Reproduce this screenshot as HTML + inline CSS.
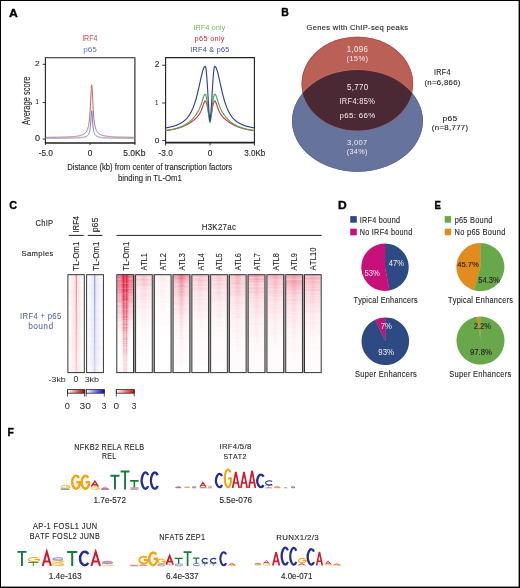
<!DOCTYPE html>
<html><head><meta charset="utf-8"><style>
html,body{margin:0;padding:0;background:#fff;}
svg{display:block;will-change:transform;}
text{font-family:"Liberation Sans", sans-serif;font-kerning:none;}
</style></head><body>
<svg width="520" height="588" viewBox="0 0 520 588">
<rect width="520" height="588" fill="#fff"/>
<text transform="translate(9.10,16.50) scale(1.0511,1)" font-size="11.628" fill="#000" font-weight="bold" stroke="#000" stroke-width="0.35">A</text>
<text transform="translate(281.30,16.40) scale(0.9500,1)" font-size="11.047" fill="#000" font-weight="bold" stroke="#000" stroke-width="0.35">B</text>
<text transform="translate(9.15,209.29) scale(0.9492,1)" font-size="11.441" fill="#000" font-weight="bold" stroke="#000" stroke-width="0.35">C</text>
<text transform="translate(338.09,209.10) scale(1.0923,1)" font-size="11.047" fill="#000" font-weight="bold" stroke="#000" stroke-width="0.35">D</text>
<text transform="translate(434.56,209.30) scale(0.8490,1)" font-size="11.337" fill="#000" font-weight="bold" stroke="#000" stroke-width="0.35">E</text>
<text transform="translate(7.60,435.50) scale(0.9583,1)" font-size="10.901" fill="#000" font-weight="bold" stroke="#000" stroke-width="0.35">F</text>
<text transform="translate(82.15,41.00) scale(0.8497,1)" font-size="8.285" fill="#c0504d">IRF4</text>
<text transform="translate(83.17,52.20) scale(1.1089,1)" font-size="7.447" fill="#5b74b4">p65</text>
<text transform="translate(193.46,29.70) scale(0.9237,1)" font-size="7.521" fill="#6cb45a" letter-spacing="0.301">IRF4 only</text>
<text transform="translate(194.62,41.10) scale(1.0097,1)" font-size="7.314" fill="#c8283f" letter-spacing="0.293">p65 only</text>
<text transform="translate(190.34,52.40) scale(0.8967,1)" font-size="8.020" fill="#34468c" letter-spacing="0.321">IRF4 &amp; p65</text>
<path d="M45.4,143.0 V57.8 H134.9 V143.0" fill="none" stroke="#231f20" stroke-width="1.1"/>
<line x1="44.9" y1="143.0" x2="135.4" y2="143.0" stroke="#231f20" stroke-width="1.6"/>
<line x1="42.6" y1="64.3" x2="45.4" y2="64.3" stroke="#231f20" stroke-width="0.9"/>
<line x1="42.6" y1="102.6" x2="45.4" y2="102.6" stroke="#231f20" stroke-width="0.9"/>
<line x1="42.6" y1="139.0" x2="45.4" y2="139.0" stroke="#231f20" stroke-width="0.9"/>
<line x1="45.4" y1="143.0" x2="45.4" y2="145.0" stroke="#231f20" stroke-width="0.9"/>
<line x1="90.1" y1="143.0" x2="90.1" y2="145.0" stroke="#231f20" stroke-width="0.9"/>
<line x1="134.9" y1="143.0" x2="134.9" y2="145.0" stroke="#231f20" stroke-width="0.9"/>
<text transform="translate(35.08,66.00) scale(1.0786,1)" font-size="7.734" fill="#231f20" stroke="#231f20" stroke-width="0.12">2</text>
<text transform="translate(35.44,103.50) scale(0.8298,1)" font-size="7.268" fill="#231f20" stroke="#231f20" stroke-width="0.12">1</text>
<text transform="translate(35.05,141.40) scale(1.0646,1)" font-size="8.450" fill="#231f20" stroke="#231f20" stroke-width="0.12">0</text>
<text transform="translate(38.63,155.90) scale(0.9724,1)" font-size="8.593" fill="#231f20" stroke="#231f20" stroke-width="0.12">-5.0</text>
<text transform="translate(87.77,155.90) scale(0.9738,1)" font-size="8.593" fill="#231f20" stroke="#231f20" stroke-width="0.12">0</text>
<text transform="translate(123.16,155.90) scale(1.0353,1)" font-size="8.280" fill="#231f20" stroke="#231f20" stroke-width="0.12">5.0Kb</text>
<text transform="translate(30.30,125.11) rotate(-90) scale(0.6830,1)" font-size="11.047" fill="#231f20" stroke="#231f20" stroke-width="0.12">Average score</text>
<path d="M165.6,142.6 V57.6 H254.4 V142.6" fill="none" stroke="#231f20" stroke-width="1.1"/>
<line x1="165.1" y1="142.6" x2="254.9" y2="142.6" stroke="#231f20" stroke-width="1.6"/>
<line x1="162.2" y1="65.2" x2="165.6" y2="65.2" stroke="#231f20" stroke-width="0.9"/>
<line x1="162.2" y1="103.0" x2="165.6" y2="103.0" stroke="#231f20" stroke-width="0.9"/>
<line x1="162.2" y1="140.6" x2="165.6" y2="140.6" stroke="#231f20" stroke-width="0.9"/>
<line x1="165.6" y1="142.6" x2="165.6" y2="145.6" stroke="#231f20" stroke-width="0.9"/>
<line x1="210.0" y1="142.6" x2="210.0" y2="145.6" stroke="#231f20" stroke-width="0.9"/>
<line x1="254.4" y1="142.6" x2="254.4" y2="145.6" stroke="#231f20" stroke-width="0.9"/>
<text transform="translate(154.68,67.40) scale(0.9872,1)" font-size="8.450" fill="#231f20" stroke="#231f20" stroke-width="0.12">2</text>
<text transform="translate(155.19,104.80) scale(0.7196,1)" font-size="7.413" fill="#231f20" stroke="#231f20" stroke-width="0.12">1</text>
<text transform="translate(154.87,142.70) scale(1.1236,1)" font-size="7.447" fill="#231f20" stroke="#231f20" stroke-width="0.12">0</text>
<text transform="translate(158.53,155.90) scale(0.9653,1)" font-size="8.593" fill="#231f20" stroke="#231f20" stroke-width="0.12">-3.0</text>
<text transform="translate(207.67,155.90) scale(0.9738,1)" font-size="8.593" fill="#231f20" stroke="#231f20" stroke-width="0.12">0</text>
<text transform="translate(244.19,155.90) scale(0.9773,1)" font-size="8.280" fill="#231f20" stroke="#231f20" stroke-width="0.12">3.0Kb</text>
<text transform="translate(67.16,169.80) scale(0.8505,1)" font-size="9.108" fill="#231f20" stroke="#231f20" stroke-width="0.12">Distance (kb) from center of transcription factors</text>
<text transform="translate(118.00,180.50) scale(0.8526,1)" font-size="9.108" fill="#231f20" stroke="#231f20" stroke-width="0.12">binding in TL-Om1</text>
<polyline points="45.35,137.35 45.50,137.34 45.65,137.34 45.80,137.34 45.95,137.34 46.10,137.34 46.24,137.34 46.39,137.34 46.54,137.34 46.69,137.34 46.84,137.33 46.99,137.33 47.14,137.33 47.29,137.33 47.44,137.33 47.59,137.33 47.74,137.33 47.89,137.33 48.03,137.33 48.18,137.32 48.33,137.32 48.48,137.32 48.63,137.32 48.78,137.32 48.93,137.32 49.08,137.32 49.23,137.32 49.38,137.31 49.53,137.31 49.68,137.31 49.82,137.31 49.97,137.31 50.12,137.31 50.27,137.31 50.42,137.30 50.57,137.30 50.72,137.30 50.87,137.30 51.02,137.30 51.17,137.30 51.32,137.30 51.47,137.29 51.61,137.29 51.76,137.29 51.91,137.29 52.06,137.29 52.21,137.29 52.36,137.28 52.51,137.28 52.66,137.28 52.81,137.28 52.96,137.28 53.11,137.28 53.26,137.27 53.40,137.27 53.55,137.27 53.70,137.27 53.85,137.27 54.00,137.27 54.15,137.26 54.30,137.26 54.45,137.26 54.60,137.26 54.75,137.26 54.90,137.25 55.05,137.25 55.19,137.25 55.34,137.25 55.49,137.25 55.64,137.24 55.79,137.24 55.94,137.24 56.09,137.24 56.24,137.24 56.39,137.23 56.54,137.23 56.69,137.23 56.84,137.23 56.98,137.22 57.13,137.22 57.28,137.22 57.43,137.22 57.58,137.22 57.73,137.21 57.88,137.21 58.03,137.21 58.18,137.21 58.33,137.20 58.48,137.20 58.63,137.20 58.77,137.19 58.92,137.19 59.07,137.19 59.22,137.19 59.37,137.18 59.52,137.18 59.67,137.18 59.82,137.18 59.97,137.17 60.12,137.17 60.27,137.17 60.42,137.16 60.56,137.16 60.71,137.16 60.86,137.15 61.01,137.15 61.16,137.15 61.31,137.14 61.46,137.14 61.61,137.14 61.76,137.13 61.91,137.13 62.06,137.13 62.21,137.12 62.35,137.12 62.50,137.12 62.65,137.11 62.80,137.11 62.95,137.10 63.10,137.10 63.25,137.10 63.40,137.09 63.55,137.09 63.70,137.08 63.85,137.08 64.00,137.07 64.14,137.07 64.29,137.07 64.44,137.06 64.59,137.06 64.74,137.05 64.89,137.05 65.04,137.04 65.19,137.04 65.34,137.03 65.49,137.03 65.64,137.02 65.79,137.02 65.94,137.01 66.08,137.01 66.23,137.00 66.38,137.00 66.53,136.99 66.68,136.98 66.83,136.98 66.98,136.97 67.13,136.97 67.28,136.96 67.43,136.95 67.58,136.95 67.72,136.94 67.87,136.94 68.02,136.93 68.17,136.92 68.32,136.92 68.47,136.91 68.62,136.90 68.77,136.89 68.92,136.89 69.07,136.88 69.22,136.87 69.37,136.86 69.51,136.86 69.66,136.85 69.81,136.84 69.96,136.83 70.11,136.82 70.26,136.81 70.41,136.81 70.56,136.80 70.71,136.79 70.86,136.78 71.01,136.77 71.16,136.76 71.30,136.75 71.45,136.74 71.60,136.73 71.75,136.72 71.90,136.71 72.05,136.70 72.20,136.69 72.35,136.68 72.50,136.66 72.65,136.65 72.80,136.64 72.95,136.63 73.09,136.62 73.24,136.60 73.39,136.59 73.54,136.58 73.69,136.56 73.84,136.55 73.99,136.54 74.14,136.52 74.29,136.51 74.44,136.49 74.59,136.48 74.74,136.46 74.88,136.44 75.03,136.43 75.18,136.41 75.33,136.39 75.48,136.38 75.63,136.36 75.78,136.34 75.93,136.32 76.08,136.30 76.23,136.28 76.38,136.26 76.53,136.24 76.67,136.22 76.82,136.20 76.97,136.18 77.12,136.15 77.27,136.13 77.42,136.11 77.57,136.08 77.72,136.06 77.87,136.03 78.02,136.01 78.17,135.98 78.32,135.95 78.47,135.92 78.61,135.89 78.76,135.86 78.91,135.83 79.06,135.80 79.21,135.77 79.36,135.73 79.51,135.70 79.66,135.66 79.81,135.63 79.96,135.59 80.11,135.55 80.25,135.51 80.40,135.47 80.55,135.43 80.70,135.39 80.85,135.34 81.00,135.29 81.15,135.25 81.30,135.20 81.45,135.15 81.60,135.09 81.75,135.04 81.90,134.98 82.04,134.93 82.19,134.87 82.34,134.80 82.49,134.74 82.64,134.67 82.79,134.60 82.94,134.53 83.09,134.46 83.24,134.38 83.39,134.30 83.54,134.21 83.69,134.13 83.83,134.03 83.98,133.94 84.13,133.84 84.28,133.74 84.43,133.63 84.58,133.51 84.73,133.40 84.88,133.27 85.03,133.14 85.18,133.00 85.33,132.86 85.48,132.70 85.62,132.54 85.77,132.37 85.92,132.19 86.07,132.00 86.22,131.79 86.37,131.57 86.52,131.34 86.67,131.09 86.82,130.83 86.97,130.54 87.12,130.23 87.27,129.90 87.41,129.54 87.56,129.15 87.71,128.73 87.86,128.27 88.01,127.77 88.16,127.22 88.31,126.61 88.46,125.94 88.61,125.21 88.76,124.39 88.91,123.49 89.06,122.48 89.20,121.36 89.35,120.10 89.50,118.69 89.65,117.12 89.80,115.35 89.95,113.39 90.10,111.19 90.25,108.76 90.40,106.10 90.55,103.22 90.70,100.17 90.85,97.01 90.99,93.87 91.14,90.91 91.29,88.33 91.44,86.35 91.59,85.15 91.74,84.86 91.89,85.52 92.04,87.05 92.19,89.30 92.34,92.06 92.49,95.11 92.64,98.28 92.78,101.41 92.93,104.40 93.08,107.20 93.23,109.76 93.38,112.10 93.53,114.20 93.68,116.08 93.83,117.77 93.98,119.27 94.13,120.62 94.28,121.82 94.43,122.90 94.57,123.86 94.72,124.73 94.87,125.51 95.02,126.22 95.17,126.86 95.32,127.44 95.47,127.97 95.62,128.46 95.77,128.90 95.92,129.31 96.07,129.69 96.22,130.04 96.36,130.36 96.51,130.66 96.66,130.93 96.81,131.19 96.96,131.44 97.11,131.66 97.26,131.87 97.41,132.07 97.56,132.26 97.71,132.44 97.86,132.61 98.01,132.76 98.16,132.92 98.30,133.06 98.45,133.19 98.60,133.32 98.75,133.44 98.90,133.56 99.05,133.67 99.20,133.78 99.35,133.88 99.50,133.98 99.65,134.07 99.80,134.16 99.94,134.25 100.09,134.33 100.24,134.41 100.39,134.49 100.54,134.56 100.69,134.63 100.84,134.70 100.99,134.76 101.14,134.83 101.29,134.89 101.44,134.95 101.59,135.01 101.73,135.06 101.88,135.12 102.03,135.17 102.18,135.22 102.33,135.27 102.48,135.31 102.63,135.36 102.78,135.40 102.93,135.45 103.08,135.49 103.23,135.53 103.38,135.57 103.52,135.61 103.67,135.64 103.82,135.68 103.97,135.71 104.12,135.75 104.27,135.78 104.42,135.81 104.57,135.84 104.72,135.88 104.87,135.91 105.02,135.93 105.17,135.96 105.31,135.99 105.46,136.02 105.61,136.04 105.76,136.07 105.91,136.09 106.06,136.12 106.21,136.14 106.36,136.16 106.51,136.19 106.66,136.21 106.81,136.23 106.96,136.25 107.10,136.27 107.25,136.29 107.40,136.31 107.55,136.33 107.70,136.35 107.85,136.37 108.00,136.38 108.15,136.40 108.30,136.42 108.45,136.43 108.60,136.45 108.75,136.47 108.89,136.48 109.04,136.50 109.19,136.51 109.34,136.53 109.49,136.54 109.64,136.55 109.79,136.57 109.94,136.58 110.09,136.59 110.24,136.61 110.39,136.62 110.54,136.63 110.69,136.64 110.83,136.66 110.98,136.67 111.13,136.68 111.28,136.69 111.43,136.70 111.58,136.71 111.73,136.72 111.88,136.73 112.03,136.74 112.18,136.75 112.33,136.76 112.47,136.77 112.62,136.78 112.77,136.79 112.92,136.80 113.07,136.81 113.22,136.82 113.37,136.83 113.52,136.83 113.67,136.84 113.82,136.85 113.97,136.86 114.12,136.87 114.26,136.87 114.41,136.88 114.56,136.89 114.71,136.90 114.86,136.90 115.01,136.91 115.16,136.92 115.31,136.92 115.46,136.93 115.61,136.94 115.76,136.94 115.91,136.95 116.05,136.96 116.20,136.96 116.35,136.97 116.50,136.98 116.65,136.98 116.80,136.99 116.95,136.99 117.10,137.00 117.25,137.00 117.40,137.01 117.55,137.01 117.70,137.02 117.84,137.02 117.99,137.03 118.14,137.03 118.29,137.04 118.44,137.04 118.59,137.05 118.74,137.05 118.89,137.06 119.04,137.06 119.19,137.07 119.34,137.07 119.49,137.08 119.64,137.08 119.78,137.08 119.93,137.09 120.08,137.09 120.23,137.10 120.38,137.10 120.53,137.11 120.68,137.11 120.83,137.11 120.98,137.12 121.13,137.12 121.28,137.12 121.42,137.13 121.57,137.13 121.72,137.13 121.87,137.14 122.02,137.14 122.17,137.14 122.32,137.15 122.47,137.15 122.62,137.15 122.77,137.16 122.92,137.16 123.07,137.16 123.21,137.17 123.36,137.17 123.51,137.17 123.66,137.18 123.81,137.18 123.96,137.18 124.11,137.18 124.26,137.19 124.41,137.19 124.56,137.19 124.71,137.20 124.86,137.20 125.00,137.20 125.15,137.20 125.30,137.21 125.45,137.21 125.60,137.21 125.75,137.21 125.90,137.22 126.05,137.22 126.20,137.22 126.35,137.22 126.50,137.23 126.65,137.23 126.79,137.23 126.94,137.23 127.09,137.23 127.24,137.24 127.39,137.24 127.54,137.24 127.69,137.24 127.84,137.25 127.99,137.25 128.14,137.25 128.29,137.25 128.44,137.25 128.59,137.26 128.73,137.26 128.88,137.26 129.03,137.26 129.18,137.26 129.33,137.26 129.48,137.27 129.63,137.27 129.78,137.27 129.93,137.27 130.08,137.27 130.23,137.28 130.38,137.28 130.52,137.28 130.67,137.28 130.82,137.28 130.97,137.28 131.12,137.29 131.27,137.29 131.42,137.29 131.57,137.29 131.72,137.29 131.87,137.29 132.02,137.29 132.16,137.30 132.31,137.30 132.46,137.30 132.61,137.30 132.76,137.30 132.91,137.30 133.06,137.31 133.21,137.31 133.36,137.31 133.51,137.31 133.66,137.31 133.81,137.31 133.95,137.31 134.10,137.31 134.25,137.32 134.40,137.32 134.55,137.32 134.70,137.32 134.85,137.32" fill="none" stroke="#c9605a" stroke-width="1.0" stroke-linejoin="round"/>
<polyline points="45.35,138.28 45.50,138.28 45.65,138.28 45.80,138.28 45.95,138.28 46.10,138.28 46.24,138.28 46.39,138.28 46.54,138.28 46.69,138.28 46.84,138.28 46.99,138.28 47.14,138.27 47.29,138.27 47.44,138.27 47.59,138.27 47.74,138.27 47.89,138.27 48.03,138.27 48.18,138.27 48.33,138.27 48.48,138.27 48.63,138.27 48.78,138.27 48.93,138.27 49.08,138.27 49.23,138.27 49.38,138.27 49.53,138.27 49.68,138.27 49.82,138.27 49.97,138.27 50.12,138.27 50.27,138.27 50.42,138.27 50.57,138.27 50.72,138.27 50.87,138.27 51.02,138.26 51.17,138.26 51.32,138.26 51.47,138.26 51.61,138.26 51.76,138.26 51.91,138.26 52.06,138.26 52.21,138.26 52.36,138.26 52.51,138.26 52.66,138.26 52.81,138.26 52.96,138.26 53.11,138.26 53.26,138.26 53.40,138.26 53.55,138.26 53.70,138.26 53.85,138.26 54.00,138.25 54.15,138.25 54.30,138.25 54.45,138.25 54.60,138.25 54.75,138.25 54.90,138.25 55.05,138.25 55.19,138.25 55.34,138.25 55.49,138.25 55.64,138.25 55.79,138.25 55.94,138.25 56.09,138.25 56.24,138.25 56.39,138.24 56.54,138.24 56.69,138.24 56.84,138.24 56.98,138.24 57.13,138.24 57.28,138.24 57.43,138.24 57.58,138.24 57.73,138.24 57.88,138.24 58.03,138.24 58.18,138.24 58.33,138.23 58.48,138.23 58.63,138.23 58.77,138.23 58.92,138.23 59.07,138.23 59.22,138.23 59.37,138.23 59.52,138.23 59.67,138.23 59.82,138.23 59.97,138.23 60.12,138.22 60.27,138.22 60.42,138.22 60.56,138.22 60.71,138.22 60.86,138.22 61.01,138.22 61.16,138.22 61.31,138.22 61.46,138.22 61.61,138.21 61.76,138.21 61.91,138.21 62.06,138.21 62.21,138.21 62.35,138.21 62.50,138.21 62.65,138.21 62.80,138.21 62.95,138.20 63.10,138.20 63.25,138.20 63.40,138.20 63.55,138.20 63.70,138.20 63.85,138.20 64.00,138.20 64.14,138.19 64.29,138.19 64.44,138.19 64.59,138.19 64.74,138.19 64.89,138.19 65.04,138.18 65.19,138.18 65.34,138.18 65.49,138.18 65.64,138.18 65.79,138.18 65.94,138.18 66.08,138.17 66.23,138.17 66.38,138.17 66.53,138.17 66.68,138.17 66.83,138.16 66.98,138.16 67.13,138.16 67.28,138.16 67.43,138.16 67.58,138.16 67.72,138.15 67.87,138.15 68.02,138.15 68.17,138.15 68.32,138.14 68.47,138.14 68.62,138.14 68.77,138.14 68.92,138.14 69.07,138.13 69.22,138.13 69.37,138.13 69.51,138.13 69.66,138.12 69.81,138.12 69.96,138.12 70.11,138.12 70.26,138.11 70.41,138.11 70.56,138.11 70.71,138.10 70.86,138.10 71.01,138.10 71.16,138.09 71.30,138.09 71.45,138.09 71.60,138.09 71.75,138.08 71.90,138.08 72.05,138.07 72.20,138.07 72.35,138.07 72.50,138.06 72.65,138.06 72.80,138.06 72.95,138.05 73.09,138.05 73.24,138.04 73.39,138.04 73.54,138.04 73.69,138.03 73.84,138.03 73.99,138.02 74.14,138.02 74.29,138.01 74.44,138.01 74.59,138.00 74.74,138.00 74.88,137.99 75.03,137.99 75.18,137.98 75.33,137.98 75.48,137.97 75.63,137.96 75.78,137.96 75.93,137.95 76.08,137.95 76.23,137.94 76.38,137.93 76.53,137.93 76.67,137.92 76.82,137.91 76.97,137.90 77.12,137.90 77.27,137.89 77.42,137.88 77.57,137.87 77.72,137.86 77.87,137.86 78.02,137.85 78.17,137.84 78.32,137.83 78.47,137.82 78.61,137.81 78.76,137.80 78.91,137.79 79.06,137.78 79.21,137.77 79.36,137.76 79.51,137.74 79.66,137.73 79.81,137.72 79.96,137.71 80.11,137.69 80.25,137.68 80.40,137.67 80.55,137.65 80.70,137.64 80.85,137.62 81.00,137.61 81.15,137.59 81.30,137.57 81.45,137.56 81.60,137.54 81.75,137.52 81.90,137.50 82.04,137.48 82.19,137.46 82.34,137.44 82.49,137.42 82.64,137.39 82.79,137.37 82.94,137.34 83.09,137.32 83.24,137.29 83.39,137.26 83.54,137.24 83.69,137.21 83.83,137.17 83.98,137.14 84.13,137.11 84.28,137.07 84.43,137.04 84.58,137.00 84.73,136.96 84.88,136.92 85.03,136.87 85.18,136.82 85.33,136.78 85.48,136.72 85.62,136.67 85.77,136.61 85.92,136.55 86.07,136.49 86.22,136.42 86.37,136.35 86.52,136.28 86.67,136.19 86.82,136.11 86.97,136.01 87.12,135.91 87.27,135.81 87.41,135.69 87.56,135.57 87.71,135.43 87.86,135.28 88.01,135.12 88.16,134.94 88.31,134.74 88.46,134.52 88.61,134.27 88.76,134.00 88.91,133.69 89.06,133.34 89.20,132.94 89.35,132.48 89.50,131.96 89.65,131.35 89.80,130.65 89.95,129.83 90.10,128.86 90.25,127.73 90.40,126.40 90.55,124.84 90.70,123.04 90.85,121.00 90.99,118.75 91.14,116.39 91.29,114.13 91.44,112.23 91.59,111.01 91.74,110.71 91.89,111.40 92.04,112.92 92.19,115.01 92.34,117.34 92.49,119.67 92.64,121.85 92.78,123.79 92.93,125.49 93.08,126.96 93.23,128.20 93.38,129.27 93.53,130.17 93.68,130.94 93.83,131.61 93.98,132.18 94.13,132.67 94.28,133.11 94.43,133.48 94.57,133.82 94.72,134.11 94.87,134.37 95.02,134.61 95.17,134.82 95.32,135.01 95.47,135.18 95.62,135.34 95.77,135.48 95.92,135.62 96.07,135.74 96.22,135.85 96.36,135.96 96.51,136.05 96.66,136.14 96.81,136.23 96.96,136.31 97.11,136.38 97.26,136.45 97.41,136.52 97.56,136.58 97.71,136.64 97.86,136.69 98.01,136.75 98.16,136.80 98.30,136.84 98.45,136.89 98.60,136.93 98.75,136.97 98.90,137.01 99.05,137.05 99.20,137.09 99.35,137.12 99.50,137.16 99.65,137.19 99.80,137.22 99.94,137.25 100.09,137.28 100.24,137.30 100.39,137.33 100.54,137.35 100.69,137.38 100.84,137.40 100.99,137.42 101.14,137.45 101.29,137.47 101.44,137.49 101.59,137.51 101.73,137.53 101.88,137.54 102.03,137.56 102.18,137.58 102.33,137.60 102.48,137.61 102.63,137.63 102.78,137.64 102.93,137.66 103.08,137.67 103.23,137.69 103.38,137.70 103.52,137.71 103.67,137.72 103.82,137.74 103.97,137.75 104.12,137.76 104.27,137.77 104.42,137.78 104.57,137.79 104.72,137.80 104.87,137.81 105.02,137.82 105.17,137.83 105.31,137.84 105.46,137.85 105.61,137.86 105.76,137.87 105.91,137.88 106.06,137.88 106.21,137.89 106.36,137.90 106.51,137.91 106.66,137.91 106.81,137.92 106.96,137.93 107.10,137.94 107.25,137.94 107.40,137.95 107.55,137.95 107.70,137.96 107.85,137.97 108.00,137.97 108.15,137.98 108.30,137.98 108.45,137.99 108.60,137.99 108.75,138.00 108.89,138.00 109.04,138.01 109.19,138.01 109.34,138.02 109.49,138.02 109.64,138.03 109.79,138.03 109.94,138.04 110.09,138.04 110.24,138.05 110.39,138.05 110.54,138.05 110.69,138.06 110.83,138.06 110.98,138.07 111.13,138.07 111.28,138.07 111.43,138.08 111.58,138.08 111.73,138.08 111.88,138.09 112.03,138.09 112.18,138.09 112.33,138.10 112.47,138.10 112.62,138.10 112.77,138.11 112.92,138.11 113.07,138.11 113.22,138.11 113.37,138.12 113.52,138.12 113.67,138.12 113.82,138.12 113.97,138.13 114.12,138.13 114.26,138.13 114.41,138.13 114.56,138.14 114.71,138.14 114.86,138.14 115.01,138.14 115.16,138.15 115.31,138.15 115.46,138.15 115.61,138.15 115.76,138.15 115.91,138.16 116.05,138.16 116.20,138.16 116.35,138.16 116.50,138.16 116.65,138.17 116.80,138.17 116.95,138.17 117.10,138.17 117.25,138.17 117.40,138.17 117.55,138.18 117.70,138.18 117.84,138.18 117.99,138.18 118.14,138.18 118.29,138.18 118.44,138.19 118.59,138.19 118.74,138.19 118.89,138.19 119.04,138.19 119.19,138.19 119.34,138.19 119.49,138.20 119.64,138.20 119.78,138.20 119.93,138.20 120.08,138.20 120.23,138.20 120.38,138.20 120.53,138.20 120.68,138.21 120.83,138.21 120.98,138.21 121.13,138.21 121.28,138.21 121.42,138.21 121.57,138.21 121.72,138.21 121.87,138.21 122.02,138.22 122.17,138.22 122.32,138.22 122.47,138.22 122.62,138.22 122.77,138.22 122.92,138.22 123.07,138.22 123.21,138.22 123.36,138.22 123.51,138.23 123.66,138.23 123.81,138.23 123.96,138.23 124.11,138.23 124.26,138.23 124.41,138.23 124.56,138.23 124.71,138.23 124.86,138.23 125.00,138.23 125.15,138.24 125.30,138.24 125.45,138.24 125.60,138.24 125.75,138.24 125.90,138.24 126.05,138.24 126.20,138.24 126.35,138.24 126.50,138.24 126.65,138.24 126.79,138.24 126.94,138.24 127.09,138.24 127.24,138.25 127.39,138.25 127.54,138.25 127.69,138.25 127.84,138.25 127.99,138.25 128.14,138.25 128.29,138.25 128.44,138.25 128.59,138.25 128.73,138.25 128.88,138.25 129.03,138.25 129.18,138.25 129.33,138.25 129.48,138.25 129.63,138.26 129.78,138.26 129.93,138.26 130.08,138.26 130.23,138.26 130.38,138.26 130.52,138.26 130.67,138.26 130.82,138.26 130.97,138.26 131.12,138.26 131.27,138.26 131.42,138.26 131.57,138.26 131.72,138.26 131.87,138.26 132.02,138.26 132.16,138.26 132.31,138.26 132.46,138.26 132.61,138.27 132.76,138.27 132.91,138.27 133.06,138.27 133.21,138.27 133.36,138.27 133.51,138.27 133.66,138.27 133.81,138.27 133.95,138.27 134.10,138.27 134.25,138.27 134.40,138.27 134.55,138.27 134.70,138.27 134.85,138.27" fill="none" stroke="#6a80c0" stroke-width="1.0" stroke-linejoin="round"/>
<polyline points="165.60,130.65 165.75,130.63 165.90,130.61 166.04,130.59 166.19,130.57 166.34,130.55 166.49,130.53 166.64,130.50 166.78,130.48 166.93,130.46 167.08,130.44 167.23,130.42 167.38,130.40 167.52,130.38 167.67,130.35 167.82,130.33 167.97,130.31 168.12,130.29 168.26,130.26 168.41,130.24 168.56,130.22 168.71,130.19 168.86,130.17 169.00,130.15 169.15,130.12 169.30,130.10 169.45,130.07 169.60,130.05 169.74,130.02 169.89,130.00 170.04,129.97 170.19,129.95 170.34,129.92 170.48,129.90 170.63,129.87 170.78,129.84 170.93,129.82 171.08,129.79 171.22,129.76 171.37,129.73 171.52,129.71 171.67,129.68 171.82,129.65 171.96,129.62 172.11,129.59 172.26,129.56 172.41,129.53 172.56,129.50 172.70,129.47 172.85,129.44 173.00,129.41 173.15,129.38 173.30,129.35 173.44,129.32 173.59,129.29 173.74,129.25 173.89,129.22 174.04,129.19 174.18,129.15 174.33,129.12 174.48,129.09 174.63,129.05 174.78,129.02 174.92,128.98 175.07,128.95 175.22,128.91 175.37,128.88 175.52,128.84 175.66,128.80 175.81,128.77 175.96,128.73 176.11,128.69 176.26,128.66 176.40,128.62 176.55,128.58 176.70,128.54 176.85,128.50 177.00,128.46 177.14,128.42 177.29,128.38 177.44,128.34 177.59,128.30 177.74,128.25 177.88,128.21 178.03,128.17 178.18,128.13 178.33,128.08 178.48,128.04 178.62,127.99 178.77,127.95 178.92,127.90 179.07,127.86 179.22,127.81 179.36,127.77 179.51,127.72 179.66,127.67 179.81,127.62 179.96,127.57 180.10,127.53 180.25,127.48 180.40,127.43 180.55,127.38 180.70,127.32 180.84,127.27 180.99,127.22 181.14,127.17 181.29,127.11 181.44,127.06 181.58,127.01 181.73,126.95 181.88,126.90 182.03,126.84 182.18,126.78 182.32,126.73 182.47,126.67 182.62,126.61 182.77,126.55 182.92,126.49 183.06,126.43 183.21,126.37 183.36,126.31 183.51,126.25 183.66,126.19 183.80,126.12 183.95,126.06 184.10,126.00 184.25,125.93 184.40,125.87 184.54,125.80 184.69,125.73 184.84,125.66 184.99,125.60 185.14,125.53 185.28,125.46 185.43,125.39 185.58,125.32 185.73,125.24 185.88,125.17 186.02,125.10 186.17,125.03 186.32,124.95 186.47,124.88 186.62,124.80 186.76,124.72 186.91,124.64 187.06,124.57 187.21,124.49 187.36,124.41 187.50,124.33 187.65,124.25 187.80,124.16 187.95,124.08 188.10,124.00 188.24,123.91 188.39,123.83 188.54,123.74 188.69,123.65 188.84,123.56 188.98,123.48 189.13,123.39 189.28,123.29 189.43,123.20 189.58,123.11 189.72,123.02 189.87,122.92 190.02,122.83 190.17,122.73 190.32,122.64 190.46,122.54 190.61,122.44 190.76,122.34 190.91,122.24 191.06,122.14 191.20,122.03 191.35,121.93 191.50,121.83 191.65,121.72 191.80,121.61 191.94,121.51 192.09,121.40 192.24,121.29 192.39,121.18 192.54,121.07 192.68,120.95 192.83,120.84 192.98,120.72 193.13,120.61 193.28,120.49 193.42,120.37 193.57,120.25 193.72,120.13 193.87,120.01 194.02,119.88 194.16,119.76 194.31,119.63 194.46,119.50 194.61,119.37 194.76,119.24 194.90,119.11 195.05,118.97 195.20,118.84 195.35,118.70 195.50,118.56 195.64,118.42 195.79,118.28 195.94,118.13 196.09,117.98 196.24,117.83 196.38,117.68 196.53,117.53 196.68,117.37 196.83,117.21 196.98,117.05 197.12,116.89 197.27,116.72 197.42,116.55 197.57,116.38 197.72,116.20 197.86,116.02 198.01,115.84 198.16,115.65 198.31,115.46 198.46,115.26 198.60,115.06 198.75,114.86 198.90,114.64 199.05,114.43 199.20,114.21 199.34,113.98 199.49,113.74 199.64,113.50 199.79,113.25 199.94,113.00 200.08,112.73 200.23,112.46 200.38,112.18 200.53,111.89 200.68,111.59 200.82,111.28 200.97,110.96 201.12,110.64 201.27,110.30 201.42,109.95 201.56,109.58 201.71,109.21 201.86,108.83 202.01,108.44 202.16,108.03 202.30,107.62 202.45,107.20 202.60,106.77 202.75,106.33 202.90,105.89 203.04,105.45 203.19,105.01 203.34,104.57 203.49,104.13 203.64,103.71 203.78,103.31 203.93,102.92 204.08,102.55 204.23,102.22 204.38,101.92 204.52,101.65 204.67,101.43 204.82,101.25 204.97,101.12 205.12,101.04 205.26,101.01 205.41,101.05 205.56,101.15 205.71,101.31 205.86,101.53 206.00,101.82 206.15,102.17 206.30,102.57 206.45,103.03 206.60,103.55 206.74,104.10 206.89,104.71 207.04,105.35 207.19,106.03 207.34,106.74 207.48,107.48 207.63,108.24 207.78,109.01 207.93,109.79 208.08,110.57 208.22,111.36 208.37,112.13 208.52,112.89 208.67,113.62 208.82,114.33 208.96,115.00 209.11,115.64 209.26,116.22 209.41,116.74 209.56,117.19 209.70,117.57 209.85,117.84 210.00,117.98 210.15,117.84 210.30,117.57 210.44,117.19 210.59,116.74 210.74,116.22 210.89,115.64 211.04,115.00 211.18,114.33 211.33,113.62 211.48,112.89 211.63,112.13 211.78,111.36 211.92,110.57 212.07,109.79 212.22,109.01 212.37,108.24 212.52,107.48 212.66,106.74 212.81,106.03 212.96,105.35 213.11,104.71 213.26,104.10 213.40,103.55 213.55,103.03 213.70,102.57 213.85,102.17 214.00,101.82 214.14,101.53 214.29,101.31 214.44,101.15 214.59,101.05 214.74,101.01 214.88,101.04 215.03,101.12 215.18,101.25 215.33,101.43 215.48,101.65 215.62,101.92 215.77,102.22 215.92,102.55 216.07,102.92 216.22,103.31 216.36,103.71 216.51,104.13 216.66,104.57 216.81,105.01 216.96,105.45 217.10,105.89 217.25,106.33 217.40,106.77 217.55,107.20 217.70,107.62 217.84,108.03 217.99,108.44 218.14,108.83 218.29,109.21 218.44,109.58 218.58,109.95 218.73,110.30 218.88,110.64 219.03,110.96 219.18,111.28 219.32,111.59 219.47,111.89 219.62,112.18 219.77,112.46 219.92,112.73 220.06,113.00 220.21,113.25 220.36,113.50 220.51,113.74 220.66,113.98 220.80,114.21 220.95,114.43 221.10,114.64 221.25,114.86 221.40,115.06 221.54,115.26 221.69,115.46 221.84,115.65 221.99,115.84 222.14,116.02 222.28,116.20 222.43,116.38 222.58,116.55 222.73,116.72 222.88,116.89 223.02,117.05 223.17,117.21 223.32,117.37 223.47,117.53 223.62,117.68 223.76,117.83 223.91,117.98 224.06,118.13 224.21,118.28 224.36,118.42 224.50,118.56 224.65,118.70 224.80,118.84 224.95,118.97 225.10,119.11 225.24,119.24 225.39,119.37 225.54,119.50 225.69,119.63 225.84,119.76 225.98,119.88 226.13,120.01 226.28,120.13 226.43,120.25 226.58,120.37 226.72,120.49 226.87,120.61 227.02,120.72 227.17,120.84 227.32,120.95 227.46,121.07 227.61,121.18 227.76,121.29 227.91,121.40 228.06,121.51 228.20,121.61 228.35,121.72 228.50,121.83 228.65,121.93 228.80,122.03 228.94,122.14 229.09,122.24 229.24,122.34 229.39,122.44 229.54,122.54 229.68,122.64 229.83,122.73 229.98,122.83 230.13,122.92 230.28,123.02 230.42,123.11 230.57,123.20 230.72,123.29 230.87,123.39 231.02,123.48 231.16,123.56 231.31,123.65 231.46,123.74 231.61,123.83 231.76,123.91 231.90,124.00 232.05,124.08 232.20,124.16 232.35,124.25 232.50,124.33 232.64,124.41 232.79,124.49 232.94,124.57 233.09,124.64 233.24,124.72 233.38,124.80 233.53,124.88 233.68,124.95 233.83,125.03 233.98,125.10 234.12,125.17 234.27,125.24 234.42,125.32 234.57,125.39 234.72,125.46 234.86,125.53 235.01,125.60 235.16,125.66 235.31,125.73 235.46,125.80 235.60,125.87 235.75,125.93 235.90,126.00 236.05,126.06 236.20,126.12 236.34,126.19 236.49,126.25 236.64,126.31 236.79,126.37 236.94,126.43 237.08,126.49 237.23,126.55 237.38,126.61 237.53,126.67 237.68,126.73 237.82,126.78 237.97,126.84 238.12,126.90 238.27,126.95 238.42,127.01 238.56,127.06 238.71,127.11 238.86,127.17 239.01,127.22 239.16,127.27 239.30,127.32 239.45,127.38 239.60,127.43 239.75,127.48 239.90,127.53 240.04,127.57 240.19,127.62 240.34,127.67 240.49,127.72 240.64,127.77 240.78,127.81 240.93,127.86 241.08,127.90 241.23,127.95 241.38,127.99 241.52,128.04 241.67,128.08 241.82,128.13 241.97,128.17 242.12,128.21 242.26,128.25 242.41,128.30 242.56,128.34 242.71,128.38 242.86,128.42 243.00,128.46 243.15,128.50 243.30,128.54 243.45,128.58 243.60,128.62 243.74,128.66 243.89,128.69 244.04,128.73 244.19,128.77 244.34,128.80 244.48,128.84 244.63,128.88 244.78,128.91 244.93,128.95 245.08,128.98 245.22,129.02 245.37,129.05 245.52,129.09 245.67,129.12 245.82,129.15 245.96,129.19 246.11,129.22 246.26,129.25 246.41,129.29 246.56,129.32 246.70,129.35 246.85,129.38 247.00,129.41 247.15,129.44 247.30,129.47 247.44,129.50 247.59,129.53 247.74,129.56 247.89,129.59 248.04,129.62 248.18,129.65 248.33,129.68 248.48,129.71 248.63,129.73 248.78,129.76 248.92,129.79 249.07,129.82 249.22,129.84 249.37,129.87 249.52,129.90 249.66,129.92 249.81,129.95 249.96,129.97 250.11,130.00 250.26,130.02 250.40,130.05 250.55,130.07 250.70,130.10 250.85,130.12 251.00,130.15 251.14,130.17 251.29,130.19 251.44,130.22 251.59,130.24 251.74,130.26 251.88,130.29 252.03,130.31 252.18,130.33 252.33,130.35 252.48,130.38 252.62,130.40 252.77,130.42 252.92,130.44 253.07,130.46 253.22,130.48 253.36,130.50 253.51,130.53 253.66,130.55 253.81,130.57 253.96,130.59 254.10,130.61 254.25,130.63 254.40,130.65" fill="none" stroke="#d62d55" stroke-width="1.15" stroke-linejoin="round"/>
<polyline points="165.60,130.59 165.75,130.57 165.90,130.55 166.04,130.53 166.19,130.51 166.34,130.48 166.49,130.46 166.64,130.44 166.78,130.42 166.93,130.40 167.08,130.37 167.23,130.35 167.38,130.33 167.52,130.30 167.67,130.28 167.82,130.26 167.97,130.23 168.12,130.21 168.26,130.18 168.41,130.16 168.56,130.13 168.71,130.11 168.86,130.08 169.00,130.06 169.15,130.03 169.30,130.00 169.45,129.98 169.60,129.95 169.74,129.92 169.89,129.90 170.04,129.87 170.19,129.84 170.34,129.81 170.48,129.79 170.63,129.76 170.78,129.73 170.93,129.70 171.08,129.67 171.22,129.64 171.37,129.61 171.52,129.58 171.67,129.55 171.82,129.52 171.96,129.48 172.11,129.45 172.26,129.42 172.41,129.39 172.56,129.36 172.70,129.32 172.85,129.29 173.00,129.26 173.15,129.22 173.30,129.19 173.44,129.15 173.59,129.12 173.74,129.08 173.89,129.05 174.04,129.01 174.18,128.97 174.33,128.94 174.48,128.90 174.63,128.86 174.78,128.82 174.92,128.78 175.07,128.74 175.22,128.70 175.37,128.66 175.52,128.62 175.66,128.58 175.81,128.54 175.96,128.50 176.11,128.46 176.26,128.42 176.40,128.37 176.55,128.33 176.70,128.29 176.85,128.24 177.00,128.20 177.14,128.15 177.29,128.10 177.44,128.06 177.59,128.01 177.74,127.96 177.88,127.92 178.03,127.87 178.18,127.82 178.33,127.77 178.48,127.72 178.62,127.67 178.77,127.62 178.92,127.56 179.07,127.51 179.22,127.46 179.36,127.40 179.51,127.35 179.66,127.29 179.81,127.24 179.96,127.18 180.10,127.13 180.25,127.07 180.40,127.01 180.55,126.95 180.70,126.89 180.84,126.83 180.99,126.77 181.14,126.71 181.29,126.65 181.44,126.58 181.58,126.52 181.73,126.45 181.88,126.39 182.03,126.32 182.18,126.26 182.32,126.19 182.47,126.12 182.62,126.05 182.77,125.98 182.92,125.91 183.06,125.84 183.21,125.77 183.36,125.69 183.51,125.62 183.66,125.54 183.80,125.47 183.95,125.39 184.10,125.31 184.25,125.23 184.40,125.15 184.54,125.07 184.69,124.99 184.84,124.91 184.99,124.82 185.14,124.74 185.28,124.65 185.43,124.57 185.58,124.48 185.73,124.39 185.88,124.30 186.02,124.21 186.17,124.12 186.32,124.02 186.47,123.93 186.62,123.83 186.76,123.74 186.91,123.64 187.06,123.54 187.21,123.44 187.36,123.34 187.50,123.24 187.65,123.13 187.80,123.03 187.95,122.92 188.10,122.81 188.24,122.71 188.39,122.60 188.54,122.48 188.69,122.37 188.84,122.26 188.98,122.14 189.13,122.02 189.28,121.91 189.43,121.79 189.58,121.66 189.72,121.54 189.87,121.42 190.02,121.29 190.17,121.16 190.32,121.04 190.46,120.90 190.61,120.77 190.76,120.64 190.91,120.50 191.06,120.37 191.20,120.23 191.35,120.09 191.50,119.95 191.65,119.80 191.80,119.66 191.94,119.51 192.09,119.36 192.24,119.21 192.39,119.06 192.54,118.90 192.68,118.74 192.83,118.58 192.98,118.42 193.13,118.26 193.28,118.10 193.42,117.93 193.57,117.76 193.72,117.59 193.87,117.41 194.02,117.24 194.16,117.06 194.31,116.88 194.46,116.70 194.61,116.51 194.76,116.32 194.90,116.13 195.05,115.94 195.20,115.74 195.35,115.54 195.50,115.34 195.64,115.14 195.79,114.93 195.94,114.72 196.09,114.50 196.24,114.28 196.38,114.06 196.53,113.84 196.68,113.61 196.83,113.38 196.98,113.14 197.12,112.90 197.27,112.66 197.42,112.41 197.57,112.16 197.72,111.90 197.86,111.64 198.01,111.37 198.16,111.10 198.31,110.82 198.46,110.54 198.60,110.25 198.75,109.96 198.90,109.66 199.05,109.35 199.20,109.04 199.34,108.71 199.49,108.39 199.64,108.05 199.79,107.71 199.94,107.36 200.08,107.00 200.23,106.64 200.38,106.26 200.53,105.88 200.68,105.49 200.82,105.09 200.97,104.68 201.12,104.27 201.27,103.84 201.42,103.41 201.56,102.97 201.71,102.53 201.86,102.08 202.01,101.62 202.16,101.16 202.30,100.69 202.45,100.23 202.60,99.76 202.75,99.29 202.90,98.83 203.04,98.38 203.19,97.93 203.34,97.49 203.49,97.07 203.64,96.67 203.78,96.28 203.93,95.92 204.08,95.59 204.23,95.29 204.38,95.02 204.52,94.78 204.67,94.59 204.82,94.43 204.97,94.32 205.12,94.25 205.26,94.23 205.41,94.28 205.56,94.45 205.71,94.72 205.86,95.09 206.00,95.57 206.15,96.15 206.30,96.83 206.45,97.59 206.60,98.45 206.74,99.38 206.89,100.39 207.04,101.46 207.19,102.59 207.34,103.78 207.48,105.00 207.63,106.26 207.78,107.55 207.93,108.85 208.08,110.16 208.22,111.46 208.37,112.75 208.52,114.02 208.67,115.24 208.82,116.42 208.96,117.55 209.11,118.60 209.26,119.56 209.41,120.43 209.56,121.19 209.70,121.82 209.85,122.28 210.00,122.50 210.15,122.28 210.30,121.82 210.44,121.19 210.59,120.43 210.74,119.56 210.89,118.60 211.04,117.55 211.18,116.42 211.33,115.24 211.48,114.02 211.63,112.75 211.78,111.46 211.92,110.16 212.07,108.85 212.22,107.55 212.37,106.26 212.52,105.00 212.66,103.78 212.81,102.59 212.96,101.46 213.11,100.39 213.26,99.38 213.40,98.45 213.55,97.59 213.70,96.83 213.85,96.15 214.00,95.57 214.14,95.09 214.29,94.72 214.44,94.45 214.59,94.28 214.74,94.23 214.88,94.25 215.03,94.32 215.18,94.43 215.33,94.59 215.48,94.78 215.62,95.02 215.77,95.29 215.92,95.59 216.07,95.92 216.22,96.28 216.36,96.67 216.51,97.07 216.66,97.49 216.81,97.93 216.96,98.38 217.10,98.83 217.25,99.29 217.40,99.76 217.55,100.23 217.70,100.69 217.84,101.16 217.99,101.62 218.14,102.08 218.29,102.53 218.44,102.97 218.58,103.41 218.73,103.84 218.88,104.27 219.03,104.68 219.18,105.09 219.32,105.49 219.47,105.88 219.62,106.26 219.77,106.64 219.92,107.00 220.06,107.36 220.21,107.71 220.36,108.05 220.51,108.39 220.66,108.71 220.80,109.04 220.95,109.35 221.10,109.66 221.25,109.96 221.40,110.25 221.54,110.54 221.69,110.82 221.84,111.10 221.99,111.37 222.14,111.64 222.28,111.90 222.43,112.16 222.58,112.41 222.73,112.66 222.88,112.90 223.02,113.14 223.17,113.38 223.32,113.61 223.47,113.84 223.62,114.06 223.76,114.28 223.91,114.50 224.06,114.72 224.21,114.93 224.36,115.14 224.50,115.34 224.65,115.54 224.80,115.74 224.95,115.94 225.10,116.13 225.24,116.32 225.39,116.51 225.54,116.70 225.69,116.88 225.84,117.06 225.98,117.24 226.13,117.41 226.28,117.59 226.43,117.76 226.58,117.93 226.72,118.10 226.87,118.26 227.02,118.42 227.17,118.58 227.32,118.74 227.46,118.90 227.61,119.06 227.76,119.21 227.91,119.36 228.06,119.51 228.20,119.66 228.35,119.80 228.50,119.95 228.65,120.09 228.80,120.23 228.94,120.37 229.09,120.50 229.24,120.64 229.39,120.77 229.54,120.90 229.68,121.04 229.83,121.16 229.98,121.29 230.13,121.42 230.28,121.54 230.42,121.66 230.57,121.79 230.72,121.91 230.87,122.02 231.02,122.14 231.16,122.26 231.31,122.37 231.46,122.48 231.61,122.60 231.76,122.71 231.90,122.81 232.05,122.92 232.20,123.03 232.35,123.13 232.50,123.24 232.64,123.34 232.79,123.44 232.94,123.54 233.09,123.64 233.24,123.74 233.38,123.83 233.53,123.93 233.68,124.02 233.83,124.12 233.98,124.21 234.12,124.30 234.27,124.39 234.42,124.48 234.57,124.57 234.72,124.65 234.86,124.74 235.01,124.82 235.16,124.91 235.31,124.99 235.46,125.07 235.60,125.15 235.75,125.23 235.90,125.31 236.05,125.39 236.20,125.47 236.34,125.54 236.49,125.62 236.64,125.69 236.79,125.77 236.94,125.84 237.08,125.91 237.23,125.98 237.38,126.05 237.53,126.12 237.68,126.19 237.82,126.26 237.97,126.32 238.12,126.39 238.27,126.45 238.42,126.52 238.56,126.58 238.71,126.65 238.86,126.71 239.01,126.77 239.16,126.83 239.30,126.89 239.45,126.95 239.60,127.01 239.75,127.07 239.90,127.13 240.04,127.18 240.19,127.24 240.34,127.29 240.49,127.35 240.64,127.40 240.78,127.46 240.93,127.51 241.08,127.56 241.23,127.62 241.38,127.67 241.52,127.72 241.67,127.77 241.82,127.82 241.97,127.87 242.12,127.92 242.26,127.96 242.41,128.01 242.56,128.06 242.71,128.10 242.86,128.15 243.00,128.20 243.15,128.24 243.30,128.29 243.45,128.33 243.60,128.37 243.74,128.42 243.89,128.46 244.04,128.50 244.19,128.54 244.34,128.58 244.48,128.62 244.63,128.66 244.78,128.70 244.93,128.74 245.08,128.78 245.22,128.82 245.37,128.86 245.52,128.90 245.67,128.94 245.82,128.97 245.96,129.01 246.11,129.05 246.26,129.08 246.41,129.12 246.56,129.15 246.70,129.19 246.85,129.22 247.00,129.26 247.15,129.29 247.30,129.32 247.44,129.36 247.59,129.39 247.74,129.42 247.89,129.45 248.04,129.48 248.18,129.52 248.33,129.55 248.48,129.58 248.63,129.61 248.78,129.64 248.92,129.67 249.07,129.70 249.22,129.73 249.37,129.76 249.52,129.79 249.66,129.81 249.81,129.84 249.96,129.87 250.11,129.90 250.26,129.92 250.40,129.95 250.55,129.98 250.70,130.00 250.85,130.03 251.00,130.06 251.14,130.08 251.29,130.11 251.44,130.13 251.59,130.16 251.74,130.18 251.88,130.21 252.03,130.23 252.18,130.26 252.33,130.28 252.48,130.30 252.62,130.33 252.77,130.35 252.92,130.37 253.07,130.40 253.22,130.42 253.36,130.44 253.51,130.46 253.66,130.48 253.81,130.51 253.96,130.53 254.10,130.55 254.25,130.57 254.40,130.59" fill="none" stroke="#4fa64f" stroke-width="1.15" stroke-linejoin="round"/>
<polyline points="165.60,127.88 165.75,127.86 165.90,127.83 166.04,127.81 166.19,127.79 166.34,127.76 166.49,127.74 166.64,127.71 166.78,127.69 166.93,127.66 167.08,127.63 167.23,127.61 167.38,127.58 167.52,127.56 167.67,127.53 167.82,127.50 167.97,127.47 168.12,127.45 168.26,127.42 168.41,127.39 168.56,127.36 168.71,127.33 168.86,127.30 169.00,127.27 169.15,127.24 169.30,127.21 169.45,127.18 169.60,127.15 169.74,127.12 169.89,127.09 170.04,127.05 170.19,127.02 170.34,126.99 170.48,126.96 170.63,126.92 170.78,126.89 170.93,126.85 171.08,126.82 171.22,126.78 171.37,126.75 171.52,126.71 171.67,126.67 171.82,126.64 171.96,126.60 172.11,126.56 172.26,126.52 172.41,126.48 172.56,126.44 172.70,126.40 172.85,126.36 173.00,126.32 173.15,126.28 173.30,126.24 173.44,126.20 173.59,126.15 173.74,126.11 173.89,126.07 174.04,126.02 174.18,125.98 174.33,125.93 174.48,125.88 174.63,125.84 174.78,125.79 174.92,125.74 175.07,125.69 175.22,125.64 175.37,125.59 175.52,125.54 175.66,125.49 175.81,125.44 175.96,125.38 176.11,125.33 176.26,125.28 176.40,125.22 176.55,125.17 176.70,125.11 176.85,125.05 177.00,124.99 177.14,124.93 177.29,124.87 177.44,124.81 177.59,124.75 177.74,124.69 177.88,124.63 178.03,124.56 178.18,124.50 178.33,124.43 178.48,124.37 178.62,124.30 178.77,124.23 178.92,124.16 179.07,124.09 179.22,124.02 179.36,123.94 179.51,123.87 179.66,123.79 179.81,123.72 179.96,123.64 180.10,123.56 180.25,123.48 180.40,123.40 180.55,123.32 180.70,123.24 180.84,123.15 180.99,123.07 181.14,122.98 181.29,122.89 181.44,122.80 181.58,122.71 181.73,122.62 181.88,122.52 182.03,122.43 182.18,122.33 182.32,122.23 182.47,122.13 182.62,122.03 182.77,121.93 182.92,121.82 183.06,121.71 183.21,121.60 183.36,121.49 183.51,121.38 183.66,121.27 183.80,121.15 183.95,121.03 184.10,120.91 184.25,120.79 184.40,120.67 184.54,120.54 184.69,120.41 184.84,120.28 184.99,120.15 185.14,120.02 185.28,119.88 185.43,119.74 185.58,119.60 185.73,119.46 185.88,119.31 186.02,119.16 186.17,119.01 186.32,118.85 186.47,118.70 186.62,118.54 186.76,118.37 186.91,118.21 187.06,118.04 187.21,117.87 187.36,117.69 187.50,117.51 187.65,117.33 187.80,117.15 187.95,116.96 188.10,116.77 188.24,116.57 188.39,116.37 188.54,116.17 188.69,115.97 188.84,115.76 188.98,115.54 189.13,115.32 189.28,115.10 189.43,114.88 189.58,114.65 189.72,114.41 189.87,114.17 190.02,113.93 190.17,113.68 190.32,113.43 190.46,113.17 190.61,112.91 190.76,112.64 190.91,112.37 191.06,112.09 191.20,111.81 191.35,111.52 191.50,111.22 191.65,110.92 191.80,110.62 191.94,110.31 192.09,109.99 192.24,109.66 192.39,109.33 192.54,109.00 192.68,108.66 192.83,108.31 192.98,107.95 193.13,107.59 193.28,107.22 193.42,106.84 193.57,106.46 193.72,106.07 193.87,105.67 194.02,105.26 194.16,104.85 194.31,104.43 194.46,104.00 194.61,103.57 194.76,103.12 194.90,102.67 195.05,102.21 195.20,101.74 195.35,101.26 195.50,100.78 195.64,100.28 195.79,99.78 195.94,99.27 196.09,98.75 196.24,98.23 196.38,97.69 196.53,97.15 196.68,96.59 196.83,96.03 196.98,95.46 197.12,94.89 197.27,94.30 197.42,93.71 197.57,93.11 197.72,92.50 197.86,91.88 198.01,91.26 198.16,90.63 198.31,90.00 198.46,89.35 198.60,88.70 198.75,88.05 198.90,87.39 199.05,86.73 199.20,86.06 199.34,85.39 199.49,84.71 199.64,84.04 199.79,83.36 199.94,82.68 200.08,82.00 200.23,81.32 200.38,80.65 200.53,79.97 200.68,79.30 200.82,78.63 200.97,77.97 201.12,77.32 201.27,76.67 201.42,76.03 201.56,75.40 201.71,74.78 201.86,74.18 202.01,73.58 202.16,73.00 202.30,72.44 202.45,71.90 202.60,71.37 202.75,70.87 202.90,70.38 203.04,69.92 203.19,69.48 203.34,69.06 203.49,68.67 203.64,68.31 203.78,67.98 203.93,67.67 204.08,67.39 204.23,67.15 204.38,66.93 204.52,66.75 204.67,66.60 204.82,66.48 204.97,66.40 205.12,66.35 205.26,66.33 205.41,66.44 205.56,66.75 205.71,67.27 205.86,68.00 206.00,68.93 206.15,70.05 206.30,71.35 206.45,72.84 206.60,74.48 206.74,76.29 206.89,78.23 207.04,80.31 207.19,82.50 207.34,84.79 207.48,87.16 207.63,89.60 207.78,92.09 207.93,94.60 208.08,97.13 208.22,99.65 208.37,102.14 208.52,104.59 208.67,106.96 208.82,109.24 208.96,111.41 209.11,113.44 209.26,115.31 209.41,117.00 209.56,118.46 209.70,119.67 209.85,120.56 210.00,121.00 210.15,120.56 210.30,119.67 210.44,118.46 210.59,117.00 210.74,115.31 210.89,113.44 211.04,111.41 211.18,109.24 211.33,106.96 211.48,104.59 211.63,102.14 211.78,99.65 211.92,97.13 212.07,94.60 212.22,92.09 212.37,89.60 212.52,87.16 212.66,84.79 212.81,82.50 212.96,80.31 213.11,78.23 213.26,76.29 213.40,74.48 213.55,72.84 213.70,71.35 213.85,70.05 214.00,68.93 214.14,68.00 214.29,67.27 214.44,66.75 214.59,66.44 214.74,66.33 214.88,66.35 215.03,66.40 215.18,66.48 215.33,66.60 215.48,66.75 215.62,66.93 215.77,67.15 215.92,67.39 216.07,67.67 216.22,67.98 216.36,68.31 216.51,68.67 216.66,69.06 216.81,69.48 216.96,69.92 217.10,70.38 217.25,70.87 217.40,71.37 217.55,71.90 217.70,72.44 217.84,73.00 217.99,73.58 218.14,74.18 218.29,74.78 218.44,75.40 218.58,76.03 218.73,76.67 218.88,77.32 219.03,77.97 219.18,78.63 219.32,79.30 219.47,79.97 219.62,80.65 219.77,81.32 219.92,82.00 220.06,82.68 220.21,83.36 220.36,84.04 220.51,84.71 220.66,85.39 220.80,86.06 220.95,86.73 221.10,87.39 221.25,88.05 221.40,88.70 221.54,89.35 221.69,90.00 221.84,90.63 221.99,91.26 222.14,91.88 222.28,92.50 222.43,93.11 222.58,93.71 222.73,94.30 222.88,94.89 223.02,95.46 223.17,96.03 223.32,96.59 223.47,97.15 223.62,97.69 223.76,98.23 223.91,98.75 224.06,99.27 224.21,99.78 224.36,100.28 224.50,100.78 224.65,101.26 224.80,101.74 224.95,102.21 225.10,102.67 225.24,103.12 225.39,103.57 225.54,104.00 225.69,104.43 225.84,104.85 225.98,105.26 226.13,105.67 226.28,106.07 226.43,106.46 226.58,106.84 226.72,107.22 226.87,107.59 227.02,107.95 227.17,108.31 227.32,108.66 227.46,109.00 227.61,109.33 227.76,109.66 227.91,109.99 228.06,110.31 228.20,110.62 228.35,110.92 228.50,111.22 228.65,111.52 228.80,111.81 228.94,112.09 229.09,112.37 229.24,112.64 229.39,112.91 229.54,113.17 229.68,113.43 229.83,113.68 229.98,113.93 230.13,114.17 230.28,114.41 230.42,114.65 230.57,114.88 230.72,115.10 230.87,115.32 231.02,115.54 231.16,115.76 231.31,115.97 231.46,116.17 231.61,116.37 231.76,116.57 231.90,116.77 232.05,116.96 232.20,117.15 232.35,117.33 232.50,117.51 232.64,117.69 232.79,117.87 232.94,118.04 233.09,118.21 233.24,118.37 233.38,118.54 233.53,118.70 233.68,118.85 233.83,119.01 233.98,119.16 234.12,119.31 234.27,119.46 234.42,119.60 234.57,119.74 234.72,119.88 234.86,120.02 235.01,120.15 235.16,120.28 235.31,120.41 235.46,120.54 235.60,120.67 235.75,120.79 235.90,120.91 236.05,121.03 236.20,121.15 236.34,121.27 236.49,121.38 236.64,121.49 236.79,121.60 236.94,121.71 237.08,121.82 237.23,121.93 237.38,122.03 237.53,122.13 237.68,122.23 237.82,122.33 237.97,122.43 238.12,122.52 238.27,122.62 238.42,122.71 238.56,122.80 238.71,122.89 238.86,122.98 239.01,123.07 239.16,123.15 239.30,123.24 239.45,123.32 239.60,123.40 239.75,123.48 239.90,123.56 240.04,123.64 240.19,123.72 240.34,123.79 240.49,123.87 240.64,123.94 240.78,124.02 240.93,124.09 241.08,124.16 241.23,124.23 241.38,124.30 241.52,124.37 241.67,124.43 241.82,124.50 241.97,124.56 242.12,124.63 242.26,124.69 242.41,124.75 242.56,124.81 242.71,124.87 242.86,124.93 243.00,124.99 243.15,125.05 243.30,125.11 243.45,125.17 243.60,125.22 243.74,125.28 243.89,125.33 244.04,125.38 244.19,125.44 244.34,125.49 244.48,125.54 244.63,125.59 244.78,125.64 244.93,125.69 245.08,125.74 245.22,125.79 245.37,125.84 245.52,125.88 245.67,125.93 245.82,125.98 245.96,126.02 246.11,126.07 246.26,126.11 246.41,126.15 246.56,126.20 246.70,126.24 246.85,126.28 247.00,126.32 247.15,126.36 247.30,126.40 247.44,126.44 247.59,126.48 247.74,126.52 247.89,126.56 248.04,126.60 248.18,126.64 248.33,126.67 248.48,126.71 248.63,126.75 248.78,126.78 248.92,126.82 249.07,126.85 249.22,126.89 249.37,126.92 249.52,126.96 249.66,126.99 249.81,127.02 249.96,127.05 250.11,127.09 250.26,127.12 250.40,127.15 250.55,127.18 250.70,127.21 250.85,127.24 251.00,127.27 251.14,127.30 251.29,127.33 251.44,127.36 251.59,127.39 251.74,127.42 251.88,127.45 252.03,127.47 252.18,127.50 252.33,127.53 252.48,127.56 252.62,127.58 252.77,127.61 252.92,127.63 253.07,127.66 253.22,127.69 253.36,127.71 253.51,127.74 253.66,127.76 253.81,127.79 253.96,127.81 254.10,127.83 254.25,127.86 254.40,127.88" fill="none" stroke="#33408f" stroke-width="1.15" stroke-linejoin="round"/>
<text transform="translate(306.52,29.71) scale(1.0590,1)" font-size="7.188" fill="#231f20" stroke="#231f20" stroke-width="0.12" letter-spacing="0.288">Genes with ChIP-seq peaks</text>
<ellipse cx="357.45" cy="120.85" rx="65.45" ry="50.85" fill="#65739d"/>
<ellipse cx="357.45" cy="120.85" rx="65.45" ry="50.85" fill="none" stroke="#56649a" stroke-width="1.6" clip-path="url(#cb)"/>
<ellipse cx="357.35" cy="83.65" rx="55.75" ry="46.85" fill="#ba6057"/>
<ellipse cx="357.35" cy="83.65" rx="55.75" ry="46.85" fill="none" stroke="#b8463f" stroke-width="1.6" clip-path="url(#cr)"/>
<clipPath id="cb"><ellipse cx="357.45" cy="120.85" rx="65.45" ry="50.85"/></clipPath>
<ellipse cx="357.45" cy="120.85" rx="65.45" ry="50.85" fill="none" stroke="#c86a62" stroke-width="1.4" clip-path="url(#cr)"/>
<clipPath id="cr"><ellipse cx="357.35" cy="83.65" rx="55.75" ry="46.85"/></clipPath>
<ellipse cx="357.35" cy="83.65" rx="55.75" ry="46.85" fill="#4a2935" clip-path="url(#cb)"/>
<text transform="translate(346.69,51.50) scale(0.9733,1)" font-size="8.163" fill="#f4eeee" letter-spacing="0.327">1,096</text>
<text transform="translate(346.53,60.50) scale(1.1214,1)" font-size="6.762" fill="#f4eeee" letter-spacing="0.270">(15%)</text>
<text transform="translate(346.98,89.60) scale(0.8795,1)" font-size="9.023" fill="#f4eeee" letter-spacing="0.361">5,770</text>
<text transform="translate(339.41,104.00) scale(0.9191,1)" font-size="8.163" fill="#f4eeee" letter-spacing="0.327">IRF4:85%</text>
<text transform="translate(339.59,118.00) scale(1.0243,1)" font-size="7.734" fill="#f4eeee" letter-spacing="0.309">p65: 66%</text>
<text transform="translate(347.01,145.40) scale(0.9494,1)" font-size="8.020" fill="#f4eeee" letter-spacing="0.321">3,007</text>
<text transform="translate(346.85,154.42) scale(0.9513,1)" font-size="7.621" fill="#f4eeee" letter-spacing="0.305">(34%)</text>
<text transform="translate(433.93,75.40) scale(0.8455,1)" font-size="8.576" fill="#231f20" stroke="#231f20" stroke-width="0.12" letter-spacing="0.343">IRF4</text>
<text transform="translate(424.42,84.64) scale(1.0371,1)" font-size="7.514" fill="#231f20" stroke="#231f20" stroke-width="0.12" letter-spacing="0.301">(n=6,866)</text>
<text transform="translate(442.45,120.60) scale(1.1449,1)" font-size="7.447" fill="#231f20" stroke="#231f20" stroke-width="0.12" letter-spacing="0.298">p65</text>
<text transform="translate(431.81,129.58) scale(1.1440,1)" font-size="6.870" fill="#231f20" stroke="#231f20" stroke-width="0.12" letter-spacing="0.275">(n=8,777)</text>
<text transform="translate(35.42,226.20) scale(0.8819,1)" font-size="8.556" fill="#231f20" stroke="#231f20" stroke-width="0.12" letter-spacing="0.342">ChIP</text>
<text transform="translate(21.55,256.15) scale(0.9706,1)" font-size="7.939" fill="#231f20" stroke="#231f20" stroke-width="0.12" letter-spacing="0.318">Samples</text>
<text transform="translate(79.00,232.51) rotate(-90) scale(0.8657,1)" font-size="8.866" fill="#231f20" stroke="#231f20" stroke-width="0.12">IRF4</text>
<text transform="translate(97.80,232.37) rotate(-90) scale(0.9792,1)" font-size="9.023" fill="#231f20" stroke="#231f20" stroke-width="0.12">p65</text>
<line x1="68.8" y1="235.4" x2="83.8" y2="235.4" stroke="#231f20" stroke-width="1"/>
<line x1="87.8" y1="235.4" x2="102.3" y2="235.4" stroke="#231f20" stroke-width="1"/>
<line x1="116.5" y1="235.4" x2="321.7" y2="235.4" stroke="#231f20" stroke-width="1"/>
<text transform="translate(201.65,230.30) scale(0.9183,1)" font-size="8.593" fill="#231f20" stroke="#231f20" stroke-width="0.12" letter-spacing="0.344">H3K27ac</text>
<text transform="translate(79.00,270.68) rotate(-90) scale(0.8647,1)" font-size="9.166" fill="#231f20" stroke="#231f20" stroke-width="0.12">TL-Om1</text>
<text transform="translate(98.60,270.68) rotate(-90) scale(0.8647,1)" font-size="9.166" fill="#231f20" stroke="#231f20" stroke-width="0.12">TL-Om1</text>
<text transform="translate(128.65,270.68) rotate(-90) scale(0.8647,1)" font-size="9.166" fill="#231f20" stroke="#231f20" stroke-width="0.12">TL-Om1</text>
<text transform="translate(147.22,270.51) rotate(-90) scale(0.7936,1)" font-size="9.157" fill="#231f20" stroke="#231f20" stroke-width="0.12">ATL1</text>
<text transform="translate(165.99,270.51) rotate(-90) scale(0.8059,1)" font-size="9.023" fill="#231f20" stroke="#231f20" stroke-width="0.12">ATL2</text>
<text transform="translate(184.76,270.51) rotate(-90) scale(0.8037,1)" font-size="9.023" fill="#231f20" stroke="#231f20" stroke-width="0.12">ATL3</text>
<text transform="translate(203.53,270.51) rotate(-90) scale(0.7870,1)" font-size="9.157" fill="#231f20" stroke="#231f20" stroke-width="0.12">ATL4</text>
<text transform="translate(222.30,270.51) rotate(-90) scale(0.7913,1)" font-size="9.157" fill="#231f20" stroke="#231f20" stroke-width="0.12">ATL5</text>
<text transform="translate(241.07,270.51) rotate(-90) scale(0.8037,1)" font-size="9.023" fill="#231f20" stroke="#231f20" stroke-width="0.12">ATL6</text>
<text transform="translate(259.84,270.51) rotate(-90) scale(0.7941,1)" font-size="9.157" fill="#231f20" stroke="#231f20" stroke-width="0.12">ATL7</text>
<text transform="translate(278.61,270.51) rotate(-90) scale(0.8036,1)" font-size="9.023" fill="#231f20" stroke="#231f20" stroke-width="0.12">ATL8</text>
<text transform="translate(297.38,270.51) rotate(-90) scale(0.8049,1)" font-size="9.023" fill="#231f20" stroke="#231f20" stroke-width="0.12">ATL9</text>
<text transform="translate(316.15,270.52) rotate(-90) scale(0.8698,1)" font-size="9.023" fill="#231f20" stroke="#231f20" stroke-width="0.12">ATL10</text>
<defs>
<linearGradient id="cb1" x1="0" x2="1"><stop offset="0" stop-color="#fff"/><stop offset="1" stop-color="#b00000"/></linearGradient>
<linearGradient id="cb2" x1="0" x2="1"><stop offset="0" stop-color="#fff"/><stop offset="1" stop-color="#0000e8"/></linearGradient>
<linearGradient id="cb3" x1="0" x2="1"><stop offset="0" stop-color="#fff"/><stop offset="1" stop-color="#f00000"/></linearGradient>
<linearGradient id="pDbl" x1="0" x2="1"><stop offset="0" stop-color="#e01e40" stop-opacity="0"/><stop offset="0.18" stop-color="#e01e40" stop-opacity="0.4"/><stop offset="0.31" stop-color="#e01e40" stop-opacity="1"/><stop offset="0.5" stop-color="#e01e40" stop-opacity="0.4"/><stop offset="0.69" stop-color="#e01e40" stop-opacity="1"/><stop offset="0.82" stop-color="#e01e40" stop-opacity="0.4"/><stop offset="1" stop-color="#e01e40" stop-opacity="0"/></linearGradient>
<linearGradient id="pBump" x1="0" x2="1"><stop offset="0" stop-color="#e01e40" stop-opacity="0"/><stop offset="0.5" stop-color="#e01e40" stop-opacity="1"/><stop offset="1" stop-color="#e01e40" stop-opacity="0"/></linearGradient>
<linearGradient id="pIrf" x1="0" x2="1"><stop offset="0" stop-color="#f0505f" stop-opacity="0"/><stop offset="0.3" stop-color="#f0505f" stop-opacity="0.9"/><stop offset="0.7" stop-color="#f0505f" stop-opacity="0.9"/><stop offset="1" stop-color="#f0505f" stop-opacity="0"/></linearGradient>
<linearGradient id="pP65" x1="0" x2="1"><stop offset="0" stop-color="#6a6ac8" stop-opacity="0"/><stop offset="0.3" stop-color="#6a6ac8" stop-opacity="0.9"/><stop offset="0.7" stop-color="#6a6ac8" stop-opacity="0.9"/><stop offset="1" stop-color="#6a6ac8" stop-opacity="0"/></linearGradient>
</defs>
<path d="M69.5 352.2h13.3v1.0h-13.3zM69.5 356.2h13.3v1.0h-13.3zM69.5 358.2h13.3v1.0h-13.3zM69.5 362.2h13.3v1.0h-13.3z" fill="#e8506a" fill-opacity="0.017"/>
<path d="M69.5 277.2h13.3v1.0h-13.3zM69.5 280.2h13.3v1.0h-13.3zM69.5 282.2h13.3v1.0h-13.3zM69.5 284.2h13.3v1.0h-13.3zM69.5 285.2h13.3v1.0h-13.3zM69.5 288.2h13.3v1.0h-13.3zM69.5 295.2h13.3v1.0h-13.3zM69.5 298.2h13.3v1.0h-13.3zM69.5 299.2h13.3v1.0h-13.3zM69.5 302.2h13.3v1.0h-13.3zM69.5 307.2h13.3v1.0h-13.3zM69.5 308.2h13.3v1.0h-13.3zM69.5 309.2h13.3v1.0h-13.3zM69.5 318.2h13.3v1.0h-13.3zM69.5 323.2h13.3v1.0h-13.3zM69.5 325.2h13.3v1.0h-13.3zM69.5 328.2h13.3v1.0h-13.3zM69.5 330.2h13.3v1.0h-13.3zM69.5 335.2h13.3v1.0h-13.3zM69.5 344.2h13.3v1.0h-13.3zM69.5 349.2h13.3v1.0h-13.3zM69.5 350.2h13.3v1.0h-13.3zM69.5 353.2h13.3v1.0h-13.3zM69.5 354.2h13.3v1.0h-13.3zM69.5 355.2h13.3v1.0h-13.3zM69.5 359.2h13.3v1.0h-13.3zM69.5 360.2h13.3v1.0h-13.3zM69.5 363.2h13.3v1.0h-13.3zM69.5 364.2h13.3v1.0h-13.3zM69.5 368.2h13.3v1.0h-13.3zM69.5 369.2h13.3v1.0h-13.3zM69.5 370.2h13.3v1.0h-13.3z" fill="#e8506a" fill-opacity="0.033"/>
<path d="M69.5 274.2h13.3v1.0h-13.3zM69.5 275.2h13.3v1.0h-13.3zM69.5 279.2h13.3v1.0h-13.3zM69.5 286.2h13.3v1.0h-13.3zM69.5 289.2h13.3v1.0h-13.3zM69.5 293.2h13.3v1.0h-13.3zM69.5 297.2h13.3v1.0h-13.3zM69.5 300.2h13.3v1.0h-13.3zM69.5 305.2h13.3v1.0h-13.3zM69.5 306.2h13.3v1.0h-13.3zM69.5 311.2h13.3v1.0h-13.3zM69.5 312.2h13.3v1.0h-13.3zM69.5 313.2h13.3v1.0h-13.3zM69.5 314.2h13.3v1.0h-13.3zM69.5 315.2h13.3v1.0h-13.3zM69.5 319.2h13.3v1.0h-13.3zM69.5 320.2h13.3v1.0h-13.3zM69.5 326.2h13.3v1.0h-13.3zM69.5 329.2h13.3v1.0h-13.3zM69.5 331.2h13.3v1.0h-13.3zM69.5 333.2h13.3v1.0h-13.3zM69.5 336.2h13.3v1.0h-13.3zM69.5 337.2h13.3v1.0h-13.3zM69.5 338.2h13.3v1.0h-13.3zM69.5 339.2h13.3v1.0h-13.3zM69.5 342.2h13.3v1.0h-13.3zM69.5 343.2h13.3v1.0h-13.3zM69.5 345.2h13.3v1.0h-13.3zM69.5 346.2h13.3v1.0h-13.3zM69.5 348.2h13.3v1.0h-13.3zM69.5 351.2h13.3v1.0h-13.3zM69.5 357.2h13.3v1.0h-13.3zM69.5 361.2h13.3v1.0h-13.3zM69.5 365.2h13.3v1.0h-13.3zM69.5 366.2h13.3v1.0h-13.3zM69.5 367.2h13.3v1.0h-13.3zM69.5 371.2h13.3v1.0h-13.3zM69.5 372.2h13.3v1.0h-13.3z" fill="#e8506a" fill-opacity="0.050"/>
<path d="M69.5 278.2h13.3v1.0h-13.3zM69.5 281.2h13.3v1.0h-13.3zM69.5 283.2h13.3v1.0h-13.3zM69.5 290.2h13.3v1.0h-13.3zM69.5 292.2h13.3v1.0h-13.3zM69.5 301.2h13.3v1.0h-13.3zM69.5 303.2h13.3v1.0h-13.3zM69.5 304.2h13.3v1.0h-13.3zM69.5 310.2h13.3v1.0h-13.3zM69.5 316.2h13.3v1.0h-13.3zM69.5 317.2h13.3v1.0h-13.3zM69.5 321.2h13.3v1.0h-13.3zM69.5 322.2h13.3v1.0h-13.3zM69.5 324.2h13.3v1.0h-13.3zM69.5 327.2h13.3v1.0h-13.3zM69.5 332.2h13.3v1.0h-13.3zM69.5 334.2h13.3v1.0h-13.3zM69.5 340.2h13.3v1.0h-13.3zM69.5 341.2h13.3v1.0h-13.3zM69.5 347.2h13.3v1.0h-13.3z" fill="#e8506a" fill-opacity="0.067"/>
<path d="M69.5 276.2h13.3v1.0h-13.3zM69.5 287.2h13.3v1.0h-13.3zM69.5 291.2h13.3v1.0h-13.3zM69.5 294.2h13.3v1.0h-13.3zM69.5 296.2h13.3v1.0h-13.3z" fill="#e8506a" fill-opacity="0.083"/>
<defs><linearGradient id="pIrfh" x1="0" x2="1"><stop offset="0" stop-color="#e8506a" stop-opacity="0"/><stop offset="0.5" stop-color="#e8506a" stop-opacity="1"/><stop offset="1" stop-color="#e8506a" stop-opacity="0"/></linearGradient><linearGradient id="pIrfhv" x1="0" x2="0" y1="0" y2="1"><stop offset="0" stop-color="#fff" stop-opacity="0"/><stop offset="1" stop-color="#fff" stop-opacity="0.7"/></linearGradient></defs>
<rect x="70.15" y="274.2" width="12" height="98.9" fill="url(#pIrfh)" opacity="0.13"/>
<defs><linearGradient id="pIrfv" x1="0" x2="0" y1="0" y2="1"><stop offset="0" stop-color="#fff" stop-opacity="0"/><stop offset="1" stop-color="#fff" stop-opacity="0.55"/></linearGradient></defs>
<rect x="75.25" y="274.2" width="1.8" height="98.9" fill="url(#pIrf)" opacity="0.62"/>
<rect x="75.25" y="274.2" width="1.8" height="98.9" fill="url(#pIrfv)"/>
<path d="M87.9 327.2h13.9v1.0h-13.9zM87.9 332.2h13.9v1.0h-13.9zM87.9 354.2h13.9v1.0h-13.9zM87.9 355.2h13.9v1.0h-13.9zM87.9 365.2h13.9v1.0h-13.9zM87.9 366.2h13.9v1.0h-13.9zM87.9 367.2h13.9v1.0h-13.9zM87.9 368.2h13.9v1.0h-13.9z" fill="#6a6ad0" fill-opacity="0.017"/>
<path d="M87.9 274.2h13.9v1.0h-13.9zM87.9 275.2h13.9v1.0h-13.9zM87.9 281.2h13.9v1.0h-13.9zM87.9 290.2h13.9v1.0h-13.9zM87.9 297.2h13.9v1.0h-13.9zM87.9 299.2h13.9v1.0h-13.9zM87.9 300.2h13.9v1.0h-13.9zM87.9 301.2h13.9v1.0h-13.9zM87.9 302.2h13.9v1.0h-13.9zM87.9 303.2h13.9v1.0h-13.9zM87.9 304.2h13.9v1.0h-13.9zM87.9 305.2h13.9v1.0h-13.9zM87.9 306.2h13.9v1.0h-13.9zM87.9 307.2h13.9v1.0h-13.9zM87.9 308.2h13.9v1.0h-13.9zM87.9 309.2h13.9v1.0h-13.9zM87.9 312.2h13.9v1.0h-13.9zM87.9 313.2h13.9v1.0h-13.9zM87.9 314.2h13.9v1.0h-13.9zM87.9 315.2h13.9v1.0h-13.9zM87.9 316.2h13.9v1.0h-13.9zM87.9 321.2h13.9v1.0h-13.9zM87.9 322.2h13.9v1.0h-13.9zM87.9 323.2h13.9v1.0h-13.9zM87.9 324.2h13.9v1.0h-13.9zM87.9 326.2h13.9v1.0h-13.9zM87.9 330.2h13.9v1.0h-13.9zM87.9 333.2h13.9v1.0h-13.9zM87.9 337.2h13.9v1.0h-13.9zM87.9 338.2h13.9v1.0h-13.9zM87.9 339.2h13.9v1.0h-13.9zM87.9 341.2h13.9v1.0h-13.9zM87.9 343.2h13.9v1.0h-13.9zM87.9 344.2h13.9v1.0h-13.9zM87.9 351.2h13.9v1.0h-13.9zM87.9 352.2h13.9v1.0h-13.9zM87.9 353.2h13.9v1.0h-13.9zM87.9 356.2h13.9v1.0h-13.9zM87.9 357.2h13.9v1.0h-13.9zM87.9 358.2h13.9v1.0h-13.9zM87.9 360.2h13.9v1.0h-13.9zM87.9 364.2h13.9v1.0h-13.9zM87.9 369.2h13.9v1.0h-13.9zM87.9 370.2h13.9v1.0h-13.9zM87.9 371.2h13.9v1.0h-13.9zM87.9 372.2h13.9v1.0h-13.9z" fill="#6a6ad0" fill-opacity="0.033"/>
<path d="M87.9 276.2h13.9v1.0h-13.9zM87.9 277.2h13.9v1.0h-13.9zM87.9 278.2h13.9v1.0h-13.9zM87.9 280.2h13.9v1.0h-13.9zM87.9 282.2h13.9v1.0h-13.9zM87.9 283.2h13.9v1.0h-13.9zM87.9 284.2h13.9v1.0h-13.9zM87.9 287.2h13.9v1.0h-13.9zM87.9 295.2h13.9v1.0h-13.9zM87.9 296.2h13.9v1.0h-13.9zM87.9 298.2h13.9v1.0h-13.9zM87.9 311.2h13.9v1.0h-13.9zM87.9 319.2h13.9v1.0h-13.9zM87.9 320.2h13.9v1.0h-13.9zM87.9 325.2h13.9v1.0h-13.9zM87.9 329.2h13.9v1.0h-13.9zM87.9 331.2h13.9v1.0h-13.9zM87.9 334.2h13.9v1.0h-13.9zM87.9 335.2h13.9v1.0h-13.9zM87.9 336.2h13.9v1.0h-13.9zM87.9 340.2h13.9v1.0h-13.9zM87.9 342.2h13.9v1.0h-13.9zM87.9 345.2h13.9v1.0h-13.9zM87.9 346.2h13.9v1.0h-13.9zM87.9 347.2h13.9v1.0h-13.9zM87.9 348.2h13.9v1.0h-13.9zM87.9 349.2h13.9v1.0h-13.9zM87.9 350.2h13.9v1.0h-13.9zM87.9 359.2h13.9v1.0h-13.9zM87.9 361.2h13.9v1.0h-13.9zM87.9 362.2h13.9v1.0h-13.9zM87.9 363.2h13.9v1.0h-13.9z" fill="#6a6ad0" fill-opacity="0.050"/>
<path d="M87.9 279.2h13.9v1.0h-13.9zM87.9 286.2h13.9v1.0h-13.9zM87.9 288.2h13.9v1.0h-13.9zM87.9 289.2h13.9v1.0h-13.9zM87.9 291.2h13.9v1.0h-13.9zM87.9 292.2h13.9v1.0h-13.9zM87.9 293.2h13.9v1.0h-13.9zM87.9 294.2h13.9v1.0h-13.9zM87.9 310.2h13.9v1.0h-13.9zM87.9 317.2h13.9v1.0h-13.9zM87.9 318.2h13.9v1.0h-13.9zM87.9 328.2h13.9v1.0h-13.9z" fill="#6a6ad0" fill-opacity="0.067"/>
<path d="M87.9 285.2h13.9v1.0h-13.9z" fill="#6a6ad0" fill-opacity="0.083"/>
<defs><linearGradient id="pP65h" x1="0" x2="1"><stop offset="0" stop-color="#6a6ad0" stop-opacity="0"/><stop offset="0.5" stop-color="#6a6ad0" stop-opacity="1"/><stop offset="1" stop-color="#6a6ad0" stop-opacity="0"/></linearGradient><linearGradient id="pP65hv" x1="0" x2="0" y1="0" y2="1"><stop offset="0" stop-color="#fff" stop-opacity="0"/><stop offset="1" stop-color="#fff" stop-opacity="0.7"/></linearGradient></defs>
<rect x="88.85" y="274.2" width="12" height="98.9" fill="url(#pP65h)" opacity="0.13"/>
<defs><linearGradient id="pP65v" x1="0" x2="0" y1="0" y2="1"><stop offset="0" stop-color="#fff" stop-opacity="0"/><stop offset="1" stop-color="#fff" stop-opacity="0.55"/></linearGradient></defs>
<rect x="93.95" y="274.2" width="1.8" height="98.9" fill="url(#pP65)" opacity="0.62"/>
<rect x="93.95" y="274.2" width="1.8" height="98.9" fill="url(#pP65v)"/>
<path d="M117.3 336.2h15.7v1.0h-15.7zM117.3 338.2h15.7v1.0h-15.7zM117.3 339.2h15.7v1.0h-15.7zM117.3 340.2h15.7v1.0h-15.7zM117.3 341.2h15.7v1.0h-15.7zM117.3 342.2h15.7v1.0h-15.7zM117.3 343.2h15.7v1.0h-15.7zM117.3 344.2h15.7v1.0h-15.7zM117.3 345.2h15.7v1.0h-15.7zM117.3 346.2h15.7v1.0h-15.7zM117.3 348.2h15.7v1.0h-15.7z" fill="#e01e40" fill-opacity="0.017"/>
<path d="M117.3 331.2h15.7v1.0h-15.7zM117.3 333.2h15.7v1.0h-15.7zM117.3 334.2h15.7v1.0h-15.7zM117.3 335.2h15.7v1.0h-15.7zM117.3 337.2h15.7v1.0h-15.7z" fill="#e01e40" fill-opacity="0.033"/>
<path d="M117.3 328.2h15.7v1.0h-15.7zM117.3 329.2h15.7v1.0h-15.7zM117.3 332.2h15.7v1.0h-15.7z" fill="#e01e40" fill-opacity="0.050"/>
<path d="M117.3 322.2h15.7v1.0h-15.7zM117.3 323.2h15.7v1.0h-15.7zM117.3 325.2h15.7v1.0h-15.7zM117.3 330.2h15.7v1.0h-15.7z" fill="#e01e40" fill-opacity="0.067"/>
<path d="M117.3 321.2h15.7v1.0h-15.7zM117.3 326.2h15.7v1.0h-15.7zM117.3 327.2h15.7v1.0h-15.7z" fill="#e01e40" fill-opacity="0.083"/>
<path d="M117.3 324.2h15.7v1.0h-15.7z" fill="#e01e40" fill-opacity="0.100"/>
<path d="M117.3 319.2h15.7v1.0h-15.7z" fill="#e01e40" fill-opacity="0.117"/>
<path d="M117.3 320.2h15.7v1.0h-15.7z" fill="#e01e40" fill-opacity="0.133"/>
<path d="M117.3 315.2h15.7v1.0h-15.7zM117.3 316.2h15.7v1.0h-15.7zM117.3 317.2h15.7v1.0h-15.7zM117.3 318.2h15.7v1.0h-15.7z" fill="#e01e40" fill-opacity="0.150"/>
<path d="M117.3 314.2h15.7v1.0h-15.7z" fill="#e01e40" fill-opacity="0.167"/>
<path d="M117.3 308.2h15.7v1.0h-15.7zM117.3 313.2h15.7v1.0h-15.7z" fill="#e01e40" fill-opacity="0.183"/>
<path d="M117.3 309.2h15.7v1.0h-15.7zM117.3 311.2h15.7v1.0h-15.7z" fill="#e01e40" fill-opacity="0.200"/>
<path d="M117.3 303.2h15.7v1.0h-15.7z" fill="#e01e40" fill-opacity="0.217"/>
<path d="M117.3 304.2h15.7v1.0h-15.7zM117.3 306.2h15.7v1.0h-15.7zM117.3 312.2h15.7v1.0h-15.7z" fill="#e01e40" fill-opacity="0.233"/>
<path d="M117.3 307.2h15.7v1.0h-15.7zM117.3 310.2h15.7v1.0h-15.7z" fill="#e01e40" fill-opacity="0.250"/>
<path d="M117.3 302.2h15.7v1.0h-15.7z" fill="#e01e40" fill-opacity="0.300"/>
<path d="M117.3 296.2h15.7v1.0h-15.7zM117.3 305.2h15.7v1.0h-15.7z" fill="#e01e40" fill-opacity="0.317"/>
<path d="M117.3 301.2h15.7v1.0h-15.7z" fill="#e01e40" fill-opacity="0.333"/>
<path d="M117.3 299.2h15.7v1.0h-15.7zM117.3 300.2h15.7v1.0h-15.7z" fill="#e01e40" fill-opacity="0.350"/>
<path d="M117.3 294.2h15.7v1.0h-15.7zM117.3 295.2h15.7v1.0h-15.7zM117.3 297.2h15.7v1.0h-15.7z" fill="#e01e40" fill-opacity="0.367"/>
<path d="M117.3 293.2h15.7v1.0h-15.7zM117.3 298.2h15.7v1.0h-15.7z" fill="#e01e40" fill-opacity="0.383"/>
<path d="M117.3 288.2h15.7v1.0h-15.7z" fill="#e01e40" fill-opacity="0.400"/>
<path d="M117.3 285.2h15.7v1.0h-15.7z" fill="#e01e40" fill-opacity="0.433"/>
<path d="M117.3 283.2h15.7v1.0h-15.7zM117.3 291.2h15.7v1.0h-15.7z" fill="#e01e40" fill-opacity="0.450"/>
<path d="M117.3 275.2h15.7v1.0h-15.7z" fill="#e01e40" fill-opacity="0.467"/>
<path d="M117.3 278.2h15.7v1.0h-15.7zM117.3 287.2h15.7v1.0h-15.7zM117.3 290.2h15.7v1.0h-15.7z" fill="#e01e40" fill-opacity="0.483"/>
<path d="M117.3 279.2h15.7v1.0h-15.7zM117.3 281.2h15.7v1.0h-15.7zM117.3 292.2h15.7v1.0h-15.7z" fill="#e01e40" fill-opacity="0.533"/>
<path d="M117.3 289.2h15.7v1.0h-15.7z" fill="#e01e40" fill-opacity="0.617"/>
<path d="M117.3 274.2h15.7v1.0h-15.7zM117.3 282.2h15.7v1.0h-15.7z" fill="#e01e40" fill-opacity="0.633"/>
<path d="M117.3 277.2h15.7v1.0h-15.7zM117.3 284.2h15.7v1.0h-15.7zM117.3 286.2h15.7v1.0h-15.7z" fill="#e01e40" fill-opacity="0.667"/>
<path d="M117.3 276.2h15.7v1.0h-15.7zM117.3 280.2h15.7v1.0h-15.7z" fill="#e01e40" fill-opacity="0.717"/>
<rect x="122.1" y="366" width="6.1" height="1" fill="url(#pDbl)" fill-opacity="0.167"/>
<rect x="122.0" y="361" width="6.3" height="1" fill="url(#pDbl)" fill-opacity="0.200"/>
<rect x="122.0" y="362" width="6.2" height="1" fill="url(#pDbl)" fill-opacity="0.200"/>
<rect x="122.0" y="363" width="6.2" height="1" fill="url(#pDbl)" fill-opacity="0.200"/>
<rect x="122.1" y="367" width="6.1" height="1" fill="url(#pDbl)" fill-opacity="0.200"/>
<rect x="122.2" y="369" width="6.0" height="1" fill="url(#pDbl)" fill-opacity="0.200"/>
<rect x="122.2" y="372" width="5.9" height="1" fill="url(#pDbl)" fill-opacity="0.200"/>
<rect x="121.9" y="355" width="6.5" height="1" fill="url(#pDbl)" fill-opacity="0.233"/>
<rect x="121.9" y="356" width="6.5" height="1" fill="url(#pDbl)" fill-opacity="0.233"/>
<rect x="121.9" y="357" width="6.4" height="1" fill="url(#pDbl)" fill-opacity="0.233"/>
<rect x="122.0" y="358" width="6.4" height="1" fill="url(#pDbl)" fill-opacity="0.233"/>
<rect x="122.0" y="359" width="6.3" height="1" fill="url(#pDbl)" fill-opacity="0.233"/>
<rect x="122.0" y="360" width="6.3" height="1" fill="url(#pDbl)" fill-opacity="0.233"/>
<rect x="122.1" y="364" width="6.2" height="1" fill="url(#pDbl)" fill-opacity="0.233"/>
<rect x="122.1" y="365" width="6.1" height="1" fill="url(#pDbl)" fill-opacity="0.233"/>
<rect x="122.1" y="368" width="6.0" height="1" fill="url(#pDbl)" fill-opacity="0.233"/>
<rect x="122.2" y="370" width="5.9" height="1" fill="url(#pDbl)" fill-opacity="0.233"/>
<rect x="122.2" y="371" width="5.9" height="1" fill="url(#pDbl)" fill-opacity="0.233"/>
<rect x="121.8" y="347" width="6.8" height="1" fill="url(#pDbl)" fill-opacity="0.267"/>
<rect x="121.9" y="353" width="6.6" height="1" fill="url(#pDbl)" fill-opacity="0.267"/>
<rect x="121.7" y="342" width="7.0" height="1" fill="url(#pDbl)" fill-opacity="0.300"/>
<rect x="121.7" y="344" width="6.9" height="1" fill="url(#pDbl)" fill-opacity="0.300"/>
<rect x="121.8" y="348" width="6.7" height="1" fill="url(#pDbl)" fill-opacity="0.300"/>
<rect x="121.5" y="334" width="7.3" height="1" fill="url(#pDbl)" fill-opacity="0.333"/>
<rect x="121.6" y="340" width="7.0" height="1" fill="url(#pDbl)" fill-opacity="0.333"/>
<rect x="121.9" y="352" width="6.6" height="1" fill="url(#pDbl)" fill-opacity="0.333"/>
<rect x="121.9" y="354" width="6.5" height="1" fill="url(#pDbl)" fill-opacity="0.333"/>
<rect x="121.6" y="336" width="7.2" height="1" fill="url(#pDbl)" fill-opacity="0.367"/>
<rect x="121.7" y="346" width="6.8" height="1" fill="url(#pDbl)" fill-opacity="0.367"/>
<rect x="121.8" y="349" width="6.7" height="1" fill="url(#pDbl)" fill-opacity="0.367"/>
<rect x="121.8" y="350" width="6.7" height="1" fill="url(#pDbl)" fill-opacity="0.367"/>
<rect x="121.8" y="351" width="6.6" height="1" fill="url(#pDbl)" fill-opacity="0.367"/>
<rect x="121.4" y="326" width="7.5" height="1" fill="url(#pDbl)" fill-opacity="0.400"/>
<rect x="121.5" y="332" width="7.3" height="1" fill="url(#pDbl)" fill-opacity="0.400"/>
<rect x="121.5" y="333" width="7.3" height="1" fill="url(#pDbl)" fill-opacity="0.400"/>
<rect x="121.5" y="335" width="7.2" height="1" fill="url(#pDbl)" fill-opacity="0.400"/>
<rect x="121.6" y="337" width="7.1" height="1" fill="url(#pDbl)" fill-opacity="0.400"/>
<rect x="121.7" y="345" width="6.9" height="1" fill="url(#pDbl)" fill-opacity="0.400"/>
<rect x="121.3" y="320" width="7.8" height="1" fill="url(#pDbl)" fill-opacity="0.433"/>
<rect x="121.5" y="331" width="7.4" height="1" fill="url(#pDbl)" fill-opacity="0.433"/>
<rect x="121.7" y="341" width="7.0" height="1" fill="url(#pDbl)" fill-opacity="0.433"/>
<rect x="121.7" y="343" width="6.9" height="1" fill="url(#pDbl)" fill-opacity="0.433"/>
<rect x="121.3" y="322" width="7.7" height="1" fill="url(#pDbl)" fill-opacity="0.467"/>
<rect x="121.4" y="329" width="7.4" height="1" fill="url(#pDbl)" fill-opacity="0.467"/>
<rect x="121.6" y="338" width="7.1" height="1" fill="url(#pDbl)" fill-opacity="0.467"/>
<rect x="121.6" y="339" width="7.1" height="1" fill="url(#pDbl)" fill-opacity="0.467"/>
<rect x="121.2" y="318" width="7.8" height="1" fill="url(#pDbl)" fill-opacity="0.500"/>
<rect x="121.3" y="321" width="7.7" height="1" fill="url(#pDbl)" fill-opacity="0.500"/>
<rect x="120.9" y="301" width="8.4" height="1" fill="url(#pDbl)" fill-opacity="0.533"/>
<rect x="121.4" y="325" width="7.6" height="1" fill="url(#pDbl)" fill-opacity="0.533"/>
<rect x="121.5" y="330" width="7.4" height="1" fill="url(#pDbl)" fill-opacity="0.533"/>
<rect x="121.1" y="309" width="8.2" height="1" fill="url(#pDbl)" fill-opacity="0.567"/>
<rect x="121.3" y="323" width="7.6" height="1" fill="url(#pDbl)" fill-opacity="0.567"/>
<rect x="121.4" y="328" width="7.5" height="1" fill="url(#pDbl)" fill-opacity="0.567"/>
<rect x="120.9" y="302" width="8.4" height="1" fill="url(#pDbl)" fill-opacity="0.600"/>
<rect x="121.1" y="312" width="8.0" height="1" fill="url(#pDbl)" fill-opacity="0.600"/>
<rect x="121.1" y="313" width="8.0" height="1" fill="url(#pDbl)" fill-opacity="0.600"/>
<rect x="121.2" y="315" width="7.9" height="1" fill="url(#pDbl)" fill-opacity="0.600"/>
<rect x="121.3" y="324" width="7.6" height="1" fill="url(#pDbl)" fill-opacity="0.600"/>
<rect x="121.4" y="327" width="7.5" height="1" fill="url(#pDbl)" fill-opacity="0.600"/>
<rect x="120.7" y="288" width="8.9" height="1" fill="url(#pDbl)" fill-opacity="0.633"/>
<rect x="121.1" y="310" width="8.1" height="1" fill="url(#pDbl)" fill-opacity="0.633"/>
<rect x="121.2" y="314" width="8.0" height="1" fill="url(#pDbl)" fill-opacity="0.633"/>
<rect x="120.8" y="292" width="8.8" height="1" fill="url(#pDbl)" fill-opacity="0.667"/>
<rect x="121.0" y="304" width="8.3" height="1" fill="url(#pDbl)" fill-opacity="0.667"/>
<rect x="121.0" y="306" width="8.3" height="1" fill="url(#pDbl)" fill-opacity="0.667"/>
<rect x="121.1" y="308" width="8.2" height="1" fill="url(#pDbl)" fill-opacity="0.667"/>
<rect x="121.2" y="317" width="7.9" height="1" fill="url(#pDbl)" fill-opacity="0.667"/>
<rect x="121.3" y="319" width="7.8" height="1" fill="url(#pDbl)" fill-opacity="0.667"/>
<rect x="120.6" y="283" width="9.1" height="1" fill="url(#pDbl)" fill-opacity="0.700"/>
<rect x="120.8" y="293" width="8.7" height="1" fill="url(#pDbl)" fill-opacity="0.700"/>
<rect x="121.0" y="305" width="8.3" height="1" fill="url(#pDbl)" fill-opacity="0.700"/>
<rect x="121.1" y="311" width="8.1" height="1" fill="url(#pDbl)" fill-opacity="0.700"/>
<rect x="121.2" y="316" width="7.9" height="1" fill="url(#pDbl)" fill-opacity="0.700"/>
<rect x="120.6" y="282" width="9.1" height="1" fill="url(#pDbl)" fill-opacity="0.733"/>
<rect x="120.8" y="295" width="8.7" height="1" fill="url(#pDbl)" fill-opacity="0.733"/>
<rect x="120.9" y="297" width="8.6" height="1" fill="url(#pDbl)" fill-opacity="0.733"/>
<rect x="120.9" y="300" width="8.5" height="1" fill="url(#pDbl)" fill-opacity="0.733"/>
<rect x="121.0" y="307" width="8.2" height="1" fill="url(#pDbl)" fill-opacity="0.733"/>
<rect x="121.0" y="303" width="8.4" height="1" fill="url(#pDbl)" fill-opacity="0.767"/>
<rect x="120.5" y="280" width="9.2" height="1" fill="url(#pDbl)" fill-opacity="0.800"/>
<rect x="120.8" y="294" width="8.7" height="1" fill="url(#pDbl)" fill-opacity="0.800"/>
<rect x="120.7" y="287" width="8.9" height="1" fill="url(#pDbl)" fill-opacity="0.833"/>
<rect x="120.5" y="277" width="9.3" height="1" fill="url(#pDbl)" fill-opacity="0.867"/>
<rect x="120.7" y="286" width="9.0" height="1" fill="url(#pDbl)" fill-opacity="0.867"/>
<rect x="120.7" y="289" width="8.9" height="1" fill="url(#pDbl)" fill-opacity="0.867"/>
<rect x="120.9" y="298" width="8.6" height="1" fill="url(#pDbl)" fill-opacity="0.867"/>
<rect x="120.9" y="299" width="8.5" height="1" fill="url(#pDbl)" fill-opacity="0.867"/>
<rect x="120.8" y="296" width="8.6" height="1" fill="url(#pDbl)" fill-opacity="0.900"/>
<rect x="120.5" y="275" width="9.4" height="1" fill="url(#pDbl)" fill-opacity="0.933"/>
<rect x="120.7" y="291" width="8.8" height="1" fill="url(#pDbl)" fill-opacity="0.933"/>
<rect x="120.5" y="278" width="9.3" height="1" fill="url(#pDbl)" fill-opacity="0.967"/>
<rect x="120.5" y="279" width="9.2" height="1" fill="url(#pDbl)" fill-opacity="0.967"/>
<rect x="120.6" y="284" width="9.1" height="1" fill="url(#pDbl)" fill-opacity="0.967"/>
<rect x="120.6" y="285" width="9.0" height="1" fill="url(#pDbl)" fill-opacity="0.967"/>
<rect x="120.7" y="290" width="8.8" height="1" fill="url(#pDbl)" fill-opacity="0.967"/>
<rect x="120.4" y="274" width="9.4" height="1" fill="url(#pDbl)" fill-opacity="1.000"/>
<rect x="120.5" y="276" width="9.3" height="1" fill="url(#pDbl)" fill-opacity="1.000"/>
<rect x="120.6" y="281" width="9.2" height="1" fill="url(#pDbl)" fill-opacity="1.033"/>
<path d="M136.1 325.2h15.7v1.0h-15.7zM136.1 327.2h15.7v1.0h-15.7zM136.1 328.2h15.7v1.0h-15.7zM136.1 329.2h15.7v1.0h-15.7zM136.1 330.2h15.7v1.0h-15.7zM136.1 331.2h15.7v1.0h-15.7zM136.1 332.2h15.7v1.0h-15.7zM136.1 333.2h15.7v1.0h-15.7zM136.1 334.2h15.7v1.0h-15.7zM136.1 335.2h15.7v1.0h-15.7zM136.1 336.2h15.7v1.0h-15.7zM136.1 337.2h15.7v1.0h-15.7zM136.1 338.2h15.7v1.0h-15.7zM136.1 339.2h15.7v1.0h-15.7zM136.1 340.2h15.7v1.0h-15.7zM136.1 341.2h15.7v1.0h-15.7zM136.1 342.2h15.7v1.0h-15.7zM136.1 343.2h15.7v1.0h-15.7zM136.1 344.2h15.7v1.0h-15.7zM136.1 345.2h15.7v1.0h-15.7zM136.1 347.2h15.7v1.0h-15.7zM136.1 351.2h15.7v1.0h-15.7zM136.1 352.2h15.7v1.0h-15.7z" fill="#e01e40" fill-opacity="0.017"/>
<path d="M136.1 309.2h15.7v1.0h-15.7zM136.1 310.2h15.7v1.0h-15.7zM136.1 313.2h15.7v1.0h-15.7zM136.1 315.2h15.7v1.0h-15.7zM136.1 316.2h15.7v1.0h-15.7zM136.1 317.2h15.7v1.0h-15.7zM136.1 318.2h15.7v1.0h-15.7zM136.1 319.2h15.7v1.0h-15.7zM136.1 320.2h15.7v1.0h-15.7zM136.1 321.2h15.7v1.0h-15.7zM136.1 322.2h15.7v1.0h-15.7zM136.1 323.2h15.7v1.0h-15.7zM136.1 324.2h15.7v1.0h-15.7zM136.1 326.2h15.7v1.0h-15.7z" fill="#e01e40" fill-opacity="0.033"/>
<path d="M136.1 300.2h15.7v1.0h-15.7zM136.1 303.2h15.7v1.0h-15.7zM136.1 308.2h15.7v1.0h-15.7zM136.1 311.2h15.7v1.0h-15.7zM136.1 312.2h15.7v1.0h-15.7zM136.1 314.2h15.7v1.0h-15.7z" fill="#e01e40" fill-opacity="0.050"/>
<path d="M136.1 304.2h15.7v1.0h-15.7zM136.1 305.2h15.7v1.0h-15.7zM136.1 306.2h15.7v1.0h-15.7zM136.1 307.2h15.7v1.0h-15.7z" fill="#e01e40" fill-opacity="0.067"/>
<path d="M136.1 290.2h15.7v1.0h-15.7zM136.1 291.2h15.7v1.0h-15.7zM136.1 292.2h15.7v1.0h-15.7zM136.1 297.2h15.7v1.0h-15.7zM136.1 299.2h15.7v1.0h-15.7zM136.1 301.2h15.7v1.0h-15.7zM136.1 302.2h15.7v1.0h-15.7z" fill="#e01e40" fill-opacity="0.083"/>
<path d="M136.1 287.2h15.7v1.0h-15.7zM136.1 289.2h15.7v1.0h-15.7zM136.1 293.2h15.7v1.0h-15.7zM136.1 294.2h15.7v1.0h-15.7zM136.1 295.2h15.7v1.0h-15.7zM136.1 296.2h15.7v1.0h-15.7zM136.1 298.2h15.7v1.0h-15.7z" fill="#e01e40" fill-opacity="0.100"/>
<path d="M136.1 282.2h15.7v1.0h-15.7zM136.1 285.2h15.7v1.0h-15.7zM136.1 286.2h15.7v1.0h-15.7zM136.1 288.2h15.7v1.0h-15.7z" fill="#e01e40" fill-opacity="0.133"/>
<path d="M136.1 283.2h15.7v1.0h-15.7z" fill="#e01e40" fill-opacity="0.150"/>
<path d="M136.1 276.2h15.7v1.0h-15.7zM136.1 278.2h15.7v1.0h-15.7zM136.1 280.2h15.7v1.0h-15.7zM136.1 281.2h15.7v1.0h-15.7z" fill="#e01e40" fill-opacity="0.167"/>
<path d="M136.1 275.2h15.7v1.0h-15.7zM136.1 277.2h15.7v1.0h-15.7z" fill="#e01e40" fill-opacity="0.183"/>
<path d="M136.1 284.2h15.7v1.0h-15.7z" fill="#e01e40" fill-opacity="0.200"/>
<path d="M136.1 274.2h15.7v1.0h-15.7zM136.1 279.2h15.7v1.0h-15.7z" fill="#e01e40" fill-opacity="0.233"/>
<rect x="139.6" y="292" width="8.6" height="1" fill="url(#pBump)" fill-opacity="0.033"/>
<rect x="139.8" y="297" width="8.3" height="1" fill="url(#pBump)" fill-opacity="0.033"/>
<rect x="139.8" y="298" width="8.3" height="1" fill="url(#pBump)" fill-opacity="0.033"/>
<rect x="139.9" y="301" width="8.1" height="1" fill="url(#pBump)" fill-opacity="0.033"/>
<rect x="139.9" y="303" width="8.0" height="1" fill="url(#pBump)" fill-opacity="0.033"/>
<rect x="139.9" y="304" width="8.0" height="1" fill="url(#pBump)" fill-opacity="0.033"/>
<rect x="139.9" y="305" width="7.9" height="1" fill="url(#pBump)" fill-opacity="0.033"/>
<rect x="140.0" y="306" width="7.9" height="1" fill="url(#pBump)" fill-opacity="0.033"/>
<rect x="140.0" y="307" width="7.9" height="1" fill="url(#pBump)" fill-opacity="0.033"/>
<rect x="140.0" y="308" width="7.8" height="1" fill="url(#pBump)" fill-opacity="0.033"/>
<rect x="140.0" y="309" width="7.8" height="1" fill="url(#pBump)" fill-opacity="0.033"/>
<rect x="140.1" y="310" width="7.7" height="1" fill="url(#pBump)" fill-opacity="0.033"/>
<rect x="140.1" y="311" width="7.7" height="1" fill="url(#pBump)" fill-opacity="0.033"/>
<rect x="140.1" y="312" width="7.6" height="1" fill="url(#pBump)" fill-opacity="0.033"/>
<rect x="140.1" y="313" width="7.6" height="1" fill="url(#pBump)" fill-opacity="0.033"/>
<rect x="140.2" y="314" width="7.5" height="1" fill="url(#pBump)" fill-opacity="0.033"/>
<rect x="140.2" y="315" width="7.5" height="1" fill="url(#pBump)" fill-opacity="0.033"/>
<rect x="140.2" y="316" width="7.4" height="1" fill="url(#pBump)" fill-opacity="0.033"/>
<rect x="140.2" y="317" width="7.4" height="1" fill="url(#pBump)" fill-opacity="0.033"/>
<rect x="140.3" y="318" width="7.3" height="1" fill="url(#pBump)" fill-opacity="0.033"/>
<rect x="140.3" y="319" width="7.3" height="1" fill="url(#pBump)" fill-opacity="0.033"/>
<rect x="140.3" y="320" width="7.2" height="1" fill="url(#pBump)" fill-opacity="0.033"/>
<rect x="140.3" y="321" width="7.2" height="1" fill="url(#pBump)" fill-opacity="0.033"/>
<rect x="140.4" y="322" width="7.1" height="1" fill="url(#pBump)" fill-opacity="0.033"/>
<rect x="140.4" y="323" width="7.1" height="1" fill="url(#pBump)" fill-opacity="0.033"/>
<rect x="140.4" y="324" width="7.0" height="1" fill="url(#pBump)" fill-opacity="0.033"/>
<rect x="140.4" y="325" width="7.0" height="1" fill="url(#pBump)" fill-opacity="0.033"/>
<rect x="140.4" y="326" width="6.9" height="1" fill="url(#pBump)" fill-opacity="0.033"/>
<rect x="140.5" y="328" width="6.9" height="1" fill="url(#pBump)" fill-opacity="0.033"/>
<rect x="140.5" y="329" width="6.8" height="1" fill="url(#pBump)" fill-opacity="0.033"/>
<rect x="140.6" y="331" width="6.7" height="1" fill="url(#pBump)" fill-opacity="0.033"/>
<rect x="140.6" y="334" width="6.6" height="1" fill="url(#pBump)" fill-opacity="0.033"/>
<rect x="140.7" y="336" width="6.5" height="1" fill="url(#pBump)" fill-opacity="0.033"/>
<rect x="139.5" y="286" width="8.8" height="1" fill="url(#pBump)" fill-opacity="0.067"/>
<rect x="139.5" y="287" width="8.8" height="1" fill="url(#pBump)" fill-opacity="0.067"/>
<rect x="139.5" y="288" width="8.8" height="1" fill="url(#pBump)" fill-opacity="0.067"/>
<rect x="139.6" y="289" width="8.7" height="1" fill="url(#pBump)" fill-opacity="0.067"/>
<rect x="139.6" y="290" width="8.7" height="1" fill="url(#pBump)" fill-opacity="0.067"/>
<rect x="139.6" y="291" width="8.6" height="1" fill="url(#pBump)" fill-opacity="0.067"/>
<rect x="139.7" y="293" width="8.5" height="1" fill="url(#pBump)" fill-opacity="0.067"/>
<rect x="139.7" y="294" width="8.5" height="1" fill="url(#pBump)" fill-opacity="0.067"/>
<rect x="139.7" y="295" width="8.4" height="1" fill="url(#pBump)" fill-opacity="0.067"/>
<rect x="139.7" y="296" width="8.4" height="1" fill="url(#pBump)" fill-opacity="0.067"/>
<rect x="139.8" y="299" width="8.2" height="1" fill="url(#pBump)" fill-opacity="0.067"/>
<rect x="139.8" y="300" width="8.2" height="1" fill="url(#pBump)" fill-opacity="0.067"/>
<rect x="139.9" y="302" width="8.1" height="1" fill="url(#pBump)" fill-opacity="0.067"/>
<rect x="139.2" y="274" width="9.4" height="1" fill="url(#pBump)" fill-opacity="0.100"/>
<rect x="139.2" y="275" width="9.4" height="1" fill="url(#pBump)" fill-opacity="0.100"/>
<rect x="139.3" y="277" width="9.3" height="1" fill="url(#pBump)" fill-opacity="0.100"/>
<rect x="139.3" y="279" width="9.2" height="1" fill="url(#pBump)" fill-opacity="0.100"/>
<rect x="139.4" y="280" width="9.1" height="1" fill="url(#pBump)" fill-opacity="0.100"/>
<rect x="139.4" y="281" width="9.1" height="1" fill="url(#pBump)" fill-opacity="0.100"/>
<rect x="139.4" y="282" width="9.0" height="1" fill="url(#pBump)" fill-opacity="0.100"/>
<rect x="139.4" y="283" width="9.0" height="1" fill="url(#pBump)" fill-opacity="0.100"/>
<rect x="139.4" y="284" width="8.9" height="1" fill="url(#pBump)" fill-opacity="0.100"/>
<rect x="139.5" y="285" width="8.9" height="1" fill="url(#pBump)" fill-opacity="0.100"/>
<rect x="139.3" y="276" width="9.3" height="1" fill="url(#pBump)" fill-opacity="0.133"/>
<rect x="139.3" y="278" width="9.2" height="1" fill="url(#pBump)" fill-opacity="0.133"/>
<path d="M154.8 297.2h15.7v1.0h-15.7zM154.8 300.2h15.7v1.0h-15.7zM154.8 303.2h15.7v1.0h-15.7zM154.8 304.2h15.7v1.0h-15.7zM154.8 305.2h15.7v1.0h-15.7zM154.8 306.2h15.7v1.0h-15.7zM154.8 307.2h15.7v1.0h-15.7zM154.8 308.2h15.7v1.0h-15.7zM154.8 309.2h15.7v1.0h-15.7zM154.8 310.2h15.7v1.0h-15.7zM154.8 311.2h15.7v1.0h-15.7zM154.8 312.2h15.7v1.0h-15.7zM154.8 313.2h15.7v1.0h-15.7zM154.8 314.2h15.7v1.0h-15.7zM154.8 315.2h15.7v1.0h-15.7zM154.8 316.2h15.7v1.0h-15.7zM154.8 317.2h15.7v1.0h-15.7zM154.8 318.2h15.7v1.0h-15.7zM154.8 319.2h15.7v1.0h-15.7zM154.8 320.2h15.7v1.0h-15.7zM154.8 321.2h15.7v1.0h-15.7zM154.8 322.2h15.7v1.0h-15.7zM154.8 323.2h15.7v1.0h-15.7zM154.8 324.2h15.7v1.0h-15.7zM154.8 325.2h15.7v1.0h-15.7z" fill="#e01e40" fill-opacity="0.017"/>
<path d="M154.8 282.2h15.7v1.0h-15.7zM154.8 284.2h15.7v1.0h-15.7zM154.8 287.2h15.7v1.0h-15.7zM154.8 288.2h15.7v1.0h-15.7zM154.8 289.2h15.7v1.0h-15.7zM154.8 291.2h15.7v1.0h-15.7zM154.8 292.2h15.7v1.0h-15.7zM154.8 293.2h15.7v1.0h-15.7zM154.8 294.2h15.7v1.0h-15.7zM154.8 295.2h15.7v1.0h-15.7zM154.8 296.2h15.7v1.0h-15.7zM154.8 298.2h15.7v1.0h-15.7zM154.8 299.2h15.7v1.0h-15.7zM154.8 301.2h15.7v1.0h-15.7zM154.8 302.2h15.7v1.0h-15.7z" fill="#e01e40" fill-opacity="0.033"/>
<path d="M154.8 277.2h15.7v1.0h-15.7zM154.8 278.2h15.7v1.0h-15.7zM154.8 279.2h15.7v1.0h-15.7zM154.8 281.2h15.7v1.0h-15.7zM154.8 283.2h15.7v1.0h-15.7zM154.8 285.2h15.7v1.0h-15.7zM154.8 286.2h15.7v1.0h-15.7zM154.8 290.2h15.7v1.0h-15.7z" fill="#e01e40" fill-opacity="0.050"/>
<path d="M154.8 275.2h15.7v1.0h-15.7zM154.8 276.2h15.7v1.0h-15.7zM154.8 280.2h15.7v1.0h-15.7z" fill="#e01e40" fill-opacity="0.067"/>
<path d="M154.8 274.2h15.7v1.0h-15.7z" fill="#e01e40" fill-opacity="0.083"/>
<rect x="158.0" y="274" width="9.4" height="1" fill="url(#pBump)" fill-opacity="0.033"/>
<rect x="158.0" y="275" width="9.4" height="1" fill="url(#pBump)" fill-opacity="0.033"/>
<rect x="158.0" y="276" width="9.3" height="1" fill="url(#pBump)" fill-opacity="0.033"/>
<rect x="158.1" y="277" width="9.3" height="1" fill="url(#pBump)" fill-opacity="0.033"/>
<rect x="158.1" y="279" width="9.2" height="1" fill="url(#pBump)" fill-opacity="0.033"/>
<rect x="158.1" y="280" width="9.1" height="1" fill="url(#pBump)" fill-opacity="0.033"/>
<rect x="158.1" y="281" width="9.1" height="1" fill="url(#pBump)" fill-opacity="0.033"/>
<rect x="158.2" y="282" width="9.0" height="1" fill="url(#pBump)" fill-opacity="0.033"/>
<rect x="158.2" y="283" width="9.0" height="1" fill="url(#pBump)" fill-opacity="0.033"/>
<rect x="158.2" y="284" width="8.9" height="1" fill="url(#pBump)" fill-opacity="0.033"/>
<rect x="158.2" y="285" width="8.9" height="1" fill="url(#pBump)" fill-opacity="0.033"/>
<rect x="158.3" y="286" width="8.8" height="1" fill="url(#pBump)" fill-opacity="0.033"/>
<rect x="158.3" y="287" width="8.8" height="1" fill="url(#pBump)" fill-opacity="0.033"/>
<rect x="158.3" y="288" width="8.8" height="1" fill="url(#pBump)" fill-opacity="0.033"/>
<rect x="158.3" y="289" width="8.7" height="1" fill="url(#pBump)" fill-opacity="0.033"/>
<rect x="158.4" y="290" width="8.7" height="1" fill="url(#pBump)" fill-opacity="0.033"/>
<rect x="158.4" y="291" width="8.6" height="1" fill="url(#pBump)" fill-opacity="0.033"/>
<rect x="158.4" y="292" width="8.6" height="1" fill="url(#pBump)" fill-opacity="0.033"/>
<rect x="158.4" y="293" width="8.5" height="1" fill="url(#pBump)" fill-opacity="0.033"/>
<rect x="158.5" y="294" width="8.5" height="1" fill="url(#pBump)" fill-opacity="0.033"/>
<rect x="158.5" y="295" width="8.4" height="1" fill="url(#pBump)" fill-opacity="0.033"/>
<rect x="158.5" y="296" width="8.4" height="1" fill="url(#pBump)" fill-opacity="0.033"/>
<rect x="158.5" y="297" width="8.3" height="1" fill="url(#pBump)" fill-opacity="0.033"/>
<rect x="158.6" y="298" width="8.3" height="1" fill="url(#pBump)" fill-opacity="0.033"/>
<rect x="158.6" y="300" width="8.2" height="1" fill="url(#pBump)" fill-opacity="0.033"/>
<rect x="158.6" y="301" width="8.1" height="1" fill="url(#pBump)" fill-opacity="0.033"/>
<rect x="158.6" y="302" width="8.1" height="1" fill="url(#pBump)" fill-opacity="0.033"/>
<rect x="158.7" y="304" width="8.0" height="1" fill="url(#pBump)" fill-opacity="0.033"/>
<rect x="158.7" y="305" width="7.9" height="1" fill="url(#pBump)" fill-opacity="0.033"/>
<rect x="158.7" y="306" width="7.9" height="1" fill="url(#pBump)" fill-opacity="0.033"/>
<rect x="158.8" y="308" width="7.8" height="1" fill="url(#pBump)" fill-opacity="0.033"/>
<rect x="158.8" y="309" width="7.8" height="1" fill="url(#pBump)" fill-opacity="0.033"/>
<rect x="158.1" y="278" width="9.2" height="1" fill="url(#pBump)" fill-opacity="0.067"/>
<path d="M173.6 333.2h15.7v1.0h-15.7zM173.6 337.2h15.7v1.0h-15.7zM173.6 339.2h15.7v1.0h-15.7zM173.6 340.2h15.7v1.0h-15.7zM173.6 341.2h15.7v1.0h-15.7zM173.6 342.2h15.7v1.0h-15.7zM173.6 343.2h15.7v1.0h-15.7zM173.6 344.2h15.7v1.0h-15.7zM173.6 345.2h15.7v1.0h-15.7zM173.6 346.2h15.7v1.0h-15.7zM173.6 347.2h15.7v1.0h-15.7zM173.6 348.2h15.7v1.0h-15.7zM173.6 349.2h15.7v1.0h-15.7zM173.6 350.2h15.7v1.0h-15.7zM173.6 351.2h15.7v1.0h-15.7zM173.6 352.2h15.7v1.0h-15.7zM173.6 353.2h15.7v1.0h-15.7zM173.6 354.2h15.7v1.0h-15.7zM173.6 355.2h15.7v1.0h-15.7zM173.6 356.2h15.7v1.0h-15.7zM173.6 357.2h15.7v1.0h-15.7zM173.6 358.2h15.7v1.0h-15.7zM173.6 359.2h15.7v1.0h-15.7zM173.6 360.2h15.7v1.0h-15.7zM173.6 361.2h15.7v1.0h-15.7zM173.6 362.2h15.7v1.0h-15.7zM173.6 363.2h15.7v1.0h-15.7z" fill="#e01e40" fill-opacity="0.017"/>
<path d="M173.6 322.2h15.7v1.0h-15.7zM173.6 325.2h15.7v1.0h-15.7zM173.6 326.2h15.7v1.0h-15.7zM173.6 327.2h15.7v1.0h-15.7zM173.6 328.2h15.7v1.0h-15.7zM173.6 329.2h15.7v1.0h-15.7zM173.6 331.2h15.7v1.0h-15.7zM173.6 332.2h15.7v1.0h-15.7zM173.6 334.2h15.7v1.0h-15.7zM173.6 335.2h15.7v1.0h-15.7zM173.6 336.2h15.7v1.0h-15.7zM173.6 338.2h15.7v1.0h-15.7z" fill="#e01e40" fill-opacity="0.033"/>
<path d="M173.6 315.2h15.7v1.0h-15.7zM173.6 316.2h15.7v1.0h-15.7zM173.6 318.2h15.7v1.0h-15.7zM173.6 320.2h15.7v1.0h-15.7zM173.6 323.2h15.7v1.0h-15.7zM173.6 324.2h15.7v1.0h-15.7zM173.6 330.2h15.7v1.0h-15.7z" fill="#e01e40" fill-opacity="0.050"/>
<path d="M173.6 306.2h15.7v1.0h-15.7zM173.6 311.2h15.7v1.0h-15.7zM173.6 314.2h15.7v1.0h-15.7zM173.6 317.2h15.7v1.0h-15.7zM173.6 319.2h15.7v1.0h-15.7zM173.6 321.2h15.7v1.0h-15.7z" fill="#e01e40" fill-opacity="0.067"/>
<path d="M173.6 307.2h15.7v1.0h-15.7zM173.6 313.2h15.7v1.0h-15.7z" fill="#e01e40" fill-opacity="0.083"/>
<path d="M173.6 304.2h15.7v1.0h-15.7zM173.6 309.2h15.7v1.0h-15.7zM173.6 310.2h15.7v1.0h-15.7zM173.6 312.2h15.7v1.0h-15.7z" fill="#e01e40" fill-opacity="0.100"/>
<path d="M173.6 298.2h15.7v1.0h-15.7zM173.6 300.2h15.7v1.0h-15.7zM173.6 301.2h15.7v1.0h-15.7zM173.6 305.2h15.7v1.0h-15.7zM173.6 308.2h15.7v1.0h-15.7z" fill="#e01e40" fill-opacity="0.117"/>
<path d="M173.6 297.2h15.7v1.0h-15.7zM173.6 299.2h15.7v1.0h-15.7zM173.6 302.2h15.7v1.0h-15.7zM173.6 303.2h15.7v1.0h-15.7z" fill="#e01e40" fill-opacity="0.133"/>
<path d="M173.6 288.2h15.7v1.0h-15.7zM173.6 290.2h15.7v1.0h-15.7zM173.6 295.2h15.7v1.0h-15.7zM173.6 296.2h15.7v1.0h-15.7z" fill="#e01e40" fill-opacity="0.167"/>
<path d="M173.6 284.2h15.7v1.0h-15.7zM173.6 293.2h15.7v1.0h-15.7z" fill="#e01e40" fill-opacity="0.183"/>
<path d="M173.6 287.2h15.7v1.0h-15.7zM173.6 291.2h15.7v1.0h-15.7zM173.6 292.2h15.7v1.0h-15.7zM173.6 294.2h15.7v1.0h-15.7z" fill="#e01e40" fill-opacity="0.200"/>
<path d="M173.6 285.2h15.7v1.0h-15.7zM173.6 289.2h15.7v1.0h-15.7z" fill="#e01e40" fill-opacity="0.217"/>
<path d="M173.6 282.2h15.7v1.0h-15.7zM173.6 283.2h15.7v1.0h-15.7z" fill="#e01e40" fill-opacity="0.233"/>
<path d="M173.6 280.2h15.7v1.0h-15.7z" fill="#e01e40" fill-opacity="0.267"/>
<path d="M173.6 286.2h15.7v1.0h-15.7z" fill="#e01e40" fill-opacity="0.283"/>
<path d="M173.6 279.2h15.7v1.0h-15.7zM173.6 281.2h15.7v1.0h-15.7z" fill="#e01e40" fill-opacity="0.333"/>
<path d="M173.6 274.2h15.7v1.0h-15.7zM173.6 275.2h15.7v1.0h-15.7z" fill="#e01e40" fill-opacity="0.350"/>
<path d="M173.6 277.2h15.7v1.0h-15.7zM173.6 278.2h15.7v1.0h-15.7z" fill="#e01e40" fill-opacity="0.383"/>
<path d="M173.6 276.2h15.7v1.0h-15.7z" fill="#e01e40" fill-opacity="0.433"/>
<rect x="178.2" y="336" width="6.5" height="1" fill="url(#pBump)" fill-opacity="0.033"/>
<rect x="178.3" y="340" width="6.3" height="1" fill="url(#pBump)" fill-opacity="0.033"/>
<rect x="178.3" y="341" width="6.2" height="1" fill="url(#pBump)" fill-opacity="0.033"/>
<rect x="178.4" y="343" width="6.1" height="1" fill="url(#pBump)" fill-opacity="0.033"/>
<rect x="178.4" y="345" width="6.0" height="1" fill="url(#pBump)" fill-opacity="0.033"/>
<rect x="178.5" y="346" width="6.0" height="1" fill="url(#pBump)" fill-opacity="0.033"/>
<rect x="178.5" y="347" width="5.9" height="1" fill="url(#pBump)" fill-opacity="0.033"/>
<rect x="178.5" y="348" width="5.9" height="1" fill="url(#pBump)" fill-opacity="0.033"/>
<rect x="178.5" y="349" width="5.9" height="1" fill="url(#pBump)" fill-opacity="0.033"/>
<rect x="178.6" y="350" width="5.8" height="1" fill="url(#pBump)" fill-opacity="0.033"/>
<rect x="178.6" y="351" width="5.8" height="1" fill="url(#pBump)" fill-opacity="0.033"/>
<rect x="178.6" y="352" width="5.7" height="1" fill="url(#pBump)" fill-opacity="0.033"/>
<rect x="178.6" y="353" width="5.7" height="1" fill="url(#pBump)" fill-opacity="0.033"/>
<rect x="178.7" y="354" width="5.6" height="1" fill="url(#pBump)" fill-opacity="0.033"/>
<rect x="178.7" y="355" width="5.6" height="1" fill="url(#pBump)" fill-opacity="0.033"/>
<rect x="178.7" y="356" width="5.5" height="1" fill="url(#pBump)" fill-opacity="0.033"/>
<rect x="178.7" y="357" width="5.5" height="1" fill="url(#pBump)" fill-opacity="0.033"/>
<rect x="178.7" y="358" width="5.4" height="1" fill="url(#pBump)" fill-opacity="0.033"/>
<rect x="178.8" y="359" width="5.4" height="1" fill="url(#pBump)" fill-opacity="0.033"/>
<rect x="178.8" y="360" width="5.3" height="1" fill="url(#pBump)" fill-opacity="0.033"/>
<rect x="178.8" y="361" width="5.3" height="1" fill="url(#pBump)" fill-opacity="0.033"/>
<rect x="178.8" y="362" width="5.2" height="1" fill="url(#pBump)" fill-opacity="0.033"/>
<rect x="178.9" y="363" width="5.2" height="1" fill="url(#pBump)" fill-opacity="0.033"/>
<rect x="178.9" y="364" width="5.1" height="1" fill="url(#pBump)" fill-opacity="0.033"/>
<rect x="178.9" y="365" width="5.1" height="1" fill="url(#pBump)" fill-opacity="0.033"/>
<rect x="178.9" y="366" width="5.0" height="1" fill="url(#pBump)" fill-opacity="0.033"/>
<rect x="179.0" y="367" width="5.0" height="1" fill="url(#pBump)" fill-opacity="0.033"/>
<rect x="179.0" y="368" width="4.9" height="1" fill="url(#pBump)" fill-opacity="0.033"/>
<rect x="179.1" y="371" width="4.8" height="1" fill="url(#pBump)" fill-opacity="0.033"/>
<rect x="179.1" y="372" width="4.8" height="1" fill="url(#pBump)" fill-opacity="0.033"/>
<rect x="177.8" y="319" width="7.3" height="1" fill="url(#pBump)" fill-opacity="0.067"/>
<rect x="177.8" y="320" width="7.2" height="1" fill="url(#pBump)" fill-opacity="0.067"/>
<rect x="177.9" y="322" width="7.1" height="1" fill="url(#pBump)" fill-opacity="0.067"/>
<rect x="177.9" y="324" width="7.0" height="1" fill="url(#pBump)" fill-opacity="0.067"/>
<rect x="178.0" y="326" width="6.9" height="1" fill="url(#pBump)" fill-opacity="0.067"/>
<rect x="178.0" y="328" width="6.9" height="1" fill="url(#pBump)" fill-opacity="0.067"/>
<rect x="178.1" y="329" width="6.8" height="1" fill="url(#pBump)" fill-opacity="0.067"/>
<rect x="178.1" y="330" width="6.8" height="1" fill="url(#pBump)" fill-opacity="0.067"/>
<rect x="178.1" y="331" width="6.7" height="1" fill="url(#pBump)" fill-opacity="0.067"/>
<rect x="178.1" y="332" width="6.7" height="1" fill="url(#pBump)" fill-opacity="0.067"/>
<rect x="178.2" y="333" width="6.6" height="1" fill="url(#pBump)" fill-opacity="0.067"/>
<rect x="178.2" y="334" width="6.6" height="1" fill="url(#pBump)" fill-opacity="0.067"/>
<rect x="178.2" y="335" width="6.5" height="1" fill="url(#pBump)" fill-opacity="0.067"/>
<rect x="178.2" y="337" width="6.4" height="1" fill="url(#pBump)" fill-opacity="0.067"/>
<rect x="178.3" y="338" width="6.4" height="1" fill="url(#pBump)" fill-opacity="0.067"/>
<rect x="178.3" y="339" width="6.3" height="1" fill="url(#pBump)" fill-opacity="0.067"/>
<rect x="178.4" y="342" width="6.2" height="1" fill="url(#pBump)" fill-opacity="0.067"/>
<rect x="178.4" y="344" width="6.1" height="1" fill="url(#pBump)" fill-opacity="0.067"/>
<rect x="177.7" y="312" width="7.6" height="1" fill="url(#pBump)" fill-opacity="0.100"/>
<rect x="177.7" y="314" width="7.5" height="1" fill="url(#pBump)" fill-opacity="0.100"/>
<rect x="177.7" y="315" width="7.5" height="1" fill="url(#pBump)" fill-opacity="0.100"/>
<rect x="177.7" y="316" width="7.4" height="1" fill="url(#pBump)" fill-opacity="0.100"/>
<rect x="177.8" y="317" width="7.4" height="1" fill="url(#pBump)" fill-opacity="0.100"/>
<rect x="177.8" y="318" width="7.3" height="1" fill="url(#pBump)" fill-opacity="0.100"/>
<rect x="177.9" y="321" width="7.2" height="1" fill="url(#pBump)" fill-opacity="0.100"/>
<rect x="177.9" y="323" width="7.1" height="1" fill="url(#pBump)" fill-opacity="0.100"/>
<rect x="178.0" y="325" width="7.0" height="1" fill="url(#pBump)" fill-opacity="0.100"/>
<rect x="178.0" y="327" width="6.9" height="1" fill="url(#pBump)" fill-opacity="0.100"/>
<rect x="177.4" y="301" width="8.1" height="1" fill="url(#pBump)" fill-opacity="0.133"/>
<rect x="177.4" y="303" width="8.0" height="1" fill="url(#pBump)" fill-opacity="0.133"/>
<rect x="177.5" y="306" width="7.9" height="1" fill="url(#pBump)" fill-opacity="0.133"/>
<rect x="177.5" y="307" width="7.9" height="1" fill="url(#pBump)" fill-opacity="0.133"/>
<rect x="177.6" y="308" width="7.8" height="1" fill="url(#pBump)" fill-opacity="0.133"/>
<rect x="177.6" y="309" width="7.8" height="1" fill="url(#pBump)" fill-opacity="0.133"/>
<rect x="177.6" y="310" width="7.7" height="1" fill="url(#pBump)" fill-opacity="0.133"/>
<rect x="177.6" y="311" width="7.7" height="1" fill="url(#pBump)" fill-opacity="0.133"/>
<rect x="177.7" y="313" width="7.6" height="1" fill="url(#pBump)" fill-opacity="0.133"/>
<rect x="177.2" y="293" width="8.5" height="1" fill="url(#pBump)" fill-opacity="0.167"/>
<rect x="177.3" y="296" width="8.4" height="1" fill="url(#pBump)" fill-opacity="0.167"/>
<rect x="177.3" y="297" width="8.3" height="1" fill="url(#pBump)" fill-opacity="0.167"/>
<rect x="177.3" y="299" width="8.2" height="1" fill="url(#pBump)" fill-opacity="0.167"/>
<rect x="177.4" y="302" width="8.1" height="1" fill="url(#pBump)" fill-opacity="0.167"/>
<rect x="177.5" y="304" width="8.0" height="1" fill="url(#pBump)" fill-opacity="0.167"/>
<rect x="177.5" y="305" width="7.9" height="1" fill="url(#pBump)" fill-opacity="0.167"/>
<rect x="177.1" y="287" width="8.8" height="1" fill="url(#pBump)" fill-opacity="0.200"/>
<rect x="177.2" y="294" width="8.5" height="1" fill="url(#pBump)" fill-opacity="0.200"/>
<rect x="177.2" y="295" width="8.4" height="1" fill="url(#pBump)" fill-opacity="0.200"/>
<rect x="177.3" y="298" width="8.3" height="1" fill="url(#pBump)" fill-opacity="0.200"/>
<rect x="177.4" y="300" width="8.2" height="1" fill="url(#pBump)" fill-opacity="0.200"/>
<rect x="177.0" y="283" width="9.0" height="1" fill="url(#pBump)" fill-opacity="0.233"/>
<rect x="177.1" y="289" width="8.7" height="1" fill="url(#pBump)" fill-opacity="0.233"/>
<rect x="177.1" y="290" width="8.7" height="1" fill="url(#pBump)" fill-opacity="0.233"/>
<rect x="177.2" y="291" width="8.6" height="1" fill="url(#pBump)" fill-opacity="0.233"/>
<rect x="176.9" y="281" width="9.1" height="1" fill="url(#pBump)" fill-opacity="0.267"/>
<rect x="177.1" y="288" width="8.8" height="1" fill="url(#pBump)" fill-opacity="0.267"/>
<rect x="177.2" y="292" width="8.6" height="1" fill="url(#pBump)" fill-opacity="0.267"/>
<rect x="176.8" y="276" width="9.3" height="1" fill="url(#pBump)" fill-opacity="0.300"/>
<rect x="176.9" y="279" width="9.2" height="1" fill="url(#pBump)" fill-opacity="0.300"/>
<rect x="176.9" y="280" width="9.1" height="1" fill="url(#pBump)" fill-opacity="0.300"/>
<rect x="177.0" y="284" width="8.9" height="1" fill="url(#pBump)" fill-opacity="0.300"/>
<rect x="176.8" y="274" width="9.4" height="1" fill="url(#pBump)" fill-opacity="0.333"/>
<rect x="176.9" y="282" width="9.0" height="1" fill="url(#pBump)" fill-opacity="0.333"/>
<rect x="177.0" y="285" width="8.9" height="1" fill="url(#pBump)" fill-opacity="0.333"/>
<rect x="177.0" y="286" width="8.8" height="1" fill="url(#pBump)" fill-opacity="0.333"/>
<rect x="176.8" y="275" width="9.4" height="1" fill="url(#pBump)" fill-opacity="0.367"/>
<rect x="176.8" y="277" width="9.3" height="1" fill="url(#pBump)" fill-opacity="0.400"/>
<rect x="176.8" y="278" width="9.2" height="1" fill="url(#pBump)" fill-opacity="0.400"/>
<path d="M192.4 327.2h15.7v1.0h-15.7zM192.4 331.2h15.7v1.0h-15.7zM192.4 332.2h15.7v1.0h-15.7zM192.4 333.2h15.7v1.0h-15.7zM192.4 334.2h15.7v1.0h-15.7zM192.4 335.2h15.7v1.0h-15.7zM192.4 337.2h15.7v1.0h-15.7zM192.4 338.2h15.7v1.0h-15.7zM192.4 339.2h15.7v1.0h-15.7zM192.4 340.2h15.7v1.0h-15.7zM192.4 341.2h15.7v1.0h-15.7zM192.4 342.2h15.7v1.0h-15.7zM192.4 343.2h15.7v1.0h-15.7zM192.4 344.2h15.7v1.0h-15.7zM192.4 345.2h15.7v1.0h-15.7zM192.4 346.2h15.7v1.0h-15.7zM192.4 347.2h15.7v1.0h-15.7zM192.4 348.2h15.7v1.0h-15.7zM192.4 349.2h15.7v1.0h-15.7zM192.4 350.2h15.7v1.0h-15.7zM192.4 351.2h15.7v1.0h-15.7zM192.4 352.2h15.7v1.0h-15.7zM192.4 353.2h15.7v1.0h-15.7zM192.4 354.2h15.7v1.0h-15.7zM192.4 355.2h15.7v1.0h-15.7zM192.4 356.2h15.7v1.0h-15.7zM192.4 357.2h15.7v1.0h-15.7zM192.4 358.2h15.7v1.0h-15.7zM192.4 359.2h15.7v1.0h-15.7zM192.4 361.2h15.7v1.0h-15.7zM192.4 362.2h15.7v1.0h-15.7zM192.4 364.2h15.7v1.0h-15.7z" fill="#e01e40" fill-opacity="0.017"/>
<path d="M192.4 312.2h15.7v1.0h-15.7zM192.4 315.2h15.7v1.0h-15.7zM192.4 317.2h15.7v1.0h-15.7zM192.4 318.2h15.7v1.0h-15.7zM192.4 319.2h15.7v1.0h-15.7zM192.4 320.2h15.7v1.0h-15.7zM192.4 321.2h15.7v1.0h-15.7zM192.4 322.2h15.7v1.0h-15.7zM192.4 323.2h15.7v1.0h-15.7zM192.4 324.2h15.7v1.0h-15.7zM192.4 325.2h15.7v1.0h-15.7zM192.4 326.2h15.7v1.0h-15.7zM192.4 328.2h15.7v1.0h-15.7zM192.4 329.2h15.7v1.0h-15.7zM192.4 330.2h15.7v1.0h-15.7zM192.4 336.2h15.7v1.0h-15.7z" fill="#e01e40" fill-opacity="0.033"/>
<path d="M192.4 311.2h15.7v1.0h-15.7zM192.4 313.2h15.7v1.0h-15.7zM192.4 314.2h15.7v1.0h-15.7zM192.4 316.2h15.7v1.0h-15.7z" fill="#e01e40" fill-opacity="0.050"/>
<path d="M192.4 297.2h15.7v1.0h-15.7zM192.4 301.2h15.7v1.0h-15.7zM192.4 305.2h15.7v1.0h-15.7zM192.4 306.2h15.7v1.0h-15.7zM192.4 307.2h15.7v1.0h-15.7zM192.4 308.2h15.7v1.0h-15.7zM192.4 309.2h15.7v1.0h-15.7zM192.4 310.2h15.7v1.0h-15.7z" fill="#e01e40" fill-opacity="0.067"/>
<path d="M192.4 293.2h15.7v1.0h-15.7zM192.4 294.2h15.7v1.0h-15.7zM192.4 296.2h15.7v1.0h-15.7zM192.4 300.2h15.7v1.0h-15.7zM192.4 302.2h15.7v1.0h-15.7zM192.4 303.2h15.7v1.0h-15.7zM192.4 304.2h15.7v1.0h-15.7z" fill="#e01e40" fill-opacity="0.083"/>
<path d="M192.4 286.2h15.7v1.0h-15.7zM192.4 291.2h15.7v1.0h-15.7zM192.4 295.2h15.7v1.0h-15.7zM192.4 298.2h15.7v1.0h-15.7zM192.4 299.2h15.7v1.0h-15.7z" fill="#e01e40" fill-opacity="0.100"/>
<path d="M192.4 290.2h15.7v1.0h-15.7zM192.4 292.2h15.7v1.0h-15.7z" fill="#e01e40" fill-opacity="0.117"/>
<path d="M192.4 282.2h15.7v1.0h-15.7z" fill="#e01e40" fill-opacity="0.133"/>
<path d="M192.4 283.2h15.7v1.0h-15.7zM192.4 287.2h15.7v1.0h-15.7zM192.4 288.2h15.7v1.0h-15.7zM192.4 289.2h15.7v1.0h-15.7z" fill="#e01e40" fill-opacity="0.150"/>
<path d="M192.4 285.2h15.7v1.0h-15.7z" fill="#e01e40" fill-opacity="0.167"/>
<path d="M192.4 277.2h15.7v1.0h-15.7zM192.4 278.2h15.7v1.0h-15.7zM192.4 281.2h15.7v1.0h-15.7zM192.4 284.2h15.7v1.0h-15.7z" fill="#e01e40" fill-opacity="0.183"/>
<path d="M192.4 280.2h15.7v1.0h-15.7z" fill="#e01e40" fill-opacity="0.200"/>
<path d="M192.4 274.2h15.7v1.0h-15.7zM192.4 275.2h15.7v1.0h-15.7zM192.4 276.2h15.7v1.0h-15.7zM192.4 279.2h15.7v1.0h-15.7z" fill="#e01e40" fill-opacity="0.217"/>
<rect x="195.9" y="289" width="8.7" height="1" fill="url(#pBump)" fill-opacity="0.033"/>
<rect x="195.9" y="291" width="8.6" height="1" fill="url(#pBump)" fill-opacity="0.033"/>
<rect x="195.9" y="292" width="8.6" height="1" fill="url(#pBump)" fill-opacity="0.033"/>
<rect x="196.0" y="293" width="8.5" height="1" fill="url(#pBump)" fill-opacity="0.033"/>
<rect x="196.1" y="297" width="8.3" height="1" fill="url(#pBump)" fill-opacity="0.033"/>
<rect x="196.1" y="298" width="8.3" height="1" fill="url(#pBump)" fill-opacity="0.033"/>
<rect x="196.1" y="299" width="8.2" height="1" fill="url(#pBump)" fill-opacity="0.033"/>
<rect x="196.1" y="300" width="8.2" height="1" fill="url(#pBump)" fill-opacity="0.033"/>
<rect x="196.2" y="301" width="8.1" height="1" fill="url(#pBump)" fill-opacity="0.033"/>
<rect x="196.2" y="302" width="8.1" height="1" fill="url(#pBump)" fill-opacity="0.033"/>
<rect x="196.2" y="303" width="8.0" height="1" fill="url(#pBump)" fill-opacity="0.033"/>
<rect x="196.2" y="304" width="8.0" height="1" fill="url(#pBump)" fill-opacity="0.033"/>
<rect x="196.3" y="305" width="7.9" height="1" fill="url(#pBump)" fill-opacity="0.033"/>
<rect x="196.3" y="306" width="7.9" height="1" fill="url(#pBump)" fill-opacity="0.033"/>
<rect x="196.3" y="307" width="7.9" height="1" fill="url(#pBump)" fill-opacity="0.033"/>
<rect x="196.3" y="308" width="7.8" height="1" fill="url(#pBump)" fill-opacity="0.033"/>
<rect x="196.4" y="309" width="7.8" height="1" fill="url(#pBump)" fill-opacity="0.033"/>
<rect x="196.4" y="310" width="7.7" height="1" fill="url(#pBump)" fill-opacity="0.033"/>
<rect x="196.4" y="311" width="7.7" height="1" fill="url(#pBump)" fill-opacity="0.033"/>
<rect x="196.4" y="312" width="7.6" height="1" fill="url(#pBump)" fill-opacity="0.033"/>
<rect x="196.4" y="313" width="7.6" height="1" fill="url(#pBump)" fill-opacity="0.033"/>
<rect x="196.5" y="314" width="7.5" height="1" fill="url(#pBump)" fill-opacity="0.033"/>
<rect x="196.5" y="315" width="7.5" height="1" fill="url(#pBump)" fill-opacity="0.033"/>
<rect x="196.5" y="316" width="7.4" height="1" fill="url(#pBump)" fill-opacity="0.033"/>
<rect x="196.5" y="317" width="7.4" height="1" fill="url(#pBump)" fill-opacity="0.033"/>
<rect x="196.6" y="318" width="7.3" height="1" fill="url(#pBump)" fill-opacity="0.033"/>
<rect x="196.6" y="319" width="7.3" height="1" fill="url(#pBump)" fill-opacity="0.033"/>
<rect x="196.6" y="320" width="7.2" height="1" fill="url(#pBump)" fill-opacity="0.033"/>
<rect x="196.6" y="321" width="7.2" height="1" fill="url(#pBump)" fill-opacity="0.033"/>
<rect x="196.7" y="322" width="7.1" height="1" fill="url(#pBump)" fill-opacity="0.033"/>
<rect x="196.7" y="324" width="7.0" height="1" fill="url(#pBump)" fill-opacity="0.033"/>
<rect x="196.7" y="325" width="7.0" height="1" fill="url(#pBump)" fill-opacity="0.033"/>
<rect x="196.8" y="327" width="6.9" height="1" fill="url(#pBump)" fill-opacity="0.033"/>
<rect x="196.9" y="331" width="6.7" height="1" fill="url(#pBump)" fill-opacity="0.033"/>
<rect x="195.5" y="274" width="9.4" height="1" fill="url(#pBump)" fill-opacity="0.067"/>
<rect x="195.5" y="275" width="9.4" height="1" fill="url(#pBump)" fill-opacity="0.067"/>
<rect x="195.6" y="277" width="9.3" height="1" fill="url(#pBump)" fill-opacity="0.067"/>
<rect x="195.6" y="278" width="9.2" height="1" fill="url(#pBump)" fill-opacity="0.067"/>
<rect x="195.6" y="279" width="9.2" height="1" fill="url(#pBump)" fill-opacity="0.067"/>
<rect x="195.8" y="284" width="8.9" height="1" fill="url(#pBump)" fill-opacity="0.067"/>
<rect x="195.8" y="285" width="8.9" height="1" fill="url(#pBump)" fill-opacity="0.067"/>
<rect x="195.8" y="286" width="8.8" height="1" fill="url(#pBump)" fill-opacity="0.067"/>
<rect x="195.8" y="287" width="8.8" height="1" fill="url(#pBump)" fill-opacity="0.067"/>
<rect x="195.9" y="288" width="8.8" height="1" fill="url(#pBump)" fill-opacity="0.067"/>
<rect x="195.9" y="290" width="8.7" height="1" fill="url(#pBump)" fill-opacity="0.067"/>
<rect x="196.0" y="294" width="8.5" height="1" fill="url(#pBump)" fill-opacity="0.067"/>
<rect x="196.0" y="295" width="8.4" height="1" fill="url(#pBump)" fill-opacity="0.067"/>
<rect x="196.0" y="296" width="8.4" height="1" fill="url(#pBump)" fill-opacity="0.067"/>
<rect x="195.6" y="276" width="9.3" height="1" fill="url(#pBump)" fill-opacity="0.100"/>
<rect x="195.7" y="280" width="9.1" height="1" fill="url(#pBump)" fill-opacity="0.100"/>
<rect x="195.7" y="281" width="9.1" height="1" fill="url(#pBump)" fill-opacity="0.100"/>
<rect x="195.7" y="282" width="9.0" height="1" fill="url(#pBump)" fill-opacity="0.100"/>
<rect x="195.7" y="283" width="9.0" height="1" fill="url(#pBump)" fill-opacity="0.100"/>
<path d="M211.1 327.2h15.7v1.0h-15.7zM211.1 329.2h15.7v1.0h-15.7zM211.1 331.2h15.7v1.0h-15.7zM211.1 332.2h15.7v1.0h-15.7zM211.1 334.2h15.7v1.0h-15.7zM211.1 336.2h15.7v1.0h-15.7zM211.1 337.2h15.7v1.0h-15.7zM211.1 339.2h15.7v1.0h-15.7zM211.1 340.2h15.7v1.0h-15.7zM211.1 341.2h15.7v1.0h-15.7zM211.1 342.2h15.7v1.0h-15.7zM211.1 343.2h15.7v1.0h-15.7zM211.1 344.2h15.7v1.0h-15.7zM211.1 345.2h15.7v1.0h-15.7zM211.1 346.2h15.7v1.0h-15.7zM211.1 347.2h15.7v1.0h-15.7zM211.1 348.2h15.7v1.0h-15.7zM211.1 349.2h15.7v1.0h-15.7zM211.1 350.2h15.7v1.0h-15.7zM211.1 351.2h15.7v1.0h-15.7zM211.1 352.2h15.7v1.0h-15.7zM211.1 353.2h15.7v1.0h-15.7zM211.1 354.2h15.7v1.0h-15.7zM211.1 355.2h15.7v1.0h-15.7zM211.1 356.2h15.7v1.0h-15.7zM211.1 357.2h15.7v1.0h-15.7zM211.1 358.2h15.7v1.0h-15.7zM211.1 359.2h15.7v1.0h-15.7zM211.1 360.2h15.7v1.0h-15.7zM211.1 361.2h15.7v1.0h-15.7zM211.1 363.2h15.7v1.0h-15.7zM211.1 367.2h15.7v1.0h-15.7z" fill="#e01e40" fill-opacity="0.017"/>
<path d="M211.1 316.2h15.7v1.0h-15.7zM211.1 318.2h15.7v1.0h-15.7zM211.1 319.2h15.7v1.0h-15.7zM211.1 320.2h15.7v1.0h-15.7zM211.1 322.2h15.7v1.0h-15.7zM211.1 323.2h15.7v1.0h-15.7zM211.1 324.2h15.7v1.0h-15.7zM211.1 325.2h15.7v1.0h-15.7zM211.1 326.2h15.7v1.0h-15.7zM211.1 328.2h15.7v1.0h-15.7zM211.1 330.2h15.7v1.0h-15.7zM211.1 333.2h15.7v1.0h-15.7zM211.1 335.2h15.7v1.0h-15.7zM211.1 338.2h15.7v1.0h-15.7z" fill="#e01e40" fill-opacity="0.033"/>
<path d="M211.1 302.2h15.7v1.0h-15.7zM211.1 306.2h15.7v1.0h-15.7zM211.1 307.2h15.7v1.0h-15.7zM211.1 309.2h15.7v1.0h-15.7zM211.1 310.2h15.7v1.0h-15.7zM211.1 312.2h15.7v1.0h-15.7zM211.1 313.2h15.7v1.0h-15.7zM211.1 315.2h15.7v1.0h-15.7zM211.1 317.2h15.7v1.0h-15.7zM211.1 321.2h15.7v1.0h-15.7z" fill="#e01e40" fill-opacity="0.050"/>
<path d="M211.1 300.2h15.7v1.0h-15.7zM211.1 303.2h15.7v1.0h-15.7zM211.1 304.2h15.7v1.0h-15.7zM211.1 305.2h15.7v1.0h-15.7zM211.1 308.2h15.7v1.0h-15.7zM211.1 311.2h15.7v1.0h-15.7zM211.1 314.2h15.7v1.0h-15.7z" fill="#e01e40" fill-opacity="0.067"/>
<path d="M211.1 289.2h15.7v1.0h-15.7zM211.1 294.2h15.7v1.0h-15.7zM211.1 296.2h15.7v1.0h-15.7zM211.1 301.2h15.7v1.0h-15.7z" fill="#e01e40" fill-opacity="0.083"/>
<path d="M211.1 286.2h15.7v1.0h-15.7zM211.1 290.2h15.7v1.0h-15.7zM211.1 291.2h15.7v1.0h-15.7zM211.1 295.2h15.7v1.0h-15.7zM211.1 297.2h15.7v1.0h-15.7zM211.1 298.2h15.7v1.0h-15.7zM211.1 299.2h15.7v1.0h-15.7z" fill="#e01e40" fill-opacity="0.100"/>
<path d="M211.1 282.2h15.7v1.0h-15.7zM211.1 288.2h15.7v1.0h-15.7zM211.1 293.2h15.7v1.0h-15.7z" fill="#e01e40" fill-opacity="0.117"/>
<path d="M211.1 279.2h15.7v1.0h-15.7zM211.1 281.2h15.7v1.0h-15.7zM211.1 292.2h15.7v1.0h-15.7z" fill="#e01e40" fill-opacity="0.133"/>
<path d="M211.1 276.2h15.7v1.0h-15.7zM211.1 284.2h15.7v1.0h-15.7zM211.1 285.2h15.7v1.0h-15.7zM211.1 287.2h15.7v1.0h-15.7z" fill="#e01e40" fill-opacity="0.150"/>
<path d="M211.1 277.2h15.7v1.0h-15.7z" fill="#e01e40" fill-opacity="0.167"/>
<path d="M211.1 283.2h15.7v1.0h-15.7z" fill="#e01e40" fill-opacity="0.183"/>
<path d="M211.1 280.2h15.7v1.0h-15.7z" fill="#e01e40" fill-opacity="0.200"/>
<path d="M211.1 275.2h15.7v1.0h-15.7zM211.1 278.2h15.7v1.0h-15.7z" fill="#e01e40" fill-opacity="0.217"/>
<path d="M211.1 274.2h15.7v1.0h-15.7z" fill="#e01e40" fill-opacity="0.233"/>
<rect x="214.8" y="294" width="8.5" height="1" fill="url(#pBump)" fill-opacity="0.033"/>
<rect x="214.8" y="297" width="8.3" height="1" fill="url(#pBump)" fill-opacity="0.033"/>
<rect x="214.9" y="298" width="8.3" height="1" fill="url(#pBump)" fill-opacity="0.033"/>
<rect x="214.9" y="299" width="8.2" height="1" fill="url(#pBump)" fill-opacity="0.033"/>
<rect x="214.9" y="300" width="8.2" height="1" fill="url(#pBump)" fill-opacity="0.033"/>
<rect x="214.9" y="301" width="8.1" height="1" fill="url(#pBump)" fill-opacity="0.033"/>
<rect x="215.0" y="302" width="8.1" height="1" fill="url(#pBump)" fill-opacity="0.033"/>
<rect x="215.0" y="303" width="8.0" height="1" fill="url(#pBump)" fill-opacity="0.033"/>
<rect x="215.0" y="304" width="8.0" height="1" fill="url(#pBump)" fill-opacity="0.033"/>
<rect x="215.0" y="305" width="7.9" height="1" fill="url(#pBump)" fill-opacity="0.033"/>
<rect x="215.1" y="306" width="7.9" height="1" fill="url(#pBump)" fill-opacity="0.033"/>
<rect x="215.1" y="307" width="7.9" height="1" fill="url(#pBump)" fill-opacity="0.033"/>
<rect x="215.1" y="308" width="7.8" height="1" fill="url(#pBump)" fill-opacity="0.033"/>
<rect x="215.1" y="309" width="7.8" height="1" fill="url(#pBump)" fill-opacity="0.033"/>
<rect x="215.1" y="310" width="7.7" height="1" fill="url(#pBump)" fill-opacity="0.033"/>
<rect x="215.2" y="311" width="7.7" height="1" fill="url(#pBump)" fill-opacity="0.033"/>
<rect x="215.2" y="312" width="7.6" height="1" fill="url(#pBump)" fill-opacity="0.033"/>
<rect x="215.2" y="313" width="7.6" height="1" fill="url(#pBump)" fill-opacity="0.033"/>
<rect x="215.2" y="314" width="7.5" height="1" fill="url(#pBump)" fill-opacity="0.033"/>
<rect x="215.3" y="315" width="7.5" height="1" fill="url(#pBump)" fill-opacity="0.033"/>
<rect x="215.3" y="316" width="7.4" height="1" fill="url(#pBump)" fill-opacity="0.033"/>
<rect x="215.3" y="317" width="7.4" height="1" fill="url(#pBump)" fill-opacity="0.033"/>
<rect x="215.3" y="318" width="7.3" height="1" fill="url(#pBump)" fill-opacity="0.033"/>
<rect x="215.4" y="319" width="7.3" height="1" fill="url(#pBump)" fill-opacity="0.033"/>
<rect x="215.4" y="320" width="7.2" height="1" fill="url(#pBump)" fill-opacity="0.033"/>
<rect x="215.4" y="321" width="7.2" height="1" fill="url(#pBump)" fill-opacity="0.033"/>
<rect x="215.4" y="322" width="7.1" height="1" fill="url(#pBump)" fill-opacity="0.033"/>
<rect x="215.5" y="323" width="7.1" height="1" fill="url(#pBump)" fill-opacity="0.033"/>
<rect x="215.5" y="324" width="7.0" height="1" fill="url(#pBump)" fill-opacity="0.033"/>
<rect x="215.5" y="325" width="7.0" height="1" fill="url(#pBump)" fill-opacity="0.033"/>
<rect x="215.5" y="326" width="6.9" height="1" fill="url(#pBump)" fill-opacity="0.033"/>
<rect x="215.6" y="330" width="6.8" height="1" fill="url(#pBump)" fill-opacity="0.033"/>
<rect x="214.5" y="281" width="9.1" height="1" fill="url(#pBump)" fill-opacity="0.067"/>
<rect x="214.5" y="282" width="9.0" height="1" fill="url(#pBump)" fill-opacity="0.067"/>
<rect x="214.5" y="283" width="9.0" height="1" fill="url(#pBump)" fill-opacity="0.067"/>
<rect x="214.5" y="284" width="8.9" height="1" fill="url(#pBump)" fill-opacity="0.067"/>
<rect x="214.6" y="285" width="8.9" height="1" fill="url(#pBump)" fill-opacity="0.067"/>
<rect x="214.6" y="286" width="8.8" height="1" fill="url(#pBump)" fill-opacity="0.067"/>
<rect x="214.6" y="287" width="8.8" height="1" fill="url(#pBump)" fill-opacity="0.067"/>
<rect x="214.6" y="288" width="8.8" height="1" fill="url(#pBump)" fill-opacity="0.067"/>
<rect x="214.6" y="289" width="8.7" height="1" fill="url(#pBump)" fill-opacity="0.067"/>
<rect x="214.7" y="290" width="8.7" height="1" fill="url(#pBump)" fill-opacity="0.067"/>
<rect x="214.7" y="291" width="8.6" height="1" fill="url(#pBump)" fill-opacity="0.067"/>
<rect x="214.7" y="292" width="8.6" height="1" fill="url(#pBump)" fill-opacity="0.067"/>
<rect x="214.7" y="293" width="8.5" height="1" fill="url(#pBump)" fill-opacity="0.067"/>
<rect x="214.8" y="295" width="8.4" height="1" fill="url(#pBump)" fill-opacity="0.067"/>
<rect x="214.8" y="296" width="8.4" height="1" fill="url(#pBump)" fill-opacity="0.067"/>
<rect x="214.3" y="274" width="9.4" height="1" fill="url(#pBump)" fill-opacity="0.100"/>
<rect x="214.3" y="275" width="9.4" height="1" fill="url(#pBump)" fill-opacity="0.100"/>
<rect x="214.3" y="276" width="9.3" height="1" fill="url(#pBump)" fill-opacity="0.100"/>
<rect x="214.4" y="277" width="9.3" height="1" fill="url(#pBump)" fill-opacity="0.100"/>
<rect x="214.4" y="278" width="9.2" height="1" fill="url(#pBump)" fill-opacity="0.100"/>
<rect x="214.4" y="279" width="9.2" height="1" fill="url(#pBump)" fill-opacity="0.100"/>
<rect x="214.4" y="280" width="9.1" height="1" fill="url(#pBump)" fill-opacity="0.100"/>
<path d="M229.9 339.2h15.7v1.0h-15.7zM229.9 340.2h15.7v1.0h-15.7zM229.9 342.2h15.7v1.0h-15.7zM229.9 343.2h15.7v1.0h-15.7zM229.9 346.2h15.7v1.0h-15.7zM229.9 347.2h15.7v1.0h-15.7zM229.9 348.2h15.7v1.0h-15.7zM229.9 349.2h15.7v1.0h-15.7zM229.9 350.2h15.7v1.0h-15.7zM229.9 351.2h15.7v1.0h-15.7zM229.9 352.2h15.7v1.0h-15.7zM229.9 353.2h15.7v1.0h-15.7zM229.9 354.2h15.7v1.0h-15.7zM229.9 355.2h15.7v1.0h-15.7zM229.9 356.2h15.7v1.0h-15.7zM229.9 357.2h15.7v1.0h-15.7zM229.9 358.2h15.7v1.0h-15.7zM229.9 359.2h15.7v1.0h-15.7zM229.9 360.2h15.7v1.0h-15.7zM229.9 361.2h15.7v1.0h-15.7zM229.9 362.2h15.7v1.0h-15.7zM229.9 363.2h15.7v1.0h-15.7zM229.9 364.2h15.7v1.0h-15.7zM229.9 365.2h15.7v1.0h-15.7zM229.9 366.2h15.7v1.0h-15.7zM229.9 367.2h15.7v1.0h-15.7zM229.9 368.2h15.7v1.0h-15.7zM229.9 371.2h15.7v1.0h-15.7z" fill="#e01e40" fill-opacity="0.017"/>
<path d="M229.9 327.2h15.7v1.0h-15.7zM229.9 328.2h15.7v1.0h-15.7zM229.9 330.2h15.7v1.0h-15.7zM229.9 332.2h15.7v1.0h-15.7zM229.9 333.2h15.7v1.0h-15.7zM229.9 334.2h15.7v1.0h-15.7zM229.9 335.2h15.7v1.0h-15.7zM229.9 336.2h15.7v1.0h-15.7zM229.9 337.2h15.7v1.0h-15.7zM229.9 338.2h15.7v1.0h-15.7zM229.9 341.2h15.7v1.0h-15.7zM229.9 344.2h15.7v1.0h-15.7zM229.9 345.2h15.7v1.0h-15.7z" fill="#e01e40" fill-opacity="0.033"/>
<path d="M229.9 314.2h15.7v1.0h-15.7zM229.9 318.2h15.7v1.0h-15.7zM229.9 319.2h15.7v1.0h-15.7zM229.9 320.2h15.7v1.0h-15.7zM229.9 321.2h15.7v1.0h-15.7zM229.9 322.2h15.7v1.0h-15.7zM229.9 323.2h15.7v1.0h-15.7zM229.9 324.2h15.7v1.0h-15.7zM229.9 325.2h15.7v1.0h-15.7zM229.9 326.2h15.7v1.0h-15.7zM229.9 329.2h15.7v1.0h-15.7zM229.9 331.2h15.7v1.0h-15.7z" fill="#e01e40" fill-opacity="0.050"/>
<path d="M229.9 304.2h15.7v1.0h-15.7zM229.9 306.2h15.7v1.0h-15.7zM229.9 308.2h15.7v1.0h-15.7zM229.9 310.2h15.7v1.0h-15.7zM229.9 311.2h15.7v1.0h-15.7zM229.9 312.2h15.7v1.0h-15.7zM229.9 315.2h15.7v1.0h-15.7zM229.9 316.2h15.7v1.0h-15.7zM229.9 317.2h15.7v1.0h-15.7z" fill="#e01e40" fill-opacity="0.067"/>
<path d="M229.9 298.2h15.7v1.0h-15.7zM229.9 309.2h15.7v1.0h-15.7zM229.9 313.2h15.7v1.0h-15.7z" fill="#e01e40" fill-opacity="0.083"/>
<path d="M229.9 299.2h15.7v1.0h-15.7zM229.9 300.2h15.7v1.0h-15.7zM229.9 301.2h15.7v1.0h-15.7zM229.9 307.2h15.7v1.0h-15.7z" fill="#e01e40" fill-opacity="0.100"/>
<path d="M229.9 296.2h15.7v1.0h-15.7zM229.9 297.2h15.7v1.0h-15.7zM229.9 302.2h15.7v1.0h-15.7zM229.9 303.2h15.7v1.0h-15.7zM229.9 305.2h15.7v1.0h-15.7z" fill="#e01e40" fill-opacity="0.117"/>
<path d="M229.9 286.2h15.7v1.0h-15.7zM229.9 289.2h15.7v1.0h-15.7zM229.9 290.2h15.7v1.0h-15.7zM229.9 292.2h15.7v1.0h-15.7zM229.9 293.2h15.7v1.0h-15.7zM229.9 295.2h15.7v1.0h-15.7z" fill="#e01e40" fill-opacity="0.150"/>
<path d="M229.9 284.2h15.7v1.0h-15.7zM229.9 288.2h15.7v1.0h-15.7zM229.9 294.2h15.7v1.0h-15.7z" fill="#e01e40" fill-opacity="0.167"/>
<path d="M229.9 279.2h15.7v1.0h-15.7zM229.9 282.2h15.7v1.0h-15.7zM229.9 285.2h15.7v1.0h-15.7zM229.9 291.2h15.7v1.0h-15.7z" fill="#e01e40" fill-opacity="0.183"/>
<path d="M229.9 281.2h15.7v1.0h-15.7zM229.9 287.2h15.7v1.0h-15.7z" fill="#e01e40" fill-opacity="0.200"/>
<path d="M229.9 276.2h15.7v1.0h-15.7zM229.9 278.2h15.7v1.0h-15.7zM229.9 280.2h15.7v1.0h-15.7z" fill="#e01e40" fill-opacity="0.217"/>
<path d="M229.9 274.2h15.7v1.0h-15.7zM229.9 277.2h15.7v1.0h-15.7z" fill="#e01e40" fill-opacity="0.233"/>
<path d="M229.9 283.2h15.7v1.0h-15.7z" fill="#e01e40" fill-opacity="0.250"/>
<path d="M229.9 275.2h15.7v1.0h-15.7z" fill="#e01e40" fill-opacity="0.267"/>
<rect x="234.2" y="307" width="7.2" height="1" fill="url(#pBump)" fill-opacity="0.033"/>
<rect x="234.2" y="310" width="7.1" height="1" fill="url(#pBump)" fill-opacity="0.033"/>
<rect x="234.3" y="312" width="7.0" height="1" fill="url(#pBump)" fill-opacity="0.033"/>
<rect x="234.4" y="318" width="6.7" height="1" fill="url(#pBump)" fill-opacity="0.033"/>
<rect x="234.4" y="319" width="6.7" height="1" fill="url(#pBump)" fill-opacity="0.033"/>
<rect x="234.5" y="320" width="6.6" height="1" fill="url(#pBump)" fill-opacity="0.033"/>
<rect x="234.5" y="321" width="6.6" height="1" fill="url(#pBump)" fill-opacity="0.033"/>
<rect x="234.5" y="322" width="6.5" height="1" fill="url(#pBump)" fill-opacity="0.033"/>
<rect x="234.5" y="323" width="6.5" height="1" fill="url(#pBump)" fill-opacity="0.033"/>
<rect x="234.5" y="324" width="6.5" height="1" fill="url(#pBump)" fill-opacity="0.033"/>
<rect x="234.6" y="325" width="6.4" height="1" fill="url(#pBump)" fill-opacity="0.033"/>
<rect x="234.6" y="326" width="6.4" height="1" fill="url(#pBump)" fill-opacity="0.033"/>
<rect x="234.6" y="327" width="6.3" height="1" fill="url(#pBump)" fill-opacity="0.033"/>
<rect x="234.6" y="328" width="6.3" height="1" fill="url(#pBump)" fill-opacity="0.033"/>
<rect x="234.7" y="329" width="6.2" height="1" fill="url(#pBump)" fill-opacity="0.033"/>
<rect x="234.7" y="330" width="6.2" height="1" fill="url(#pBump)" fill-opacity="0.033"/>
<rect x="234.7" y="331" width="6.1" height="1" fill="url(#pBump)" fill-opacity="0.033"/>
<rect x="234.7" y="332" width="6.1" height="1" fill="url(#pBump)" fill-opacity="0.033"/>
<rect x="234.7" y="333" width="6.1" height="1" fill="url(#pBump)" fill-opacity="0.033"/>
<rect x="234.8" y="334" width="6.0" height="1" fill="url(#pBump)" fill-opacity="0.033"/>
<rect x="234.8" y="335" width="6.0" height="1" fill="url(#pBump)" fill-opacity="0.033"/>
<rect x="234.8" y="336" width="5.9" height="1" fill="url(#pBump)" fill-opacity="0.033"/>
<rect x="234.8" y="337" width="5.9" height="1" fill="url(#pBump)" fill-opacity="0.033"/>
<rect x="234.8" y="338" width="5.8" height="1" fill="url(#pBump)" fill-opacity="0.033"/>
<rect x="234.9" y="339" width="5.8" height="1" fill="url(#pBump)" fill-opacity="0.033"/>
<rect x="234.9" y="340" width="5.8" height="1" fill="url(#pBump)" fill-opacity="0.033"/>
<rect x="234.9" y="341" width="5.7" height="1" fill="url(#pBump)" fill-opacity="0.033"/>
<rect x="234.9" y="342" width="5.7" height="1" fill="url(#pBump)" fill-opacity="0.033"/>
<rect x="235.0" y="343" width="5.6" height="1" fill="url(#pBump)" fill-opacity="0.033"/>
<rect x="235.0" y="344" width="5.6" height="1" fill="url(#pBump)" fill-opacity="0.033"/>
<rect x="235.0" y="345" width="5.5" height="1" fill="url(#pBump)" fill-opacity="0.033"/>
<rect x="235.0" y="347" width="5.5" height="1" fill="url(#pBump)" fill-opacity="0.033"/>
<rect x="235.1" y="348" width="5.4" height="1" fill="url(#pBump)" fill-opacity="0.033"/>
<rect x="235.1" y="351" width="5.3" height="1" fill="url(#pBump)" fill-opacity="0.033"/>
<rect x="233.9" y="293" width="7.8" height="1" fill="url(#pBump)" fill-opacity="0.067"/>
<rect x="233.9" y="295" width="7.7" height="1" fill="url(#pBump)" fill-opacity="0.067"/>
<rect x="233.9" y="296" width="7.7" height="1" fill="url(#pBump)" fill-opacity="0.067"/>
<rect x="234.0" y="297" width="7.6" height="1" fill="url(#pBump)" fill-opacity="0.067"/>
<rect x="234.0" y="299" width="7.5" height="1" fill="url(#pBump)" fill-opacity="0.067"/>
<rect x="234.0" y="300" width="7.5" height="1" fill="url(#pBump)" fill-opacity="0.067"/>
<rect x="234.0" y="301" width="7.5" height="1" fill="url(#pBump)" fill-opacity="0.067"/>
<rect x="234.1" y="302" width="7.4" height="1" fill="url(#pBump)" fill-opacity="0.067"/>
<rect x="234.1" y="303" width="7.4" height="1" fill="url(#pBump)" fill-opacity="0.067"/>
<rect x="234.1" y="304" width="7.3" height="1" fill="url(#pBump)" fill-opacity="0.067"/>
<rect x="234.1" y="305" width="7.3" height="1" fill="url(#pBump)" fill-opacity="0.067"/>
<rect x="234.2" y="306" width="7.2" height="1" fill="url(#pBump)" fill-opacity="0.067"/>
<rect x="234.2" y="308" width="7.2" height="1" fill="url(#pBump)" fill-opacity="0.067"/>
<rect x="234.2" y="309" width="7.1" height="1" fill="url(#pBump)" fill-opacity="0.067"/>
<rect x="234.3" y="311" width="7.0" height="1" fill="url(#pBump)" fill-opacity="0.067"/>
<rect x="234.3" y="313" width="6.9" height="1" fill="url(#pBump)" fill-opacity="0.067"/>
<rect x="234.3" y="314" width="6.9" height="1" fill="url(#pBump)" fill-opacity="0.067"/>
<rect x="234.3" y="315" width="6.8" height="1" fill="url(#pBump)" fill-opacity="0.067"/>
<rect x="234.4" y="316" width="6.8" height="1" fill="url(#pBump)" fill-opacity="0.067"/>
<rect x="234.4" y="317" width="6.8" height="1" fill="url(#pBump)" fill-opacity="0.067"/>
<rect x="233.7" y="285" width="8.2" height="1" fill="url(#pBump)" fill-opacity="0.100"/>
<rect x="233.8" y="288" width="8.0" height="1" fill="url(#pBump)" fill-opacity="0.100"/>
<rect x="233.8" y="290" width="7.9" height="1" fill="url(#pBump)" fill-opacity="0.100"/>
<rect x="233.8" y="292" width="7.8" height="1" fill="url(#pBump)" fill-opacity="0.100"/>
<rect x="233.9" y="294" width="7.8" height="1" fill="url(#pBump)" fill-opacity="0.100"/>
<rect x="234.0" y="298" width="7.6" height="1" fill="url(#pBump)" fill-opacity="0.100"/>
<rect x="233.5" y="277" width="8.5" height="1" fill="url(#pBump)" fill-opacity="0.133"/>
<rect x="233.5" y="278" width="8.5" height="1" fill="url(#pBump)" fill-opacity="0.133"/>
<rect x="233.6" y="279" width="8.4" height="1" fill="url(#pBump)" fill-opacity="0.133"/>
<rect x="233.6" y="281" width="8.3" height="1" fill="url(#pBump)" fill-opacity="0.133"/>
<rect x="233.6" y="283" width="8.2" height="1" fill="url(#pBump)" fill-opacity="0.133"/>
<rect x="233.7" y="284" width="8.2" height="1" fill="url(#pBump)" fill-opacity="0.133"/>
<rect x="233.7" y="286" width="8.1" height="1" fill="url(#pBump)" fill-opacity="0.133"/>
<rect x="233.7" y="287" width="8.1" height="1" fill="url(#pBump)" fill-opacity="0.133"/>
<rect x="233.8" y="289" width="8.0" height="1" fill="url(#pBump)" fill-opacity="0.133"/>
<rect x="233.8" y="291" width="7.9" height="1" fill="url(#pBump)" fill-opacity="0.133"/>
<rect x="233.6" y="280" width="8.4" height="1" fill="url(#pBump)" fill-opacity="0.167"/>
<rect x="233.6" y="282" width="8.3" height="1" fill="url(#pBump)" fill-opacity="0.167"/>
<rect x="233.5" y="274" width="8.6" height="1" fill="url(#pBump)" fill-opacity="0.200"/>
<rect x="233.5" y="275" width="8.6" height="1" fill="url(#pBump)" fill-opacity="0.200"/>
<rect x="233.5" y="276" width="8.5" height="1" fill="url(#pBump)" fill-opacity="0.200"/>
<path d="M248.7 343.2h15.7v1.0h-15.7zM248.7 345.2h15.7v1.0h-15.7zM248.7 348.2h15.7v1.0h-15.7zM248.7 349.2h15.7v1.0h-15.7zM248.7 351.2h15.7v1.0h-15.7zM248.7 352.2h15.7v1.0h-15.7zM248.7 353.2h15.7v1.0h-15.7zM248.7 354.2h15.7v1.0h-15.7zM248.7 355.2h15.7v1.0h-15.7zM248.7 356.2h15.7v1.0h-15.7zM248.7 357.2h15.7v1.0h-15.7zM248.7 358.2h15.7v1.0h-15.7zM248.7 359.2h15.7v1.0h-15.7zM248.7 360.2h15.7v1.0h-15.7zM248.7 361.2h15.7v1.0h-15.7zM248.7 362.2h15.7v1.0h-15.7zM248.7 363.2h15.7v1.0h-15.7zM248.7 364.2h15.7v1.0h-15.7zM248.7 365.2h15.7v1.0h-15.7zM248.7 366.2h15.7v1.0h-15.7zM248.7 367.2h15.7v1.0h-15.7zM248.7 368.2h15.7v1.0h-15.7zM248.7 369.2h15.7v1.0h-15.7zM248.7 370.2h15.7v1.0h-15.7zM248.7 371.2h15.7v1.0h-15.7zM248.7 372.2h15.7v1.0h-15.7z" fill="#e01e40" fill-opacity="0.017"/>
<path d="M248.7 328.2h15.7v1.0h-15.7zM248.7 332.2h15.7v1.0h-15.7zM248.7 334.2h15.7v1.0h-15.7zM248.7 336.2h15.7v1.0h-15.7zM248.7 337.2h15.7v1.0h-15.7zM248.7 338.2h15.7v1.0h-15.7zM248.7 339.2h15.7v1.0h-15.7zM248.7 340.2h15.7v1.0h-15.7zM248.7 341.2h15.7v1.0h-15.7zM248.7 342.2h15.7v1.0h-15.7zM248.7 344.2h15.7v1.0h-15.7zM248.7 346.2h15.7v1.0h-15.7zM248.7 347.2h15.7v1.0h-15.7zM248.7 350.2h15.7v1.0h-15.7z" fill="#e01e40" fill-opacity="0.033"/>
<path d="M248.7 318.2h15.7v1.0h-15.7zM248.7 321.2h15.7v1.0h-15.7zM248.7 325.2h15.7v1.0h-15.7zM248.7 326.2h15.7v1.0h-15.7zM248.7 327.2h15.7v1.0h-15.7zM248.7 329.2h15.7v1.0h-15.7zM248.7 330.2h15.7v1.0h-15.7zM248.7 331.2h15.7v1.0h-15.7zM248.7 333.2h15.7v1.0h-15.7zM248.7 335.2h15.7v1.0h-15.7z" fill="#e01e40" fill-opacity="0.050"/>
<path d="M248.7 309.2h15.7v1.0h-15.7zM248.7 315.2h15.7v1.0h-15.7zM248.7 319.2h15.7v1.0h-15.7zM248.7 320.2h15.7v1.0h-15.7zM248.7 322.2h15.7v1.0h-15.7zM248.7 323.2h15.7v1.0h-15.7zM248.7 324.2h15.7v1.0h-15.7z" fill="#e01e40" fill-opacity="0.067"/>
<path d="M248.7 311.2h15.7v1.0h-15.7zM248.7 313.2h15.7v1.0h-15.7zM248.7 314.2h15.7v1.0h-15.7zM248.7 316.2h15.7v1.0h-15.7zM248.7 317.2h15.7v1.0h-15.7z" fill="#e01e40" fill-opacity="0.083"/>
<path d="M248.7 303.2h15.7v1.0h-15.7zM248.7 304.2h15.7v1.0h-15.7zM248.7 306.2h15.7v1.0h-15.7zM248.7 308.2h15.7v1.0h-15.7zM248.7 310.2h15.7v1.0h-15.7zM248.7 312.2h15.7v1.0h-15.7z" fill="#e01e40" fill-opacity="0.100"/>
<path d="M248.7 296.2h15.7v1.0h-15.7zM248.7 299.2h15.7v1.0h-15.7zM248.7 301.2h15.7v1.0h-15.7zM248.7 302.2h15.7v1.0h-15.7zM248.7 305.2h15.7v1.0h-15.7zM248.7 307.2h15.7v1.0h-15.7z" fill="#e01e40" fill-opacity="0.117"/>
<path d="M248.7 294.2h15.7v1.0h-15.7zM248.7 298.2h15.7v1.0h-15.7zM248.7 300.2h15.7v1.0h-15.7z" fill="#e01e40" fill-opacity="0.133"/>
<path d="M248.7 289.2h15.7v1.0h-15.7z" fill="#e01e40" fill-opacity="0.150"/>
<path d="M248.7 286.2h15.7v1.0h-15.7zM248.7 293.2h15.7v1.0h-15.7zM248.7 295.2h15.7v1.0h-15.7zM248.7 297.2h15.7v1.0h-15.7z" fill="#e01e40" fill-opacity="0.167"/>
<path d="M248.7 283.2h15.7v1.0h-15.7zM248.7 284.2h15.7v1.0h-15.7zM248.7 285.2h15.7v1.0h-15.7zM248.7 292.2h15.7v1.0h-15.7z" fill="#e01e40" fill-opacity="0.183"/>
<path d="M248.7 282.2h15.7v1.0h-15.7zM248.7 290.2h15.7v1.0h-15.7zM248.7 291.2h15.7v1.0h-15.7z" fill="#e01e40" fill-opacity="0.200"/>
<path d="M248.7 277.2h15.7v1.0h-15.7z" fill="#e01e40" fill-opacity="0.217"/>
<path d="M248.7 287.2h15.7v1.0h-15.7zM248.7 288.2h15.7v1.0h-15.7z" fill="#e01e40" fill-opacity="0.233"/>
<path d="M248.7 274.2h15.7v1.0h-15.7zM248.7 280.2h15.7v1.0h-15.7z" fill="#e01e40" fill-opacity="0.250"/>
<path d="M248.7 281.2h15.7v1.0h-15.7z" fill="#e01e40" fill-opacity="0.283"/>
<path d="M248.7 278.2h15.7v1.0h-15.7z" fill="#e01e40" fill-opacity="0.300"/>
<path d="M248.7 279.2h15.7v1.0h-15.7z" fill="#e01e40" fill-opacity="0.350"/>
<path d="M248.7 275.2h15.7v1.0h-15.7z" fill="#e01e40" fill-opacity="0.367"/>
<path d="M248.7 276.2h15.7v1.0h-15.7z" fill="#e01e40" fill-opacity="0.383"/>
<rect x="253.0" y="308" width="7.2" height="1" fill="url(#pBump)" fill-opacity="0.033"/>
<rect x="253.0" y="311" width="7.0" height="1" fill="url(#pBump)" fill-opacity="0.033"/>
<rect x="253.1" y="313" width="6.9" height="1" fill="url(#pBump)" fill-opacity="0.033"/>
<rect x="253.1" y="314" width="6.9" height="1" fill="url(#pBump)" fill-opacity="0.033"/>
<rect x="253.1" y="315" width="6.8" height="1" fill="url(#pBump)" fill-opacity="0.033"/>
<rect x="253.1" y="316" width="6.8" height="1" fill="url(#pBump)" fill-opacity="0.033"/>
<rect x="253.2" y="317" width="6.8" height="1" fill="url(#pBump)" fill-opacity="0.033"/>
<rect x="253.2" y="318" width="6.7" height="1" fill="url(#pBump)" fill-opacity="0.033"/>
<rect x="253.2" y="319" width="6.7" height="1" fill="url(#pBump)" fill-opacity="0.033"/>
<rect x="253.2" y="320" width="6.6" height="1" fill="url(#pBump)" fill-opacity="0.033"/>
<rect x="253.2" y="321" width="6.6" height="1" fill="url(#pBump)" fill-opacity="0.033"/>
<rect x="253.3" y="322" width="6.5" height="1" fill="url(#pBump)" fill-opacity="0.033"/>
<rect x="253.3" y="323" width="6.5" height="1" fill="url(#pBump)" fill-opacity="0.033"/>
<rect x="253.3" y="324" width="6.5" height="1" fill="url(#pBump)" fill-opacity="0.033"/>
<rect x="253.3" y="325" width="6.4" height="1" fill="url(#pBump)" fill-opacity="0.033"/>
<rect x="253.4" y="326" width="6.4" height="1" fill="url(#pBump)" fill-opacity="0.033"/>
<rect x="253.4" y="327" width="6.3" height="1" fill="url(#pBump)" fill-opacity="0.033"/>
<rect x="253.4" y="328" width="6.3" height="1" fill="url(#pBump)" fill-opacity="0.033"/>
<rect x="253.4" y="329" width="6.2" height="1" fill="url(#pBump)" fill-opacity="0.033"/>
<rect x="253.4" y="330" width="6.2" height="1" fill="url(#pBump)" fill-opacity="0.033"/>
<rect x="253.5" y="331" width="6.1" height="1" fill="url(#pBump)" fill-opacity="0.033"/>
<rect x="253.5" y="332" width="6.1" height="1" fill="url(#pBump)" fill-opacity="0.033"/>
<rect x="253.5" y="333" width="6.1" height="1" fill="url(#pBump)" fill-opacity="0.033"/>
<rect x="253.5" y="334" width="6.0" height="1" fill="url(#pBump)" fill-opacity="0.033"/>
<rect x="253.6" y="335" width="6.0" height="1" fill="url(#pBump)" fill-opacity="0.033"/>
<rect x="253.6" y="336" width="5.9" height="1" fill="url(#pBump)" fill-opacity="0.033"/>
<rect x="253.6" y="337" width="5.9" height="1" fill="url(#pBump)" fill-opacity="0.033"/>
<rect x="253.6" y="338" width="5.8" height="1" fill="url(#pBump)" fill-opacity="0.033"/>
<rect x="253.7" y="340" width="5.8" height="1" fill="url(#pBump)" fill-opacity="0.033"/>
<rect x="253.7" y="341" width="5.7" height="1" fill="url(#pBump)" fill-opacity="0.033"/>
<rect x="253.7" y="342" width="5.7" height="1" fill="url(#pBump)" fill-opacity="0.033"/>
<rect x="253.9" y="349" width="5.4" height="1" fill="url(#pBump)" fill-opacity="0.033"/>
<rect x="252.5" y="286" width="8.1" height="1" fill="url(#pBump)" fill-opacity="0.067"/>
<rect x="252.5" y="288" width="8.0" height="1" fill="url(#pBump)" fill-opacity="0.067"/>
<rect x="252.6" y="291" width="7.9" height="1" fill="url(#pBump)" fill-opacity="0.067"/>
<rect x="252.7" y="295" width="7.7" height="1" fill="url(#pBump)" fill-opacity="0.067"/>
<rect x="252.7" y="296" width="7.7" height="1" fill="url(#pBump)" fill-opacity="0.067"/>
<rect x="252.7" y="297" width="7.6" height="1" fill="url(#pBump)" fill-opacity="0.067"/>
<rect x="252.7" y="298" width="7.6" height="1" fill="url(#pBump)" fill-opacity="0.067"/>
<rect x="252.8" y="299" width="7.5" height="1" fill="url(#pBump)" fill-opacity="0.067"/>
<rect x="252.8" y="300" width="7.5" height="1" fill="url(#pBump)" fill-opacity="0.067"/>
<rect x="252.8" y="301" width="7.5" height="1" fill="url(#pBump)" fill-opacity="0.067"/>
<rect x="252.8" y="302" width="7.4" height="1" fill="url(#pBump)" fill-opacity="0.067"/>
<rect x="252.9" y="303" width="7.4" height="1" fill="url(#pBump)" fill-opacity="0.067"/>
<rect x="252.9" y="304" width="7.3" height="1" fill="url(#pBump)" fill-opacity="0.067"/>
<rect x="252.9" y="305" width="7.3" height="1" fill="url(#pBump)" fill-opacity="0.067"/>
<rect x="252.9" y="306" width="7.2" height="1" fill="url(#pBump)" fill-opacity="0.067"/>
<rect x="252.9" y="307" width="7.2" height="1" fill="url(#pBump)" fill-opacity="0.067"/>
<rect x="253.0" y="309" width="7.1" height="1" fill="url(#pBump)" fill-opacity="0.067"/>
<rect x="253.0" y="310" width="7.1" height="1" fill="url(#pBump)" fill-opacity="0.067"/>
<rect x="253.1" y="312" width="7.0" height="1" fill="url(#pBump)" fill-opacity="0.067"/>
<rect x="252.4" y="280" width="8.4" height="1" fill="url(#pBump)" fill-opacity="0.100"/>
<rect x="252.4" y="281" width="8.3" height="1" fill="url(#pBump)" fill-opacity="0.100"/>
<rect x="252.4" y="282" width="8.3" height="1" fill="url(#pBump)" fill-opacity="0.100"/>
<rect x="252.5" y="287" width="8.1" height="1" fill="url(#pBump)" fill-opacity="0.100"/>
<rect x="252.5" y="289" width="8.0" height="1" fill="url(#pBump)" fill-opacity="0.100"/>
<rect x="252.6" y="290" width="7.9" height="1" fill="url(#pBump)" fill-opacity="0.100"/>
<rect x="252.6" y="292" width="7.8" height="1" fill="url(#pBump)" fill-opacity="0.100"/>
<rect x="252.6" y="293" width="7.8" height="1" fill="url(#pBump)" fill-opacity="0.100"/>
<rect x="252.7" y="294" width="7.8" height="1" fill="url(#pBump)" fill-opacity="0.100"/>
<rect x="252.2" y="274" width="8.6" height="1" fill="url(#pBump)" fill-opacity="0.133"/>
<rect x="252.2" y="275" width="8.6" height="1" fill="url(#pBump)" fill-opacity="0.133"/>
<rect x="252.3" y="276" width="8.5" height="1" fill="url(#pBump)" fill-opacity="0.133"/>
<rect x="252.3" y="277" width="8.5" height="1" fill="url(#pBump)" fill-opacity="0.133"/>
<rect x="252.3" y="279" width="8.4" height="1" fill="url(#pBump)" fill-opacity="0.133"/>
<rect x="252.4" y="283" width="8.2" height="1" fill="url(#pBump)" fill-opacity="0.133"/>
<rect x="252.4" y="284" width="8.2" height="1" fill="url(#pBump)" fill-opacity="0.133"/>
<rect x="252.5" y="285" width="8.2" height="1" fill="url(#pBump)" fill-opacity="0.133"/>
<rect x="252.3" y="278" width="8.5" height="1" fill="url(#pBump)" fill-opacity="0.167"/>
<path d="M267.5 337.2h15.7v1.0h-15.7zM267.5 339.2h15.7v1.0h-15.7zM267.5 341.2h15.7v1.0h-15.7zM267.5 342.2h15.7v1.0h-15.7zM267.5 343.2h15.7v1.0h-15.7zM267.5 345.2h15.7v1.0h-15.7zM267.5 346.2h15.7v1.0h-15.7zM267.5 348.2h15.7v1.0h-15.7zM267.5 349.2h15.7v1.0h-15.7zM267.5 350.2h15.7v1.0h-15.7zM267.5 351.2h15.7v1.0h-15.7zM267.5 352.2h15.7v1.0h-15.7zM267.5 353.2h15.7v1.0h-15.7zM267.5 354.2h15.7v1.0h-15.7zM267.5 355.2h15.7v1.0h-15.7zM267.5 356.2h15.7v1.0h-15.7zM267.5 357.2h15.7v1.0h-15.7zM267.5 358.2h15.7v1.0h-15.7zM267.5 359.2h15.7v1.0h-15.7zM267.5 360.2h15.7v1.0h-15.7zM267.5 361.2h15.7v1.0h-15.7zM267.5 362.2h15.7v1.0h-15.7zM267.5 363.2h15.7v1.0h-15.7zM267.5 364.2h15.7v1.0h-15.7zM267.5 365.2h15.7v1.0h-15.7zM267.5 366.2h15.7v1.0h-15.7zM267.5 367.2h15.7v1.0h-15.7zM267.5 368.2h15.7v1.0h-15.7zM267.5 369.2h15.7v1.0h-15.7zM267.5 370.2h15.7v1.0h-15.7zM267.5 371.2h15.7v1.0h-15.7z" fill="#e01e40" fill-opacity="0.017"/>
<path d="M267.5 326.2h15.7v1.0h-15.7zM267.5 331.2h15.7v1.0h-15.7zM267.5 334.2h15.7v1.0h-15.7zM267.5 335.2h15.7v1.0h-15.7zM267.5 336.2h15.7v1.0h-15.7zM267.5 338.2h15.7v1.0h-15.7zM267.5 340.2h15.7v1.0h-15.7zM267.5 344.2h15.7v1.0h-15.7zM267.5 347.2h15.7v1.0h-15.7z" fill="#e01e40" fill-opacity="0.033"/>
<path d="M267.5 314.2h15.7v1.0h-15.7zM267.5 316.2h15.7v1.0h-15.7zM267.5 319.2h15.7v1.0h-15.7zM267.5 321.2h15.7v1.0h-15.7zM267.5 322.2h15.7v1.0h-15.7zM267.5 323.2h15.7v1.0h-15.7zM267.5 324.2h15.7v1.0h-15.7zM267.5 325.2h15.7v1.0h-15.7zM267.5 327.2h15.7v1.0h-15.7zM267.5 328.2h15.7v1.0h-15.7zM267.5 329.2h15.7v1.0h-15.7zM267.5 330.2h15.7v1.0h-15.7zM267.5 332.2h15.7v1.0h-15.7zM267.5 333.2h15.7v1.0h-15.7z" fill="#e01e40" fill-opacity="0.050"/>
<path d="M267.5 309.2h15.7v1.0h-15.7zM267.5 318.2h15.7v1.0h-15.7zM267.5 320.2h15.7v1.0h-15.7z" fill="#e01e40" fill-opacity="0.067"/>
<path d="M267.5 302.2h15.7v1.0h-15.7zM267.5 303.2h15.7v1.0h-15.7zM267.5 306.2h15.7v1.0h-15.7zM267.5 307.2h15.7v1.0h-15.7zM267.5 311.2h15.7v1.0h-15.7zM267.5 313.2h15.7v1.0h-15.7zM267.5 315.2h15.7v1.0h-15.7zM267.5 317.2h15.7v1.0h-15.7z" fill="#e01e40" fill-opacity="0.083"/>
<path d="M267.5 298.2h15.7v1.0h-15.7zM267.5 300.2h15.7v1.0h-15.7zM267.5 301.2h15.7v1.0h-15.7zM267.5 305.2h15.7v1.0h-15.7zM267.5 310.2h15.7v1.0h-15.7zM267.5 312.2h15.7v1.0h-15.7z" fill="#e01e40" fill-opacity="0.100"/>
<path d="M267.5 296.2h15.7v1.0h-15.7zM267.5 297.2h15.7v1.0h-15.7zM267.5 304.2h15.7v1.0h-15.7zM267.5 308.2h15.7v1.0h-15.7z" fill="#e01e40" fill-opacity="0.117"/>
<path d="M267.5 289.2h15.7v1.0h-15.7zM267.5 294.2h15.7v1.0h-15.7z" fill="#e01e40" fill-opacity="0.133"/>
<path d="M267.5 285.2h15.7v1.0h-15.7zM267.5 288.2h15.7v1.0h-15.7zM267.5 299.2h15.7v1.0h-15.7z" fill="#e01e40" fill-opacity="0.150"/>
<path d="M267.5 286.2h15.7v1.0h-15.7zM267.5 291.2h15.7v1.0h-15.7zM267.5 293.2h15.7v1.0h-15.7zM267.5 295.2h15.7v1.0h-15.7z" fill="#e01e40" fill-opacity="0.167"/>
<path d="M267.5 292.2h15.7v1.0h-15.7z" fill="#e01e40" fill-opacity="0.183"/>
<path d="M267.5 279.2h15.7v1.0h-15.7zM267.5 282.2h15.7v1.0h-15.7zM267.5 290.2h15.7v1.0h-15.7z" fill="#e01e40" fill-opacity="0.200"/>
<path d="M267.5 275.2h15.7v1.0h-15.7zM267.5 280.2h15.7v1.0h-15.7z" fill="#e01e40" fill-opacity="0.217"/>
<path d="M267.5 281.2h15.7v1.0h-15.7zM267.5 283.2h15.7v1.0h-15.7zM267.5 284.2h15.7v1.0h-15.7zM267.5 287.2h15.7v1.0h-15.7z" fill="#e01e40" fill-opacity="0.233"/>
<path d="M267.5 278.2h15.7v1.0h-15.7z" fill="#e01e40" fill-opacity="0.283"/>
<path d="M267.5 277.2h15.7v1.0h-15.7z" fill="#e01e40" fill-opacity="0.300"/>
<path d="M267.5 276.2h15.7v1.0h-15.7z" fill="#e01e40" fill-opacity="0.317"/>
<path d="M267.5 274.2h15.7v1.0h-15.7z" fill="#e01e40" fill-opacity="0.333"/>
<rect x="271.6" y="304" width="7.3" height="1" fill="url(#pBump)" fill-opacity="0.033"/>
<rect x="271.7" y="305" width="7.3" height="1" fill="url(#pBump)" fill-opacity="0.033"/>
<rect x="271.7" y="306" width="7.2" height="1" fill="url(#pBump)" fill-opacity="0.033"/>
<rect x="271.8" y="309" width="7.1" height="1" fill="url(#pBump)" fill-opacity="0.033"/>
<rect x="271.8" y="310" width="7.1" height="1" fill="url(#pBump)" fill-opacity="0.033"/>
<rect x="271.8" y="311" width="7.0" height="1" fill="url(#pBump)" fill-opacity="0.033"/>
<rect x="271.8" y="312" width="7.0" height="1" fill="url(#pBump)" fill-opacity="0.033"/>
<rect x="271.8" y="313" width="6.9" height="1" fill="url(#pBump)" fill-opacity="0.033"/>
<rect x="271.9" y="314" width="6.9" height="1" fill="url(#pBump)" fill-opacity="0.033"/>
<rect x="271.9" y="315" width="6.8" height="1" fill="url(#pBump)" fill-opacity="0.033"/>
<rect x="271.9" y="316" width="6.8" height="1" fill="url(#pBump)" fill-opacity="0.033"/>
<rect x="271.9" y="317" width="6.8" height="1" fill="url(#pBump)" fill-opacity="0.033"/>
<rect x="272.0" y="318" width="6.7" height="1" fill="url(#pBump)" fill-opacity="0.033"/>
<rect x="272.0" y="319" width="6.7" height="1" fill="url(#pBump)" fill-opacity="0.033"/>
<rect x="272.0" y="320" width="6.6" height="1" fill="url(#pBump)" fill-opacity="0.033"/>
<rect x="272.0" y="321" width="6.6" height="1" fill="url(#pBump)" fill-opacity="0.033"/>
<rect x="272.0" y="322" width="6.5" height="1" fill="url(#pBump)" fill-opacity="0.033"/>
<rect x="272.1" y="323" width="6.5" height="1" fill="url(#pBump)" fill-opacity="0.033"/>
<rect x="272.1" y="324" width="6.5" height="1" fill="url(#pBump)" fill-opacity="0.033"/>
<rect x="272.1" y="325" width="6.4" height="1" fill="url(#pBump)" fill-opacity="0.033"/>
<rect x="272.1" y="326" width="6.4" height="1" fill="url(#pBump)" fill-opacity="0.033"/>
<rect x="272.1" y="327" width="6.3" height="1" fill="url(#pBump)" fill-opacity="0.033"/>
<rect x="272.2" y="328" width="6.3" height="1" fill="url(#pBump)" fill-opacity="0.033"/>
<rect x="272.2" y="329" width="6.2" height="1" fill="url(#pBump)" fill-opacity="0.033"/>
<rect x="272.2" y="330" width="6.2" height="1" fill="url(#pBump)" fill-opacity="0.033"/>
<rect x="272.2" y="331" width="6.1" height="1" fill="url(#pBump)" fill-opacity="0.033"/>
<rect x="272.3" y="332" width="6.1" height="1" fill="url(#pBump)" fill-opacity="0.033"/>
<rect x="272.3" y="333" width="6.1" height="1" fill="url(#pBump)" fill-opacity="0.033"/>
<rect x="272.3" y="334" width="6.0" height="1" fill="url(#pBump)" fill-opacity="0.033"/>
<rect x="272.3" y="335" width="6.0" height="1" fill="url(#pBump)" fill-opacity="0.033"/>
<rect x="272.3" y="336" width="5.9" height="1" fill="url(#pBump)" fill-opacity="0.033"/>
<rect x="272.4" y="337" width="5.9" height="1" fill="url(#pBump)" fill-opacity="0.033"/>
<rect x="272.4" y="338" width="5.8" height="1" fill="url(#pBump)" fill-opacity="0.033"/>
<rect x="272.4" y="339" width="5.8" height="1" fill="url(#pBump)" fill-opacity="0.033"/>
<rect x="272.4" y="340" width="5.8" height="1" fill="url(#pBump)" fill-opacity="0.033"/>
<rect x="272.5" y="341" width="5.7" height="1" fill="url(#pBump)" fill-opacity="0.033"/>
<rect x="272.5" y="342" width="5.7" height="1" fill="url(#pBump)" fill-opacity="0.033"/>
<rect x="272.5" y="343" width="5.6" height="1" fill="url(#pBump)" fill-opacity="0.033"/>
<rect x="271.4" y="291" width="7.9" height="1" fill="url(#pBump)" fill-opacity="0.067"/>
<rect x="271.4" y="292" width="7.8" height="1" fill="url(#pBump)" fill-opacity="0.067"/>
<rect x="271.4" y="293" width="7.8" height="1" fill="url(#pBump)" fill-opacity="0.067"/>
<rect x="271.4" y="294" width="7.8" height="1" fill="url(#pBump)" fill-opacity="0.067"/>
<rect x="271.5" y="295" width="7.7" height="1" fill="url(#pBump)" fill-opacity="0.067"/>
<rect x="271.5" y="297" width="7.6" height="1" fill="url(#pBump)" fill-opacity="0.067"/>
<rect x="271.5" y="298" width="7.6" height="1" fill="url(#pBump)" fill-opacity="0.067"/>
<rect x="271.5" y="299" width="7.5" height="1" fill="url(#pBump)" fill-opacity="0.067"/>
<rect x="271.6" y="300" width="7.5" height="1" fill="url(#pBump)" fill-opacity="0.067"/>
<rect x="271.6" y="301" width="7.5" height="1" fill="url(#pBump)" fill-opacity="0.067"/>
<rect x="271.6" y="302" width="7.4" height="1" fill="url(#pBump)" fill-opacity="0.067"/>
<rect x="271.6" y="303" width="7.4" height="1" fill="url(#pBump)" fill-opacity="0.067"/>
<rect x="271.7" y="307" width="7.2" height="1" fill="url(#pBump)" fill-opacity="0.067"/>
<rect x="271.7" y="308" width="7.2" height="1" fill="url(#pBump)" fill-opacity="0.067"/>
<rect x="271.1" y="279" width="8.4" height="1" fill="url(#pBump)" fill-opacity="0.100"/>
<rect x="271.1" y="280" width="8.4" height="1" fill="url(#pBump)" fill-opacity="0.100"/>
<rect x="271.1" y="281" width="8.3" height="1" fill="url(#pBump)" fill-opacity="0.100"/>
<rect x="271.2" y="282" width="8.3" height="1" fill="url(#pBump)" fill-opacity="0.100"/>
<rect x="271.2" y="283" width="8.2" height="1" fill="url(#pBump)" fill-opacity="0.100"/>
<rect x="271.2" y="284" width="8.2" height="1" fill="url(#pBump)" fill-opacity="0.100"/>
<rect x="271.3" y="287" width="8.1" height="1" fill="url(#pBump)" fill-opacity="0.100"/>
<rect x="271.3" y="288" width="8.0" height="1" fill="url(#pBump)" fill-opacity="0.100"/>
<rect x="271.3" y="289" width="8.0" height="1" fill="url(#pBump)" fill-opacity="0.100"/>
<rect x="271.3" y="290" width="7.9" height="1" fill="url(#pBump)" fill-opacity="0.100"/>
<rect x="271.5" y="296" width="7.7" height="1" fill="url(#pBump)" fill-opacity="0.100"/>
<rect x="271.0" y="275" width="8.6" height="1" fill="url(#pBump)" fill-opacity="0.133"/>
<rect x="271.1" y="277" width="8.5" height="1" fill="url(#pBump)" fill-opacity="0.133"/>
<rect x="271.1" y="278" width="8.5" height="1" fill="url(#pBump)" fill-opacity="0.133"/>
<rect x="271.2" y="285" width="8.2" height="1" fill="url(#pBump)" fill-opacity="0.133"/>
<rect x="271.3" y="286" width="8.1" height="1" fill="url(#pBump)" fill-opacity="0.133"/>
<rect x="271.0" y="274" width="8.6" height="1" fill="url(#pBump)" fill-opacity="0.167"/>
<rect x="271.0" y="276" width="8.5" height="1" fill="url(#pBump)" fill-opacity="0.167"/>
<path d="M286.2 345.2h15.7v1.0h-15.7zM286.2 351.2h15.7v1.0h-15.7zM286.2 352.2h15.7v1.0h-15.7zM286.2 353.2h15.7v1.0h-15.7zM286.2 354.2h15.7v1.0h-15.7zM286.2 355.2h15.7v1.0h-15.7zM286.2 356.2h15.7v1.0h-15.7zM286.2 357.2h15.7v1.0h-15.7zM286.2 358.2h15.7v1.0h-15.7zM286.2 359.2h15.7v1.0h-15.7zM286.2 360.2h15.7v1.0h-15.7zM286.2 361.2h15.7v1.0h-15.7zM286.2 362.2h15.7v1.0h-15.7zM286.2 363.2h15.7v1.0h-15.7zM286.2 364.2h15.7v1.0h-15.7zM286.2 365.2h15.7v1.0h-15.7zM286.2 366.2h15.7v1.0h-15.7zM286.2 367.2h15.7v1.0h-15.7zM286.2 368.2h15.7v1.0h-15.7zM286.2 369.2h15.7v1.0h-15.7zM286.2 370.2h15.7v1.0h-15.7zM286.2 371.2h15.7v1.0h-15.7zM286.2 372.2h15.7v1.0h-15.7z" fill="#e01e40" fill-opacity="0.017"/>
<path d="M286.2 334.2h15.7v1.0h-15.7zM286.2 335.2h15.7v1.0h-15.7zM286.2 337.2h15.7v1.0h-15.7zM286.2 338.2h15.7v1.0h-15.7zM286.2 339.2h15.7v1.0h-15.7zM286.2 340.2h15.7v1.0h-15.7zM286.2 341.2h15.7v1.0h-15.7zM286.2 342.2h15.7v1.0h-15.7zM286.2 343.2h15.7v1.0h-15.7zM286.2 344.2h15.7v1.0h-15.7zM286.2 346.2h15.7v1.0h-15.7zM286.2 347.2h15.7v1.0h-15.7zM286.2 348.2h15.7v1.0h-15.7zM286.2 349.2h15.7v1.0h-15.7zM286.2 350.2h15.7v1.0h-15.7z" fill="#e01e40" fill-opacity="0.033"/>
<path d="M286.2 328.2h15.7v1.0h-15.7zM286.2 329.2h15.7v1.0h-15.7zM286.2 330.2h15.7v1.0h-15.7zM286.2 331.2h15.7v1.0h-15.7zM286.2 332.2h15.7v1.0h-15.7zM286.2 333.2h15.7v1.0h-15.7zM286.2 336.2h15.7v1.0h-15.7z" fill="#e01e40" fill-opacity="0.050"/>
<path d="M286.2 314.2h15.7v1.0h-15.7zM286.2 316.2h15.7v1.0h-15.7zM286.2 318.2h15.7v1.0h-15.7zM286.2 319.2h15.7v1.0h-15.7zM286.2 323.2h15.7v1.0h-15.7zM286.2 324.2h15.7v1.0h-15.7zM286.2 325.2h15.7v1.0h-15.7zM286.2 326.2h15.7v1.0h-15.7zM286.2 327.2h15.7v1.0h-15.7z" fill="#e01e40" fill-opacity="0.067"/>
<path d="M286.2 307.2h15.7v1.0h-15.7zM286.2 311.2h15.7v1.0h-15.7zM286.2 312.2h15.7v1.0h-15.7zM286.2 315.2h15.7v1.0h-15.7zM286.2 320.2h15.7v1.0h-15.7zM286.2 321.2h15.7v1.0h-15.7zM286.2 322.2h15.7v1.0h-15.7z" fill="#e01e40" fill-opacity="0.083"/>
<path d="M286.2 305.2h15.7v1.0h-15.7zM286.2 310.2h15.7v1.0h-15.7zM286.2 317.2h15.7v1.0h-15.7z" fill="#e01e40" fill-opacity="0.100"/>
<path d="M286.2 301.2h15.7v1.0h-15.7zM286.2 304.2h15.7v1.0h-15.7zM286.2 306.2h15.7v1.0h-15.7zM286.2 309.2h15.7v1.0h-15.7zM286.2 313.2h15.7v1.0h-15.7z" fill="#e01e40" fill-opacity="0.117"/>
<path d="M286.2 298.2h15.7v1.0h-15.7zM286.2 302.2h15.7v1.0h-15.7zM286.2 303.2h15.7v1.0h-15.7zM286.2 308.2h15.7v1.0h-15.7z" fill="#e01e40" fill-opacity="0.133"/>
<path d="M286.2 295.2h15.7v1.0h-15.7zM286.2 296.2h15.7v1.0h-15.7zM286.2 297.2h15.7v1.0h-15.7zM286.2 300.2h15.7v1.0h-15.7z" fill="#e01e40" fill-opacity="0.150"/>
<path d="M286.2 291.2h15.7v1.0h-15.7zM286.2 293.2h15.7v1.0h-15.7z" fill="#e01e40" fill-opacity="0.167"/>
<path d="M286.2 290.2h15.7v1.0h-15.7zM286.2 294.2h15.7v1.0h-15.7zM286.2 299.2h15.7v1.0h-15.7z" fill="#e01e40" fill-opacity="0.183"/>
<path d="M286.2 279.2h15.7v1.0h-15.7zM286.2 288.2h15.7v1.0h-15.7z" fill="#e01e40" fill-opacity="0.233"/>
<path d="M286.2 286.2h15.7v1.0h-15.7zM286.2 287.2h15.7v1.0h-15.7zM286.2 292.2h15.7v1.0h-15.7z" fill="#e01e40" fill-opacity="0.250"/>
<path d="M286.2 289.2h15.7v1.0h-15.7z" fill="#e01e40" fill-opacity="0.267"/>
<path d="M286.2 284.2h15.7v1.0h-15.7zM286.2 285.2h15.7v1.0h-15.7z" fill="#e01e40" fill-opacity="0.283"/>
<path d="M286.2 275.2h15.7v1.0h-15.7zM286.2 278.2h15.7v1.0h-15.7z" fill="#e01e40" fill-opacity="0.317"/>
<path d="M286.2 282.2h15.7v1.0h-15.7zM286.2 283.2h15.7v1.0h-15.7z" fill="#e01e40" fill-opacity="0.333"/>
<path d="M286.2 277.2h15.7v1.0h-15.7z" fill="#e01e40" fill-opacity="0.350"/>
<path d="M286.2 281.2h15.7v1.0h-15.7z" fill="#e01e40" fill-opacity="0.367"/>
<path d="M286.2 276.2h15.7v1.0h-15.7zM286.2 280.2h15.7v1.0h-15.7z" fill="#e01e40" fill-opacity="0.383"/>
<path d="M286.2 274.2h15.7v1.0h-15.7z" fill="#e01e40" fill-opacity="0.467"/>
<rect x="290.6" y="312" width="7.0" height="1" fill="url(#pBump)" fill-opacity="0.033"/>
<rect x="290.7" y="316" width="6.8" height="1" fill="url(#pBump)" fill-opacity="0.033"/>
<rect x="290.7" y="318" width="6.7" height="1" fill="url(#pBump)" fill-opacity="0.033"/>
<rect x="290.8" y="321" width="6.6" height="1" fill="url(#pBump)" fill-opacity="0.033"/>
<rect x="290.8" y="322" width="6.5" height="1" fill="url(#pBump)" fill-opacity="0.033"/>
<rect x="290.8" y="323" width="6.5" height="1" fill="url(#pBump)" fill-opacity="0.033"/>
<rect x="290.9" y="324" width="6.5" height="1" fill="url(#pBump)" fill-opacity="0.033"/>
<rect x="290.9" y="325" width="6.4" height="1" fill="url(#pBump)" fill-opacity="0.033"/>
<rect x="290.9" y="326" width="6.4" height="1" fill="url(#pBump)" fill-opacity="0.033"/>
<rect x="290.9" y="327" width="6.3" height="1" fill="url(#pBump)" fill-opacity="0.033"/>
<rect x="290.9" y="328" width="6.3" height="1" fill="url(#pBump)" fill-opacity="0.033"/>
<rect x="291.0" y="329" width="6.2" height="1" fill="url(#pBump)" fill-opacity="0.033"/>
<rect x="291.0" y="330" width="6.2" height="1" fill="url(#pBump)" fill-opacity="0.033"/>
<rect x="291.0" y="331" width="6.1" height="1" fill="url(#pBump)" fill-opacity="0.033"/>
<rect x="291.0" y="332" width="6.1" height="1" fill="url(#pBump)" fill-opacity="0.033"/>
<rect x="291.0" y="333" width="6.1" height="1" fill="url(#pBump)" fill-opacity="0.033"/>
<rect x="291.1" y="334" width="6.0" height="1" fill="url(#pBump)" fill-opacity="0.033"/>
<rect x="291.1" y="335" width="6.0" height="1" fill="url(#pBump)" fill-opacity="0.033"/>
<rect x="291.1" y="336" width="5.9" height="1" fill="url(#pBump)" fill-opacity="0.033"/>
<rect x="291.1" y="337" width="5.9" height="1" fill="url(#pBump)" fill-opacity="0.033"/>
<rect x="291.2" y="338" width="5.8" height="1" fill="url(#pBump)" fill-opacity="0.033"/>
<rect x="291.2" y="339" width="5.8" height="1" fill="url(#pBump)" fill-opacity="0.033"/>
<rect x="291.2" y="340" width="5.8" height="1" fill="url(#pBump)" fill-opacity="0.033"/>
<rect x="291.2" y="341" width="5.7" height="1" fill="url(#pBump)" fill-opacity="0.033"/>
<rect x="291.2" y="342" width="5.7" height="1" fill="url(#pBump)" fill-opacity="0.033"/>
<rect x="291.3" y="343" width="5.6" height="1" fill="url(#pBump)" fill-opacity="0.033"/>
<rect x="291.3" y="344" width="5.6" height="1" fill="url(#pBump)" fill-opacity="0.033"/>
<rect x="291.3" y="346" width="5.5" height="1" fill="url(#pBump)" fill-opacity="0.033"/>
<rect x="291.4" y="347" width="5.5" height="1" fill="url(#pBump)" fill-opacity="0.033"/>
<rect x="291.4" y="348" width="5.4" height="1" fill="url(#pBump)" fill-opacity="0.033"/>
<rect x="291.4" y="349" width="5.4" height="1" fill="url(#pBump)" fill-opacity="0.033"/>
<rect x="291.4" y="350" width="5.3" height="1" fill="url(#pBump)" fill-opacity="0.033"/>
<rect x="291.4" y="351" width="5.3" height="1" fill="url(#pBump)" fill-opacity="0.033"/>
<rect x="291.5" y="352" width="5.2" height="1" fill="url(#pBump)" fill-opacity="0.033"/>
<rect x="291.6" y="356" width="5.1" height="1" fill="url(#pBump)" fill-opacity="0.033"/>
<rect x="290.3" y="297" width="7.6" height="1" fill="url(#pBump)" fill-opacity="0.067"/>
<rect x="290.4" y="302" width="7.4" height="1" fill="url(#pBump)" fill-opacity="0.067"/>
<rect x="290.4" y="303" width="7.4" height="1" fill="url(#pBump)" fill-opacity="0.067"/>
<rect x="290.4" y="304" width="7.3" height="1" fill="url(#pBump)" fill-opacity="0.067"/>
<rect x="290.4" y="305" width="7.3" height="1" fill="url(#pBump)" fill-opacity="0.067"/>
<rect x="290.5" y="306" width="7.2" height="1" fill="url(#pBump)" fill-opacity="0.067"/>
<rect x="290.5" y="307" width="7.2" height="1" fill="url(#pBump)" fill-opacity="0.067"/>
<rect x="290.5" y="308" width="7.2" height="1" fill="url(#pBump)" fill-opacity="0.067"/>
<rect x="290.5" y="309" width="7.1" height="1" fill="url(#pBump)" fill-opacity="0.067"/>
<rect x="290.5" y="310" width="7.1" height="1" fill="url(#pBump)" fill-opacity="0.067"/>
<rect x="290.6" y="311" width="7.0" height="1" fill="url(#pBump)" fill-opacity="0.067"/>
<rect x="290.6" y="313" width="6.9" height="1" fill="url(#pBump)" fill-opacity="0.067"/>
<rect x="290.6" y="314" width="6.9" height="1" fill="url(#pBump)" fill-opacity="0.067"/>
<rect x="290.7" y="315" width="6.8" height="1" fill="url(#pBump)" fill-opacity="0.067"/>
<rect x="290.7" y="317" width="6.8" height="1" fill="url(#pBump)" fill-opacity="0.067"/>
<rect x="290.7" y="319" width="6.7" height="1" fill="url(#pBump)" fill-opacity="0.067"/>
<rect x="290.8" y="320" width="6.6" height="1" fill="url(#pBump)" fill-opacity="0.067"/>
<rect x="290.0" y="283" width="8.2" height="1" fill="url(#pBump)" fill-opacity="0.100"/>
<rect x="290.0" y="287" width="8.1" height="1" fill="url(#pBump)" fill-opacity="0.100"/>
<rect x="290.1" y="289" width="8.0" height="1" fill="url(#pBump)" fill-opacity="0.100"/>
<rect x="290.2" y="292" width="7.8" height="1" fill="url(#pBump)" fill-opacity="0.100"/>
<rect x="290.2" y="293" width="7.8" height="1" fill="url(#pBump)" fill-opacity="0.100"/>
<rect x="290.2" y="294" width="7.8" height="1" fill="url(#pBump)" fill-opacity="0.100"/>
<rect x="290.2" y="295" width="7.7" height="1" fill="url(#pBump)" fill-opacity="0.100"/>
<rect x="290.2" y="296" width="7.7" height="1" fill="url(#pBump)" fill-opacity="0.100"/>
<rect x="290.3" y="298" width="7.6" height="1" fill="url(#pBump)" fill-opacity="0.100"/>
<rect x="290.3" y="299" width="7.5" height="1" fill="url(#pBump)" fill-opacity="0.100"/>
<rect x="290.3" y="300" width="7.5" height="1" fill="url(#pBump)" fill-opacity="0.100"/>
<rect x="290.4" y="301" width="7.5" height="1" fill="url(#pBump)" fill-opacity="0.100"/>
<rect x="289.8" y="277" width="8.5" height="1" fill="url(#pBump)" fill-opacity="0.133"/>
<rect x="289.9" y="279" width="8.4" height="1" fill="url(#pBump)" fill-opacity="0.133"/>
<rect x="290.0" y="284" width="8.2" height="1" fill="url(#pBump)" fill-opacity="0.133"/>
<rect x="290.0" y="285" width="8.2" height="1" fill="url(#pBump)" fill-opacity="0.133"/>
<rect x="290.1" y="288" width="8.0" height="1" fill="url(#pBump)" fill-opacity="0.133"/>
<rect x="290.1" y="290" width="7.9" height="1" fill="url(#pBump)" fill-opacity="0.133"/>
<rect x="290.1" y="291" width="7.9" height="1" fill="url(#pBump)" fill-opacity="0.133"/>
<rect x="289.8" y="275" width="8.6" height="1" fill="url(#pBump)" fill-opacity="0.167"/>
<rect x="289.8" y="276" width="8.5" height="1" fill="url(#pBump)" fill-opacity="0.167"/>
<rect x="289.8" y="278" width="8.5" height="1" fill="url(#pBump)" fill-opacity="0.167"/>
<rect x="289.9" y="280" width="8.4" height="1" fill="url(#pBump)" fill-opacity="0.167"/>
<rect x="289.9" y="281" width="8.3" height="1" fill="url(#pBump)" fill-opacity="0.167"/>
<rect x="289.9" y="282" width="8.3" height="1" fill="url(#pBump)" fill-opacity="0.167"/>
<rect x="290.0" y="286" width="8.1" height="1" fill="url(#pBump)" fill-opacity="0.167"/>
<rect x="289.8" y="274" width="8.6" height="1" fill="url(#pBump)" fill-opacity="0.233"/>
<path d="M305.0 341.2h15.7v1.0h-15.7zM305.0 344.2h15.7v1.0h-15.7zM305.0 345.2h15.7v1.0h-15.7zM305.0 346.2h15.7v1.0h-15.7zM305.0 349.2h15.7v1.0h-15.7zM305.0 350.2h15.7v1.0h-15.7zM305.0 351.2h15.7v1.0h-15.7zM305.0 352.2h15.7v1.0h-15.7zM305.0 353.2h15.7v1.0h-15.7zM305.0 354.2h15.7v1.0h-15.7zM305.0 355.2h15.7v1.0h-15.7zM305.0 356.2h15.7v1.0h-15.7zM305.0 357.2h15.7v1.0h-15.7zM305.0 358.2h15.7v1.0h-15.7zM305.0 359.2h15.7v1.0h-15.7zM305.0 360.2h15.7v1.0h-15.7zM305.0 361.2h15.7v1.0h-15.7zM305.0 362.2h15.7v1.0h-15.7zM305.0 363.2h15.7v1.0h-15.7zM305.0 364.2h15.7v1.0h-15.7zM305.0 365.2h15.7v1.0h-15.7zM305.0 366.2h15.7v1.0h-15.7zM305.0 367.2h15.7v1.0h-15.7zM305.0 368.2h15.7v1.0h-15.7zM305.0 369.2h15.7v1.0h-15.7zM305.0 372.2h15.7v1.0h-15.7z" fill="#e01e40" fill-opacity="0.017"/>
<path d="M305.0 331.2h15.7v1.0h-15.7zM305.0 334.2h15.7v1.0h-15.7zM305.0 335.2h15.7v1.0h-15.7zM305.0 336.2h15.7v1.0h-15.7zM305.0 337.2h15.7v1.0h-15.7zM305.0 338.2h15.7v1.0h-15.7zM305.0 339.2h15.7v1.0h-15.7zM305.0 340.2h15.7v1.0h-15.7zM305.0 342.2h15.7v1.0h-15.7zM305.0 343.2h15.7v1.0h-15.7zM305.0 347.2h15.7v1.0h-15.7zM305.0 348.2h15.7v1.0h-15.7z" fill="#e01e40" fill-opacity="0.033"/>
<path d="M305.0 319.2h15.7v1.0h-15.7zM305.0 320.2h15.7v1.0h-15.7zM305.0 324.2h15.7v1.0h-15.7zM305.0 325.2h15.7v1.0h-15.7zM305.0 326.2h15.7v1.0h-15.7zM305.0 327.2h15.7v1.0h-15.7zM305.0 328.2h15.7v1.0h-15.7zM305.0 329.2h15.7v1.0h-15.7zM305.0 330.2h15.7v1.0h-15.7zM305.0 332.2h15.7v1.0h-15.7zM305.0 333.2h15.7v1.0h-15.7z" fill="#e01e40" fill-opacity="0.050"/>
<path d="M305.0 314.2h15.7v1.0h-15.7zM305.0 315.2h15.7v1.0h-15.7zM305.0 316.2h15.7v1.0h-15.7zM305.0 317.2h15.7v1.0h-15.7zM305.0 321.2h15.7v1.0h-15.7zM305.0 322.2h15.7v1.0h-15.7zM305.0 323.2h15.7v1.0h-15.7z" fill="#e01e40" fill-opacity="0.067"/>
<path d="M305.0 308.2h15.7v1.0h-15.7zM305.0 309.2h15.7v1.0h-15.7zM305.0 312.2h15.7v1.0h-15.7zM305.0 313.2h15.7v1.0h-15.7zM305.0 318.2h15.7v1.0h-15.7z" fill="#e01e40" fill-opacity="0.083"/>
<path d="M305.0 304.2h15.7v1.0h-15.7zM305.0 306.2h15.7v1.0h-15.7zM305.0 307.2h15.7v1.0h-15.7zM305.0 311.2h15.7v1.0h-15.7z" fill="#e01e40" fill-opacity="0.100"/>
<path d="M305.0 295.2h15.7v1.0h-15.7zM305.0 298.2h15.7v1.0h-15.7zM305.0 300.2h15.7v1.0h-15.7zM305.0 303.2h15.7v1.0h-15.7zM305.0 305.2h15.7v1.0h-15.7zM305.0 310.2h15.7v1.0h-15.7z" fill="#e01e40" fill-opacity="0.117"/>
<path d="M305.0 292.2h15.7v1.0h-15.7zM305.0 302.2h15.7v1.0h-15.7z" fill="#e01e40" fill-opacity="0.133"/>
<path d="M305.0 291.2h15.7v1.0h-15.7zM305.0 297.2h15.7v1.0h-15.7zM305.0 301.2h15.7v1.0h-15.7z" fill="#e01e40" fill-opacity="0.150"/>
<path d="M305.0 288.2h15.7v1.0h-15.7zM305.0 294.2h15.7v1.0h-15.7zM305.0 296.2h15.7v1.0h-15.7zM305.0 299.2h15.7v1.0h-15.7z" fill="#e01e40" fill-opacity="0.167"/>
<path d="M305.0 285.2h15.7v1.0h-15.7zM305.0 293.2h15.7v1.0h-15.7z" fill="#e01e40" fill-opacity="0.183"/>
<path d="M305.0 283.2h15.7v1.0h-15.7z" fill="#e01e40" fill-opacity="0.200"/>
<path d="M305.0 286.2h15.7v1.0h-15.7zM305.0 290.2h15.7v1.0h-15.7z" fill="#e01e40" fill-opacity="0.217"/>
<path d="M305.0 276.2h15.7v1.0h-15.7zM305.0 280.2h15.7v1.0h-15.7zM305.0 287.2h15.7v1.0h-15.7zM305.0 289.2h15.7v1.0h-15.7z" fill="#e01e40" fill-opacity="0.233"/>
<path d="M305.0 281.2h15.7v1.0h-15.7zM305.0 282.2h15.7v1.0h-15.7zM305.0 284.2h15.7v1.0h-15.7z" fill="#e01e40" fill-opacity="0.267"/>
<path d="M305.0 279.2h15.7v1.0h-15.7z" fill="#e01e40" fill-opacity="0.283"/>
<path d="M305.0 275.2h15.7v1.0h-15.7z" fill="#e01e40" fill-opacity="0.300"/>
<path d="M305.0 278.2h15.7v1.0h-15.7z" fill="#e01e40" fill-opacity="0.317"/>
<path d="M305.0 274.2h15.7v1.0h-15.7z" fill="#e01e40" fill-opacity="0.333"/>
<path d="M305.0 277.2h15.7v1.0h-15.7z" fill="#e01e40" fill-opacity="0.367"/>
<rect x="309.1" y="298" width="7.6" height="1" fill="url(#pBump)" fill-opacity="0.033"/>
<rect x="309.1" y="301" width="7.5" height="1" fill="url(#pBump)" fill-opacity="0.033"/>
<rect x="309.2" y="304" width="7.3" height="1" fill="url(#pBump)" fill-opacity="0.033"/>
<rect x="309.2" y="305" width="7.3" height="1" fill="url(#pBump)" fill-opacity="0.033"/>
<rect x="309.2" y="306" width="7.2" height="1" fill="url(#pBump)" fill-opacity="0.033"/>
<rect x="309.3" y="307" width="7.2" height="1" fill="url(#pBump)" fill-opacity="0.033"/>
<rect x="309.3" y="308" width="7.2" height="1" fill="url(#pBump)" fill-opacity="0.033"/>
<rect x="309.3" y="309" width="7.1" height="1" fill="url(#pBump)" fill-opacity="0.033"/>
<rect x="309.3" y="310" width="7.1" height="1" fill="url(#pBump)" fill-opacity="0.033"/>
<rect x="309.3" y="311" width="7.0" height="1" fill="url(#pBump)" fill-opacity="0.033"/>
<rect x="309.4" y="312" width="7.0" height="1" fill="url(#pBump)" fill-opacity="0.033"/>
<rect x="309.4" y="313" width="6.9" height="1" fill="url(#pBump)" fill-opacity="0.033"/>
<rect x="309.4" y="314" width="6.9" height="1" fill="url(#pBump)" fill-opacity="0.033"/>
<rect x="309.4" y="315" width="6.8" height="1" fill="url(#pBump)" fill-opacity="0.033"/>
<rect x="309.4" y="316" width="6.8" height="1" fill="url(#pBump)" fill-opacity="0.033"/>
<rect x="309.5" y="317" width="6.8" height="1" fill="url(#pBump)" fill-opacity="0.033"/>
<rect x="309.5" y="318" width="6.7" height="1" fill="url(#pBump)" fill-opacity="0.033"/>
<rect x="309.5" y="319" width="6.7" height="1" fill="url(#pBump)" fill-opacity="0.033"/>
<rect x="309.5" y="320" width="6.6" height="1" fill="url(#pBump)" fill-opacity="0.033"/>
<rect x="309.6" y="321" width="6.6" height="1" fill="url(#pBump)" fill-opacity="0.033"/>
<rect x="309.6" y="322" width="6.5" height="1" fill="url(#pBump)" fill-opacity="0.033"/>
<rect x="309.6" y="323" width="6.5" height="1" fill="url(#pBump)" fill-opacity="0.033"/>
<rect x="309.6" y="324" width="6.5" height="1" fill="url(#pBump)" fill-opacity="0.033"/>
<rect x="309.6" y="325" width="6.4" height="1" fill="url(#pBump)" fill-opacity="0.033"/>
<rect x="309.7" y="326" width="6.4" height="1" fill="url(#pBump)" fill-opacity="0.033"/>
<rect x="309.7" y="327" width="6.3" height="1" fill="url(#pBump)" fill-opacity="0.033"/>
<rect x="309.7" y="328" width="6.3" height="1" fill="url(#pBump)" fill-opacity="0.033"/>
<rect x="309.7" y="329" width="6.2" height="1" fill="url(#pBump)" fill-opacity="0.033"/>
<rect x="309.8" y="330" width="6.2" height="1" fill="url(#pBump)" fill-opacity="0.033"/>
<rect x="309.8" y="331" width="6.1" height="1" fill="url(#pBump)" fill-opacity="0.033"/>
<rect x="309.8" y="334" width="6.0" height="1" fill="url(#pBump)" fill-opacity="0.033"/>
<rect x="309.9" y="335" width="6.0" height="1" fill="url(#pBump)" fill-opacity="0.033"/>
<rect x="309.9" y="336" width="5.9" height="1" fill="url(#pBump)" fill-opacity="0.033"/>
<rect x="309.9" y="339" width="5.8" height="1" fill="url(#pBump)" fill-opacity="0.033"/>
<rect x="308.7" y="283" width="8.2" height="1" fill="url(#pBump)" fill-opacity="0.067"/>
<rect x="308.8" y="284" width="8.2" height="1" fill="url(#pBump)" fill-opacity="0.067"/>
<rect x="308.8" y="285" width="8.2" height="1" fill="url(#pBump)" fill-opacity="0.067"/>
<rect x="308.8" y="288" width="8.0" height="1" fill="url(#pBump)" fill-opacity="0.067"/>
<rect x="308.9" y="289" width="8.0" height="1" fill="url(#pBump)" fill-opacity="0.067"/>
<rect x="308.9" y="290" width="7.9" height="1" fill="url(#pBump)" fill-opacity="0.067"/>
<rect x="308.9" y="291" width="7.9" height="1" fill="url(#pBump)" fill-opacity="0.067"/>
<rect x="308.9" y="292" width="7.8" height="1" fill="url(#pBump)" fill-opacity="0.067"/>
<rect x="308.9" y="293" width="7.8" height="1" fill="url(#pBump)" fill-opacity="0.067"/>
<rect x="309.0" y="294" width="7.8" height="1" fill="url(#pBump)" fill-opacity="0.067"/>
<rect x="309.0" y="295" width="7.7" height="1" fill="url(#pBump)" fill-opacity="0.067"/>
<rect x="309.0" y="296" width="7.7" height="1" fill="url(#pBump)" fill-opacity="0.067"/>
<rect x="309.0" y="297" width="7.6" height="1" fill="url(#pBump)" fill-opacity="0.067"/>
<rect x="309.1" y="299" width="7.5" height="1" fill="url(#pBump)" fill-opacity="0.067"/>
<rect x="309.1" y="300" width="7.5" height="1" fill="url(#pBump)" fill-opacity="0.067"/>
<rect x="309.1" y="302" width="7.4" height="1" fill="url(#pBump)" fill-opacity="0.067"/>
<rect x="309.2" y="303" width="7.4" height="1" fill="url(#pBump)" fill-opacity="0.067"/>
<rect x="308.6" y="276" width="8.5" height="1" fill="url(#pBump)" fill-opacity="0.100"/>
<rect x="308.6" y="277" width="8.5" height="1" fill="url(#pBump)" fill-opacity="0.100"/>
<rect x="308.6" y="278" width="8.5" height="1" fill="url(#pBump)" fill-opacity="0.100"/>
<rect x="308.6" y="279" width="8.4" height="1" fill="url(#pBump)" fill-opacity="0.100"/>
<rect x="308.7" y="280" width="8.4" height="1" fill="url(#pBump)" fill-opacity="0.100"/>
<rect x="308.7" y="281" width="8.3" height="1" fill="url(#pBump)" fill-opacity="0.100"/>
<rect x="308.7" y="282" width="8.3" height="1" fill="url(#pBump)" fill-opacity="0.100"/>
<rect x="308.8" y="286" width="8.1" height="1" fill="url(#pBump)" fill-opacity="0.100"/>
<rect x="308.8" y="287" width="8.1" height="1" fill="url(#pBump)" fill-opacity="0.100"/>
<rect x="308.5" y="274" width="8.6" height="1" fill="url(#pBump)" fill-opacity="0.133"/>
<rect x="308.6" y="275" width="8.6" height="1" fill="url(#pBump)" fill-opacity="0.133"/>
<rect x="134.00" y="274.5" width="1.07" height="98.3" fill="#9a9a9a"/>
<rect x="152.77" y="274.5" width="1.07" height="98.3" fill="#9a9a9a"/>
<rect x="171.54" y="274.5" width="1.07" height="98.3" fill="#9a9a9a"/>
<rect x="190.31" y="274.5" width="1.07" height="98.3" fill="#9a9a9a"/>
<rect x="209.08" y="274.5" width="1.07" height="98.3" fill="#9a9a9a"/>
<rect x="227.85" y="274.5" width="1.07" height="98.3" fill="#9a9a9a"/>
<rect x="246.62" y="274.5" width="1.07" height="98.3" fill="#9a9a9a"/>
<rect x="265.39" y="274.5" width="1.07" height="98.3" fill="#9a9a9a"/>
<rect x="284.16" y="274.5" width="1.07" height="98.3" fill="#9a9a9a"/>
<rect x="302.93" y="274.5" width="1.07" height="98.3" fill="#9a9a9a"/>
<rect x="67.90" y="274.7" width="16.40" height="97.9" fill="none" stroke="#333" stroke-width="1.0"/>
<rect x="86.60" y="274.7" width="16.80" height="97.9" fill="none" stroke="#333" stroke-width="1.0"/>
<rect x="116.80" y="274.7" width="16.70" height="97.9" fill="none" stroke="#333" stroke-width="1.0"/>
<rect x="135.57" y="274.7" width="16.70" height="97.9" fill="none" stroke="#333" stroke-width="1.0"/>
<rect x="154.34" y="274.7" width="16.70" height="97.9" fill="none" stroke="#333" stroke-width="1.0"/>
<rect x="173.11" y="274.7" width="16.70" height="97.9" fill="none" stroke="#333" stroke-width="1.0"/>
<rect x="191.88" y="274.7" width="16.70" height="97.9" fill="none" stroke="#333" stroke-width="1.0"/>
<rect x="210.65" y="274.7" width="16.70" height="97.9" fill="none" stroke="#333" stroke-width="1.0"/>
<rect x="229.42" y="274.7" width="16.70" height="97.9" fill="none" stroke="#333" stroke-width="1.0"/>
<rect x="248.19" y="274.7" width="16.70" height="97.9" fill="none" stroke="#333" stroke-width="1.0"/>
<rect x="266.96" y="274.7" width="16.70" height="97.9" fill="none" stroke="#333" stroke-width="1.0"/>
<rect x="285.73" y="274.7" width="16.70" height="97.9" fill="none" stroke="#333" stroke-width="1.0"/>
<rect x="304.50" y="274.7" width="16.70" height="97.9" fill="none" stroke="#333" stroke-width="1.0"/>
<text transform="translate(20.09,319.00) scale(0.8848,1)" font-size="8.736" fill="#4a5f96" letter-spacing="0.349">IRF4 + p65</text>
<text transform="translate(28.25,328.50) scale(1.0222,1)" font-size="8.280" fill="#4a5f96" letter-spacing="0.331">bound</text>
<text transform="translate(48.61,381.60) scale(1.1416,1)" font-size="7.728" fill="#231f20" >-3kb</text>
<text transform="translate(73.56,381.70) scale(1.0763,1)" font-size="8.163" fill="#231f20" >0</text>
<text transform="translate(84.66,381.60) scale(1.1569,1)" font-size="7.728" fill="#231f20" >3kb</text>
<rect x="67.50" y="389.6" width="17.00" height="3.6" fill="url(#cb1)" stroke="#2a2a2a" stroke-width="0.8"/>
<line x1="67.5" y1="389.4" x2="67.5" y2="396.5" stroke="#2a2a2a" stroke-width="0.8"/>
<line x1="84.5" y1="389.4" x2="84.5" y2="396.5" stroke="#2a2a2a" stroke-width="0.8"/>
<rect x="86.20" y="389.6" width="18.10" height="3.6" fill="url(#cb2)" stroke="#2a2a2a" stroke-width="0.8"/>
<line x1="86.2" y1="389.4" x2="86.2" y2="396.5" stroke="#2a2a2a" stroke-width="0.8"/>
<line x1="104.3" y1="389.4" x2="104.3" y2="396.5" stroke="#2a2a2a" stroke-width="0.8"/>
<rect x="116.30" y="389.6" width="17.90" height="3.6" fill="url(#cb3)" stroke="#2a2a2a" stroke-width="0.8"/>
<line x1="116.30000000000001" y1="389.4" x2="116.30000000000001" y2="396.5" stroke="#2a2a2a" stroke-width="0.8"/>
<line x1="134.2" y1="389.4" x2="134.2" y2="396.5" stroke="#2a2a2a" stroke-width="0.8"/>
<text transform="translate(64.64,408.70) scale(0.9888,1)" font-size="9.309" fill="#231f20" >0</text>
<text transform="translate(79.61,408.70) scale(1.1000,1)" font-size="9.309" fill="#231f20" >30</text>
<text transform="translate(101.68,408.70) scale(0.9063,1)" font-size="9.309" fill="#231f20" >3</text>
<text transform="translate(113.51,408.70) scale(1.0787,1)" font-size="9.309" fill="#231f20" >0</text>
<text transform="translate(131.68,408.70) scale(0.9063,1)" font-size="9.309" fill="#231f20" >3</text>
<rect x="350.2" y="216.1" width="6.60" height="6.60" fill="#2e4a82"/>
<rect x="350.2" y="228.7" width="6.60" height="6.60" fill="#c8107a"/>
<rect x="444.7" y="216.1" width="6.40" height="6.60" fill="#68a84a"/>
<rect x="444.7" y="228.7" width="6.40" height="6.60" fill="#e28c1e"/>
<text transform="translate(359.63,222.70) scale(0.8326,1)" font-size="8.694" fill="#231f20" stroke="#231f20" stroke-width="0.12" letter-spacing="0.348">IRF4 bound</text>
<text transform="translate(359.71,235.30) scale(0.8325,1)" font-size="8.694" fill="#231f20" stroke="#231f20" stroke-width="0.12" letter-spacing="0.348">No IRF4 bound</text>
<text transform="translate(454.63,222.70) scale(0.8439,1)" font-size="8.694" fill="#231f20" stroke="#231f20" stroke-width="0.12" letter-spacing="0.348">p65 Bound</text>
<text transform="translate(454.49,235.30) scale(0.8565,1)" font-size="8.694" fill="#231f20" stroke="#231f20" stroke-width="0.12" letter-spacing="0.348">No p65 Bound</text>
<path d="M385.0,267.2 L385.00,243.50 A23.7,23.7 0 0 1 389.44,290.48 Z" fill="#2e4a82"/>
<path d="M385.0,267.2 L389.44,290.48 A23.7,23.7 0 1 1 385.00,243.50 Z" fill="#c8107a"/>
<line x1="385.0" y1="267.2" x2="385.00" y2="243.80" stroke="#c8107a" stroke-width="0.5"/>
<line x1="385.0" y1="267.2" x2="389.38" y2="290.19" stroke="#c8107a" stroke-width="0.5"/>
<path d="M385.3,341.2 L385.30,317.40 A23.8,23.8 0 1 1 375.17,319.67 Z" fill="#2e4a82"/>
<path d="M385.3,341.2 L375.17,319.67 A23.8,23.8 0 0 1 385.30,317.40 Z" fill="#c8107a"/>
<line x1="385.3" y1="341.2" x2="385.30" y2="317.70" stroke="#2e4a82" stroke-width="0.5"/>
<line x1="385.3" y1="341.2" x2="375.29" y2="319.94" stroke="#2e4a82" stroke-width="0.5"/>
<path d="M480.4,267.1 L480.40,243.10 A24.0,24.0 0 1 1 473.99,290.23 Z" fill="#68a84a"/>
<path d="M480.4,267.1 L473.99,290.23 A24.0,24.0 0 0 1 480.40,243.10 Z" fill="#e28c1e"/>
<line x1="480.4" y1="267.1" x2="480.40" y2="243.40" stroke="#68a84a" stroke-width="0.5"/>
<line x1="480.4" y1="267.1" x2="474.07" y2="289.94" stroke="#68a84a" stroke-width="0.5"/>
<path d="M480.5,340.6 L480.50,316.60 A24.0,24.0 0 1 1 477.19,316.83 Z" fill="#68a84a"/>
<path d="M480.5,340.6 L477.19,316.83 A24.0,24.0 0 0 1 480.50,316.60 Z" fill="#e28c1e"/>
<line x1="480.5" y1="340.6" x2="480.50" y2="316.90" stroke="#68a84a" stroke-width="0.5"/>
<line x1="480.5" y1="340.6" x2="477.23" y2="317.13" stroke="#68a84a" stroke-width="0.5"/>
<text transform="translate(388.83,265.60) scale(0.9273,1)" font-size="8.215" fill="#f2f2f2">47%</text>
<text transform="translate(364.49,276.00) scale(0.9414,1)" font-size="8.163" fill="#f2f2f2">53%</text>
<text transform="translate(380.80,328.90) scale(0.9090,1)" font-size="8.503" fill="#f2f2f2">7%</text>
<text transform="translate(378.33,355.10) scale(0.9410,1)" font-size="8.307" fill="#f2f2f2">93%</text>
<text transform="translate(457.23,267.40) scale(0.9415,1)" font-size="8.071" fill="#231f20" stroke="#231f20" stroke-width="0.12">45.7%</text>
<text transform="translate(478.19,283.10) scale(0.9410,1)" font-size="8.163" fill="#231f20" stroke="#231f20" stroke-width="0.12">54.3%</text>
<text transform="translate(473.82,329.20) scale(0.9271,1)" font-size="8.163" fill="#231f20" stroke="#231f20" stroke-width="0.12">2.2%</text>
<text transform="translate(469.94,355.10) scale(0.9114,1)" font-size="8.450" fill="#231f20" stroke="#231f20" stroke-width="0.12">97.8%</text>
<text transform="translate(353.44,302.70) scale(0.8605,1)" font-size="8.418" fill="#231f20" stroke="#231f20" stroke-width="0.12" letter-spacing="0.337">Typical Enhancers</text>
<text transform="translate(354.96,376.50) scale(0.8745,1)" font-size="8.556" fill="#231f20" stroke="#231f20" stroke-width="0.12" letter-spacing="0.342">Super Enhancers</text>
<text transform="translate(448.04,302.80) scale(0.8572,1)" font-size="8.556" fill="#231f20" stroke="#231f20" stroke-width="0.12" letter-spacing="0.342">Typical Enhancers</text>
<text transform="translate(449.16,377.10) scale(0.8649,1)" font-size="8.694" fill="#231f20" stroke="#231f20" stroke-width="0.12" letter-spacing="0.348">Super Enhancers</text>
<text transform="translate(74.30,449.50) scale(0.8365,1)" font-size="8.736" fill="#231f20" stroke="#231f20" stroke-width="0.12" letter-spacing="0.349">NFKB2 RELA RELB</text>
<text transform="translate(102.03,459.10) scale(0.7669,1)" font-size="9.012" fill="#231f20" stroke="#231f20" stroke-width="0.12" letter-spacing="0.360">REL</text>
<text transform="translate(93.47,502.50) scale(0.9436,1)" font-size="8.736" fill="#231f20" stroke="#231f20" stroke-width="0.12">1.7e-572</text>
<text transform="translate(219.49,449.10) scale(0.9808,1)" font-size="7.866" fill="#231f20" stroke="#231f20" stroke-width="0.12" letter-spacing="0.315">IRF4/5/8</text>
<text transform="translate(223.38,458.90) scale(0.8914,1)" font-size="7.877" fill="#231f20" stroke="#231f20" stroke-width="0.12" letter-spacing="0.315">STAT2</text>
<text transform="translate(219.47,502.90) scale(0.9327,1)" font-size="8.879" fill="#231f20" stroke="#231f20" stroke-width="0.12">5.5e-076</text>
<text transform="translate(32.89,529.10) scale(0.9072,1)" font-size="8.163" fill="#231f20" stroke="#231f20" stroke-width="0.12" letter-spacing="0.490">AP-1 FOSL1 JUN</text>
<text transform="translate(29.71,538.80) scale(0.8534,1)" font-size="8.450" fill="#231f20" stroke="#231f20" stroke-width="0.12" letter-spacing="0.507">BATF FOSL2 JUNB</text>
<text transform="translate(48.67,578.70) scale(1.0033,1)" font-size="8.307" fill="#231f20" stroke="#231f20" stroke-width="0.12">1.4e-163</text>
<text transform="translate(159.20,540.30) scale(0.8201,1)" font-size="8.866" fill="#231f20" stroke="#231f20" stroke-width="0.12" letter-spacing="0.355">NFAT5 ZEP1</text>
<text transform="translate(165.98,579.10) scale(0.9784,1)" font-size="8.450" fill="#231f20" stroke="#231f20" stroke-width="0.12">6.4e-337</text>
<text transform="translate(276.15,540.10) scale(0.9849,1)" font-size="8.004" fill="#231f20" stroke="#231f20" stroke-width="0.12" letter-spacing="0.320">RUNX1/2/3</text>
<text transform="translate(281.12,578.90) scale(0.9374,1)" font-size="8.450" fill="#231f20" stroke="#231f20" stroke-width="0.12">4.0e-071</text>
<path d="M69.52,489.26A5.02,0.13 0 1 0 69.52,489.44" fill="none" stroke="#232d96" stroke-width="0.35" stroke-linejoin="miter"/>
<path d="M60.60,488.48H69.40M65.00,488.30V489.10" fill="none" stroke="#167a3c" stroke-width="0.35"/>
<path d="M69.33,485.79A4.81,1.35 0 1 0 70.12,487.27V486.70H66.00" fill="none" stroke="#f4a40e" stroke-width="0.70" stroke-linejoin="miter"/>
<path d="M78.98,477.83A3.92,6.53 0 1 0 79.62,484.96V482.20H76.27" fill="none" stroke="#f4a40e" stroke-width="2.50" stroke-linejoin="miter"/>
<path d="M88.28,477.83A3.81,6.53 0 1 0 88.90,484.96V482.20H85.64" fill="none" stroke="#f4a40e" stroke-width="2.49" stroke-linejoin="miter"/>
<path d="M98.94,487.25A4.54,1.27 0 1 0 99.68,488.64V488.10H95.79" fill="none" stroke="#f4a40e" stroke-width="0.66" stroke-linejoin="miter"/>
<path d="M91.38,486.60L94.85,480.95L98.32,486.60M92.42,484.74H97.28" fill="none" stroke="#cf1b2e" stroke-width="1.36" stroke-linejoin="miter"/>
<path d="M108.99,489.35A4.42,0.08 0 1 0 108.99,489.45" fill="none" stroke="#232d96" stroke-width="0.35" stroke-linejoin="miter"/>
<path d="M101.39,489.20L105.00,486.83L108.61,489.20M102.47,488.42H107.53" fill="none" stroke="#cf1b2e" stroke-width="0.57" stroke-linejoin="miter"/>
<path d="M110.40,475.76H119.50M114.95,474.80V489.60" fill="none" stroke="#167a3c" stroke-width="1.91"/>
<path d="M120.60,471.53H129.50M125.05,470.60V489.60" fill="none" stroke="#167a3c" stroke-width="1.87"/>
<path d="M130.28,489.60L134.35,488.94L138.42,489.60M131.50,489.36H137.20" fill="none" stroke="#cf1b2e" stroke-width="0.35" stroke-linejoin="miter"/>
<path d="M138.71,487.63A4.84,0.63 0 1 0 138.71,488.47" fill="none" stroke="#232d96" stroke-width="0.35" stroke-linejoin="miter"/>
<path d="M130.10,480.89H138.60M134.35,480.10V487.30" fill="none" stroke="#167a3c" stroke-width="1.58"/>
<path d="M148.14,475.13A3.59,8.18 0 1 0 148.14,486.07" fill="none" stroke="#232d96" stroke-width="2.35" stroke-linejoin="miter"/>
<path d="M157.68,475.16A3.81,8.13 0 1 0 157.68,486.04" fill="none" stroke="#232d96" stroke-width="2.49" stroke-linejoin="miter"/>
<path d="M181.21,487.50A3.18,0.23 0 1 0 181.21,487.80" fill="none" stroke="#232d96" stroke-width="0.35" stroke-linejoin="miter"/>
<path d="M175.68,487.30L178.35,486.54L181.02,487.30M176.48,487.03H180.22" fill="none" stroke="#cf1b2e" stroke-width="0.35" stroke-linejoin="miter"/>
<path d="M184.50,487.48H189.50M187.00,487.30V488.00" fill="none" stroke="#167a3c" stroke-width="0.35"/>
<path d="M189.49,486.63A2.76,0.33 0 1 0 189.94,486.99V486.85H187.57" fill="none" stroke="#f4a40e" stroke-width="0.35" stroke-linejoin="miter"/>
<path d="M196.16,487.58A2.29,0.18 0 1 0 196.16,487.82" fill="none" stroke="#232d96" stroke-width="0.35" stroke-linejoin="miter"/>
<path d="M192.00,486.47H196.20M194.10,486.30V487.40" fill="none" stroke="#167a3c" stroke-width="0.35"/>
<path d="M206.35,487.58A3.83,0.18 0 1 0 206.35,487.82" fill="none" stroke="#232d96" stroke-width="0.35" stroke-linejoin="miter"/>
<path d="M206.35,486.81A3.83,0.28 0 1 0 206.98,487.12V487.00H203.70" fill="none" stroke="#f4a40e" stroke-width="0.35" stroke-linejoin="miter"/>
<path d="M200.01,486.60L202.90,482.40L205.79,486.60M200.87,485.22H204.93" fill="none" stroke="#cf1b2e" stroke-width="1.01" stroke-linejoin="miter"/>
<path d="M207.68,488.00L210.00,487.54L212.32,488.00M208.37,487.82H211.63" fill="none" stroke="#cf1b2e" stroke-width="0.35" stroke-linejoin="miter"/>
<path d="M207.50,486.18H212.50M210.00,486.00V487.40" fill="none" stroke="#167a3c" stroke-width="0.35"/>
<path d="M222.08,476.01A3.42,6.72 0 1 0 222.08,484.99" fill="none" stroke="#232d96" stroke-width="2.24" stroke-linejoin="miter"/>
<path d="M230.39,472.47A3.21,8.86 0 1 0 230.91,482.15V478.40H228.17" fill="none" stroke="#f4a40e" stroke-width="2.10" stroke-linejoin="miter"/>
<path d="M232.62,488.00L235.88,471.99L239.13,488.00M233.59,482.99H238.16" fill="none" stroke="#cf1b2e" stroke-width="1.73" stroke-linejoin="miter"/>
<path d="M240.84,488.00L244.00,471.97L247.16,488.00M241.79,482.99H246.21" fill="none" stroke="#cf1b2e" stroke-width="1.68" stroke-linejoin="miter"/>
<path d="M248.87,488.00L252.12,470.69L255.38,488.00M249.84,482.60H254.41" fill="none" stroke="#cf1b2e" stroke-width="1.73" stroke-linejoin="miter"/>
<path d="M263.55,476.69A3.53,6.29 0 1 0 263.55,485.11" fill="none" stroke="#232d96" stroke-width="2.31" stroke-linejoin="miter"/>
<path d="M265.18,488.00L268.75,487.54L272.32,488.00M266.25,487.82H271.25" fill="none" stroke="#cf1b2e" stroke-width="0.35" stroke-linejoin="miter"/>
<path d="M265.00,485.44H272.50M268.75,485.20V487.40" fill="none" stroke="#167a3c" stroke-width="0.48"/>
<path d="M272.21,481.52A3.84,1.99 0 1 0 272.21,484.18" fill="none" stroke="#232d96" stroke-width="1.03" stroke-linejoin="miter"/>
<path d="M280.03,487.50A3.50,0.23 0 1 0 280.61,487.75V487.65H277.60" fill="none" stroke="#f4a40e" stroke-width="0.35" stroke-linejoin="miter"/>
<path d="M273.93,487.30L276.88,486.54L279.82,487.30M274.81,487.03H278.94" fill="none" stroke="#cf1b2e" stroke-width="0.35" stroke-linejoin="miter"/>
<path d="M283.93,488.00L285.62,487.44L287.32,488.00M284.43,487.79H286.82" fill="none" stroke="#cf1b2e" stroke-width="0.35" stroke-linejoin="miter"/>
<path d="M294.95,487.41A2.17,0.28 0 1 0 294.95,487.79" fill="none" stroke="#232d96" stroke-width="0.35" stroke-linejoin="miter"/>
<path d="M291.18,487.20L293.00,486.04L294.82,487.20M291.72,486.81H294.28" fill="none" stroke="#cf1b2e" stroke-width="0.35" stroke-linejoin="miter"/>
<path d="M17.40,551.86H26.50M21.95,550.90V566.00" fill="none" stroke="#167a3c" stroke-width="1.91"/>
<path d="M28.00,562.35H38.60M33.30,561.90V566.00" fill="none" stroke="#167a3c" stroke-width="0.90"/>
<path d="M38.43,558.30A5.69,1.95 0 1 0 39.36,560.42V559.60H34.49" fill="none" stroke="#f4a40e" stroke-width="1.01" stroke-linejoin="miter"/>
<path d="M42.70,566.00L46.80,551.70L50.90,566.00M43.93,561.47H49.67" fill="none" stroke="#cf1b2e" stroke-width="2.00" stroke-linejoin="miter"/>
<path d="M62.86,563.26A5.84,1.48 0 1 0 63.81,564.88V564.25H58.82" fill="none" stroke="#f4a40e" stroke-width="0.77" stroke-linejoin="miter"/>
<path d="M63.00,560.70A6.00,0.97 0 1 0 63.98,561.76V561.35H58.85" fill="none" stroke="#f4a40e" stroke-width="0.51" stroke-linejoin="miter"/>
<path d="M62.97,558.16A5.96,1.10 0 1 0 62.97,559.64" fill="none" stroke="#232d96" stroke-width="0.57" stroke-linejoin="miter"/>
<path d="M67.10,551.90H77.30M72.20,550.90V566.00" fill="none" stroke="#167a3c" stroke-width="2.00"/>
<path d="M88.33,553.98A4.75,6.68 0 1 0 88.33,562.92" fill="none" stroke="#232d96" stroke-width="2.50" stroke-linejoin="miter"/>
<path d="M91.40,566.00L95.70,551.70L100.00,566.00M92.69,561.47H98.71" fill="none" stroke="#cf1b2e" stroke-width="2.00" stroke-linejoin="miter"/>
<path d="M112.79,565.08A6.09,0.48 0 1 0 113.78,565.60V565.40H108.57" fill="none" stroke="#f4a40e" stroke-width="0.35" stroke-linejoin="miter"/>
<path d="M102.00,563.47H112.60M107.30,563.30V564.80" fill="none" stroke="#167a3c" stroke-width="0.35"/>
<path d="M112.79,562.38A6.09,0.48 0 1 0 112.79,563.02" fill="none" stroke="#232d96" stroke-width="0.35" stroke-linejoin="miter"/>
<path d="M102.17,562.10L107.30,561.04L112.42,562.10M103.71,561.74H110.89" fill="none" stroke="#cf1b2e" stroke-width="0.35" stroke-linejoin="miter"/>
<path d="M137.78,565.66A4.37,0.13 0 1 0 137.78,565.84" fill="none" stroke="#232d96" stroke-width="0.35" stroke-linejoin="miter"/>
<path d="M137.78,564.83A4.37,0.33 0 1 0 138.50,565.19V565.05H134.76" fill="none" stroke="#f4a40e" stroke-width="0.35" stroke-linejoin="miter"/>
<path d="M138.61,566.00L143.00,564.27L147.39,566.00M139.93,565.43H146.07" fill="none" stroke="#cf1b2e" stroke-width="0.42" stroke-linejoin="miter"/>
<path d="M146.96,557.68A4.39,3.47 0 1 0 147.68,561.47V560.00H143.91" fill="none" stroke="#f4a40e" stroke-width="1.80" stroke-linejoin="miter"/>
<path d="M156.29,554.65A4.04,6.27 0 1 0 156.95,561.50V558.85H153.49" fill="none" stroke="#f4a40e" stroke-width="2.50" stroke-linejoin="miter"/>
<path d="M164.73,564.43A4.13,0.85 0 1 0 164.73,565.57" fill="none" stroke="#232d96" stroke-width="0.44" stroke-linejoin="miter"/>
<path d="M164.35,559.93A3.72,2.20 0 1 0 164.96,562.33V561.40H161.77" fill="none" stroke="#f4a40e" stroke-width="1.14" stroke-linejoin="miter"/>
<path d="M165.40,564.67H173.90M169.65,564.50V566.00" fill="none" stroke="#167a3c" stroke-width="0.35"/>
<path d="M166.29,564.50L169.65,555.71L173.01,564.50M167.30,561.65H172.00" fill="none" stroke="#cf1b2e" stroke-width="1.78" stroke-linejoin="miter"/>
<path d="M182.73,564.28A4.52,0.93 0 1 0 182.73,565.52" fill="none" stroke="#232d96" stroke-width="0.48" stroke-linejoin="miter"/>
<path d="M174.60,558.46H182.70M178.65,557.80V563.80" fill="none" stroke="#167a3c" stroke-width="1.32"/>
<path d="M183.60,552.04H191.60M187.60,551.20V566.00" fill="none" stroke="#167a3c" stroke-width="1.68"/>
<path d="M199.40,563.81A3.49,1.18 0 1 0 199.40,565.39" fill="none" stroke="#232d96" stroke-width="0.62" stroke-linejoin="miter"/>
<path d="M193.00,558.13H199.50M196.25,557.50V563.20" fill="none" stroke="#167a3c" stroke-width="1.25"/>
<path d="M201.60,563.69H208.00M204.80,563.40V566.00" fill="none" stroke="#167a3c" stroke-width="0.57"/>
<path d="M207.59,559.17A3.10,2.28 0 1 0 207.59,562.23" fill="none" stroke="#232d96" stroke-width="1.19" stroke-linejoin="miter"/>
<path d="M209.90,563.69H216.60M213.25,563.40V566.00" fill="none" stroke="#167a3c" stroke-width="0.57"/>
<path d="M216.20,559.17A3.27,2.28 0 1 0 216.20,562.23" fill="none" stroke="#232d96" stroke-width="1.19" stroke-linejoin="miter"/>
<path d="M226.14,554.39A3.21,6.51 0 1 0 226.14,563.11" fill="none" stroke="#232d96" stroke-width="2.10" stroke-linejoin="miter"/>
<path d="M235.46,565.33A3.95,0.33 0 1 0 236.10,565.69V565.55H232.72" fill="none" stroke="#f4a40e" stroke-width="0.35" stroke-linejoin="miter"/>
<path d="M228.66,565.10L231.90,562.91L235.14,565.10M229.63,564.38H234.17" fill="none" stroke="#cf1b2e" stroke-width="0.53" stroke-linejoin="miter"/>
<path d="M254.60,564.88H261.00M257.80,564.70V565.50" fill="none" stroke="#167a3c" stroke-width="0.35"/>
<path d="M261.04,564.11A3.59,0.28 0 1 0 261.62,564.42V564.30H258.55" fill="none" stroke="#f4a40e" stroke-width="0.35" stroke-linejoin="miter"/>
<path d="M254.78,563.90L257.80,563.04L260.82,563.90M255.68,563.60H259.92" fill="none" stroke="#cf1b2e" stroke-width="0.35" stroke-linejoin="miter"/>
<path d="M269.69,563.93A3.60,0.85 0 1 0 270.28,564.86V564.50H267.20" fill="none" stroke="#f4a40e" stroke-width="0.44" stroke-linejoin="miter"/>
<path d="M263.58,563.50L266.45,560.31L269.31,563.50M264.44,562.45H268.46" fill="none" stroke="#cf1b2e" stroke-width="0.77" stroke-linejoin="miter"/>
<path d="M272.86,565.50L276.10,552.09L279.34,565.50M273.83,561.27H278.37" fill="none" stroke="#cf1b2e" stroke-width="1.72" stroke-linejoin="miter"/>
<path d="M287.87,550.42A3.46,8.56 0 1 0 287.87,561.88" fill="none" stroke="#232d96" stroke-width="2.27" stroke-linejoin="miter"/>
<path d="M296.29,550.75A3.38,8.38 0 1 0 296.29,561.95" fill="none" stroke="#232d96" stroke-width="2.21" stroke-linejoin="miter"/>
<path d="M298.19,565.50L301.85,563.13L305.51,565.50M299.29,564.72H304.41" fill="none" stroke="#cf1b2e" stroke-width="0.57" stroke-linejoin="miter"/>
<path d="M305.53,559.22A4.08,1.99 0 1 0 306.19,561.39V560.55H302.70" fill="none" stroke="#f4a40e" stroke-width="1.03" stroke-linejoin="miter"/>
<path d="M313.96,551.68A3.51,7.80 0 1 0 313.96,562.12" fill="none" stroke="#232d96" stroke-width="2.30" stroke-linejoin="miter"/>
<path d="M316.57,565.50L319.45,552.01L322.33,565.50M317.43,561.27H321.47" fill="none" stroke="#cf1b2e" stroke-width="1.53" stroke-linejoin="miter"/>
<path d="M331.44,564.58A3.59,0.48 0 1 0 332.02,565.10V564.90H328.95" fill="none" stroke="#f4a40e" stroke-width="0.35" stroke-linejoin="miter"/>
<path d="M325.42,564.30L328.20,560.83L330.98,564.30M326.25,563.16H330.15" fill="none" stroke="#cf1b2e" stroke-width="0.84" stroke-linejoin="miter"/>
<path d="M340.57,565.08A4.13,0.18 0 1 0 341.24,565.28V565.20H337.71" fill="none" stroke="#f4a40e" stroke-width="0.35" stroke-linejoin="miter"/>
<path d="M333.38,564.90L336.85,563.44L340.32,564.90M334.42,564.42H339.28" fill="none" stroke="#cf1b2e" stroke-width="0.35" stroke-linejoin="miter"/>
<rect x="0.5" y="0.5" width="518.6" height="586.6" fill="none" stroke="#000" stroke-width="1"/>
<line x1="519.5" y1="0" x2="519.5" y2="588" stroke="#000" stroke-width="1"/>
<line x1="0" y1="587.5" x2="520" y2="587.5" stroke="#000" stroke-width="1"/>
</svg>
</body></html>
